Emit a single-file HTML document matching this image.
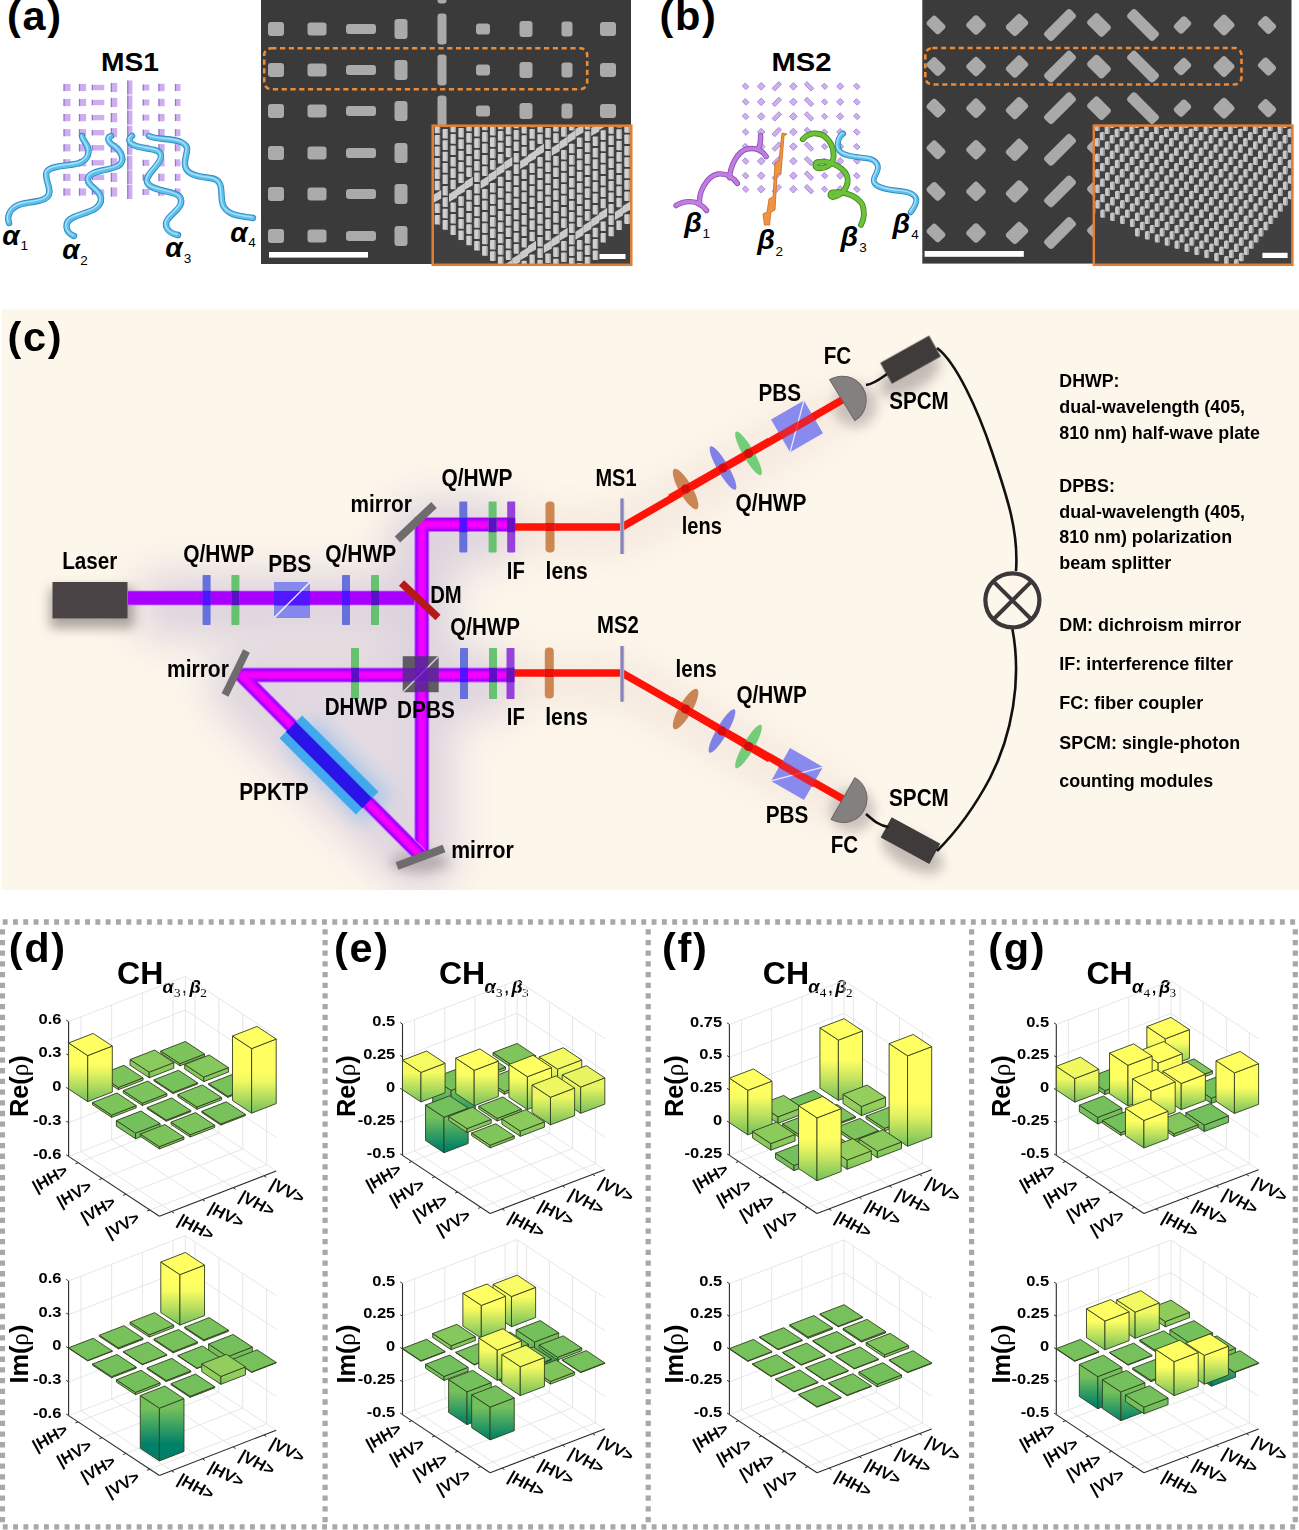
<!DOCTYPE html>
<html><head><meta charset="utf-8"><title>Figure</title>
<style>html,body{margin:0;padding:0;background:#fff;width:1299px;height:1530px;overflow:hidden}svg{display:block}</style>
</head><body>
<svg width="1299" height="1530" viewBox="0 0 1299 1530">
<defs><filter id="semnoise" x="0" y="0" width="100%" height="100%"><feTurbulence type="fractalNoise" baseFrequency="0.035" numOctaves="2" seed="3" result="n"/><feColorMatrix in="n" type="matrix" values="0 0 0 0 0.23  0 0 0 0 0.23  0 0 0 0 0.23  0 0 0 0.35 0" result="c"/><feComposite in="c" in2="SourceGraphic" operator="in" result="d"/><feMerge><feMergeNode in="SourceGraphic"/><feMergeNode in="d"/></feMerge></filter>
<filter id="blur6" x="-50%" y="-50%" width="200%" height="200%"><feGaussianBlur stdDeviation="6"/></filter>
<filter id="blur10" x="-20%" y="-20%" width="140%" height="140%"><feGaussianBlur stdDeviation="10"/></filter>
<filter id="blur14" x="-20%" y="-20%" width="140%" height="140%"><feGaussianBlur stdDeviation="14"/></filter>
<filter id="blur20" x="-30%" y="-30%" width="160%" height="160%"><feGaussianBlur stdDeviation="20"/></filter>
<clipPath id="clipa"><rect x="432.7" y="125.7" width="198.6" height="139.1"/></clipPath>
<clipPath id="clipb"><rect x="1093.8" y="125.6" width="198.6" height="139.2"/></clipPath>
<clipPath id="clipc"><rect x="1" y="309" width="1298" height="581"/></clipPath>
<linearGradient id="g1" gradientUnits="userSpaceOnUse" x1="0" y1="1072.17" x2="0" y2="1077.79"><stop offset="0" stop-color="#8aca5d"/><stop offset="0.17" stop-color="#86c85d"/><stop offset="0.33" stop-color="#82c75d"/><stop offset="0.5" stop-color="#7fc55c"/><stop offset="0.67" stop-color="#7bc35c"/><stop offset="0.83" stop-color="#78c25c"/><stop offset="1" stop-color="#74c05c"/></linearGradient>
<linearGradient id="g2" gradientUnits="userSpaceOnUse" x1="0" y1="1077.14" x2="0" y2="1081.63"><stop offset="0" stop-color="#85c85d"/><stop offset="0.17" stop-color="#82c75d"/><stop offset="0.33" stop-color="#80c55c"/><stop offset="0.5" stop-color="#7dc45c"/><stop offset="0.67" stop-color="#7ac35c"/><stop offset="0.83" stop-color="#77c15c"/><stop offset="1" stop-color="#74c05c"/></linearGradient>
<linearGradient id="g3" gradientUnits="userSpaceOnUse" x1="0" y1="1055.59" x2="0" y2="1101.63"><stop offset="0" stop-color="#ffff62"/><stop offset="0.17" stop-color="#ffff62"/><stop offset="0.33" stop-color="#ebf661"/><stop offset="0.5" stop-color="#cde860"/><stop offset="0.67" stop-color="#afdb5f"/><stop offset="0.83" stop-color="#92cd5d"/><stop offset="1" stop-color="#74c05c"/></linearGradient>
<linearGradient id="g4" gradientUnits="userSpaceOnUse" x1="0" y1="1048.58" x2="0" y2="1113.16"><stop offset="0" stop-color="#ffff62"/><stop offset="0.17" stop-color="#ffff62"/><stop offset="0.33" stop-color="#ffff62"/><stop offset="0.5" stop-color="#f1f961"/><stop offset="0.67" stop-color="#c7e660"/><stop offset="0.83" stop-color="#9ed35e"/><stop offset="1" stop-color="#74c05c"/></linearGradient>
<linearGradient id="g5" gradientUnits="userSpaceOnUse" x1="0" y1="1133.16" x2="0" y2="1138.77"><stop offset="0" stop-color="#74c05c"/><stop offset="0.17" stop-color="#71be5c"/><stop offset="0.33" stop-color="#6ebd5d"/><stop offset="0.5" stop-color="#6bbb5d"/><stop offset="0.67" stop-color="#68b95d"/><stop offset="0.83" stop-color="#65b85e"/><stop offset="1" stop-color="#62b65e"/></linearGradient>
<linearGradient id="g6" gradientUnits="userSpaceOnUse" x1="0" y1="1274.64" x2="0" y2="1325.13"><stop offset="0" stop-color="#ffff62"/><stop offset="0.17" stop-color="#ffff62"/><stop offset="0.33" stop-color="#f6fb62"/><stop offset="0.5" stop-color="#d6ec60"/><stop offset="0.67" stop-color="#b5de5f"/><stop offset="0.83" stop-color="#95cf5d"/><stop offset="1" stop-color="#74c05c"/></linearGradient>
<linearGradient id="g7" gradientUnits="userSpaceOnUse" x1="0" y1="1356.65" x2="0" y2="1364.51"><stop offset="0" stop-color="#74c05c"/><stop offset="0.17" stop-color="#70be5c"/><stop offset="0.33" stop-color="#6cbb5d"/><stop offset="0.5" stop-color="#67b95d"/><stop offset="0.67" stop-color="#63b75e"/><stop offset="0.83" stop-color="#5fb45e"/><stop offset="1" stop-color="#5bb25f"/></linearGradient>
<linearGradient id="g8" gradientUnits="userSpaceOnUse" x1="0" y1="1376.48" x2="0" y2="1384.34"><stop offset="0" stop-color="#92ce5d"/><stop offset="0.17" stop-color="#8dcb5d"/><stop offset="0.33" stop-color="#88c95d"/><stop offset="0.5" stop-color="#83c75d"/><stop offset="0.67" stop-color="#7ec55c"/><stop offset="0.83" stop-color="#79c25c"/><stop offset="1" stop-color="#74c05c"/></linearGradient>
<linearGradient id="g9" gradientUnits="userSpaceOnUse" x1="0" y1="1408.18" x2="0" y2="1460.91"><stop offset="0" stop-color="#74c05c"/><stop offset="0.17" stop-color="#58b05f"/><stop offset="0.33" stop-color="#3ba162"/><stop offset="0.5" stop-color="#1f9165"/><stop offset="0.67" stop-color="#028168"/><stop offset="0.83" stop-color="#008068"/><stop offset="1" stop-color="#008068"/></linearGradient>
<linearGradient id="g10" gradientUnits="userSpaceOnUse" x1="0" y1="1090.48" x2="0" y2="1125.93"><stop offset="0" stop-color="#74c05c"/><stop offset="0.17" stop-color="#5eb45e"/><stop offset="0.33" stop-color="#48a860"/><stop offset="0.5" stop-color="#339c63"/><stop offset="0.67" stop-color="#1d9065"/><stop offset="0.83" stop-color="#078467"/><stop offset="1" stop-color="#008068"/></linearGradient>
<linearGradient id="g11" gradientUnits="userSpaceOnUse" x1="0" y1="1069.17" x2="0" y2="1098.06"><stop offset="0" stop-color="#f3fa62"/><stop offset="0.17" stop-color="#def061"/><stop offset="0.33" stop-color="#c9e660"/><stop offset="0.5" stop-color="#b4dd5f"/><stop offset="0.67" stop-color="#9ed35e"/><stop offset="0.83" stop-color="#89ca5d"/><stop offset="1" stop-color="#74c05c"/></linearGradient>
<linearGradient id="g12" gradientUnits="userSpaceOnUse" x1="0" y1="1072.44" x2="0" y2="1101.98"><stop offset="0" stop-color="#f6fb62"/><stop offset="0.17" stop-color="#e1f161"/><stop offset="0.33" stop-color="#cbe760"/><stop offset="0.5" stop-color="#b5de5f"/><stop offset="0.67" stop-color="#9fd45e"/><stop offset="0.83" stop-color="#8aca5d"/><stop offset="1" stop-color="#74c05c"/></linearGradient>
<linearGradient id="g13" gradientUnits="userSpaceOnUse" x1="0" y1="1070.32" x2="0" y2="1105.77"><stop offset="0" stop-color="#ffff62"/><stop offset="0.17" stop-color="#f6fb62"/><stop offset="0.33" stop-color="#dcef60"/><stop offset="0.5" stop-color="#c2e35f"/><stop offset="0.67" stop-color="#a8d85e"/><stop offset="0.83" stop-color="#8ecc5d"/><stop offset="1" stop-color="#74c05c"/></linearGradient>
<linearGradient id="g14" gradientUnits="userSpaceOnUse" x1="0" y1="1076.74" x2="0" y2="1109.56"><stop offset="0" stop-color="#ffff62"/><stop offset="0.17" stop-color="#edf761"/><stop offset="0.33" stop-color="#d5ec60"/><stop offset="0.5" stop-color="#bce15f"/><stop offset="0.67" stop-color="#a4d65e"/><stop offset="0.83" stop-color="#8ccb5d"/><stop offset="1" stop-color="#74c05c"/></linearGradient>
<linearGradient id="g15" gradientUnits="userSpaceOnUse" x1="0" y1="1087.09" x2="0" y2="1113.35"><stop offset="0" stop-color="#e8f461"/><stop offset="0.17" stop-color="#d5ec60"/><stop offset="0.33" stop-color="#c1e35f"/><stop offset="0.5" stop-color="#aeda5e"/><stop offset="0.67" stop-color="#9bd25e"/><stop offset="0.83" stop-color="#87c95d"/><stop offset="1" stop-color="#74c05c"/></linearGradient>
<linearGradient id="g16" gradientUnits="userSpaceOnUse" x1="0" y1="1117.27" x2="0" y2="1152.72"><stop offset="0" stop-color="#74c05c"/><stop offset="0.17" stop-color="#5eb45e"/><stop offset="0.33" stop-color="#48a860"/><stop offset="0.5" stop-color="#339c63"/><stop offset="0.67" stop-color="#1d9065"/><stop offset="0.83" stop-color="#078467"/><stop offset="1" stop-color="#008068"/></linearGradient>
<linearGradient id="g17" gradientUnits="userSpaceOnUse" x1="0" y1="1097.28" x2="0" y2="1124.85"><stop offset="0" stop-color="#eef761"/><stop offset="0.17" stop-color="#d9ee60"/><stop offset="0.33" stop-color="#c5e560"/><stop offset="0.5" stop-color="#b1dc5f"/><stop offset="0.67" stop-color="#9dd25e"/><stop offset="0.83" stop-color="#88c95d"/><stop offset="1" stop-color="#74c05c"/></linearGradient>
<linearGradient id="g18" gradientUnits="userSpaceOnUse" x1="0" y1="1128.62" x2="0" y2="1132.56"><stop offset="0" stop-color="#85c85d"/><stop offset="0.17" stop-color="#82c75d"/><stop offset="0.33" stop-color="#80c55c"/><stop offset="0.5" stop-color="#7dc45c"/><stop offset="0.67" stop-color="#7ac35c"/><stop offset="0.83" stop-color="#77c15c"/><stop offset="1" stop-color="#74c05c"/></linearGradient>
<linearGradient id="g19" gradientUnits="userSpaceOnUse" x1="0" y1="1131.1" x2="0" y2="1136.35"><stop offset="0" stop-color="#8bca5d"/><stop offset="0.17" stop-color="#87c95d"/><stop offset="0.33" stop-color="#83c75d"/><stop offset="0.5" stop-color="#80c55c"/><stop offset="0.67" stop-color="#7cc45c"/><stop offset="0.83" stop-color="#78c25c"/><stop offset="1" stop-color="#74c05c"/></linearGradient>
<linearGradient id="g20" gradientUnits="userSpaceOnUse" x1="0" y1="1296.56" x2="0" y2="1326.73"><stop offset="0" stop-color="#f9fc62"/><stop offset="0.17" stop-color="#e3f261"/><stop offset="0.33" stop-color="#cde860"/><stop offset="0.5" stop-color="#b7de5f"/><stop offset="0.67" stop-color="#a0d45e"/><stop offset="0.83" stop-color="#8aca5d"/><stop offset="1" stop-color="#74c05c"/></linearGradient>
<linearGradient id="g21" gradientUnits="userSpaceOnUse" x1="0" y1="1305.43" x2="0" y2="1338.23"><stop offset="0" stop-color="#ffff62"/><stop offset="0.17" stop-color="#edf761"/><stop offset="0.33" stop-color="#d5ec60"/><stop offset="0.5" stop-color="#bce15f"/><stop offset="0.67" stop-color="#a4d65e"/><stop offset="0.83" stop-color="#8ccb5d"/><stop offset="1" stop-color="#74c05c"/></linearGradient>
<linearGradient id="g22" gradientUnits="userSpaceOnUse" x1="0" y1="1342.02" x2="0" y2="1370.89"><stop offset="0" stop-color="#74c05c"/><stop offset="0.17" stop-color="#62b65e"/><stop offset="0.33" stop-color="#51ac60"/><stop offset="0.5" stop-color="#3fa362"/><stop offset="0.67" stop-color="#2d9963"/><stop offset="0.83" stop-color="#1b8f65"/><stop offset="1" stop-color="#0a8567"/></linearGradient>
<linearGradient id="g23" gradientUnits="userSpaceOnUse" x1="0" y1="1345.8" x2="0" y2="1349.73"><stop offset="0" stop-color="#85c85d"/><stop offset="0.17" stop-color="#82c75d"/><stop offset="0.33" stop-color="#80c55c"/><stop offset="0.5" stop-color="#7dc45c"/><stop offset="0.67" stop-color="#7ac35c"/><stop offset="0.83" stop-color="#77c15c"/><stop offset="1" stop-color="#74c05c"/></linearGradient>
<linearGradient id="g24" gradientUnits="userSpaceOnUse" x1="0" y1="1353.52" x2="0" y2="1383.7"><stop offset="0" stop-color="#74c05c"/><stop offset="0.17" stop-color="#61b65e"/><stop offset="0.33" stop-color="#4fac60"/><stop offset="0.5" stop-color="#3ca162"/><stop offset="0.67" stop-color="#2a9764"/><stop offset="0.83" stop-color="#178d66"/><stop offset="1" stop-color="#058368"/></linearGradient>
<linearGradient id="g25" gradientUnits="userSpaceOnUse" x1="0" y1="1376.52" x2="0" y2="1380.46"><stop offset="0" stop-color="#74c05c"/><stop offset="0.17" stop-color="#72bf5c"/><stop offset="0.33" stop-color="#6fbd5c"/><stop offset="0.5" stop-color="#6dbc5d"/><stop offset="0.67" stop-color="#6abb5d"/><stop offset="0.83" stop-color="#68b95d"/><stop offset="1" stop-color="#66b85e"/></linearGradient>
<linearGradient id="g26" gradientUnits="userSpaceOnUse" x1="0" y1="1350.13" x2="0" y2="1380.31"><stop offset="0" stop-color="#f9fc62"/><stop offset="0.17" stop-color="#e3f261"/><stop offset="0.33" stop-color="#cde860"/><stop offset="0.5" stop-color="#b7de5f"/><stop offset="0.67" stop-color="#a0d45e"/><stop offset="0.83" stop-color="#8aca5d"/><stop offset="1" stop-color="#74c05c"/></linearGradient>
<linearGradient id="g27" gradientUnits="userSpaceOnUse" x1="0" y1="1391.81" x2="0" y2="1424.61"><stop offset="0" stop-color="#74c05c"/><stop offset="0.17" stop-color="#60b55e"/><stop offset="0.33" stop-color="#4caa60"/><stop offset="0.5" stop-color="#389f62"/><stop offset="0.67" stop-color="#239464"/><stop offset="0.83" stop-color="#0f8866"/><stop offset="1" stop-color="#008068"/></linearGradient>
<linearGradient id="g28" gradientUnits="userSpaceOnUse" x1="0" y1="1366.74" x2="0" y2="1395.6"><stop offset="0" stop-color="#f3fa62"/><stop offset="0.17" stop-color="#def061"/><stop offset="0.33" stop-color="#c9e660"/><stop offset="0.5" stop-color="#b4dd5f"/><stop offset="0.67" stop-color="#9ed35e"/><stop offset="0.83" stop-color="#89ca5d"/><stop offset="1" stop-color="#74c05c"/></linearGradient>
<linearGradient id="g29" gradientUnits="userSpaceOnUse" x1="0" y1="1407.1" x2="0" y2="1439.9"><stop offset="0" stop-color="#74c05c"/><stop offset="0.17" stop-color="#60b55e"/><stop offset="0.33" stop-color="#4caa60"/><stop offset="0.5" stop-color="#389f62"/><stop offset="0.67" stop-color="#239464"/><stop offset="0.83" stop-color="#0f8866"/><stop offset="1" stop-color="#008068"/></linearGradient>
<linearGradient id="g30" gradientUnits="userSpaceOnUse" x1="0" y1="1040.12" x2="0" y2="1100.38"><stop offset="0" stop-color="#ffff62"/><stop offset="0.17" stop-color="#ffff62"/><stop offset="0.33" stop-color="#ffff62"/><stop offset="0.5" stop-color="#dff061"/><stop offset="0.67" stop-color="#bbe05f"/><stop offset="0.83" stop-color="#98d05e"/><stop offset="1" stop-color="#74c05c"/></linearGradient>
<linearGradient id="g31" gradientUnits="userSpaceOnUse" x1="0" y1="1111.88" x2="0" y2="1115.81"><stop offset="0" stop-color="#74c05c"/><stop offset="0.17" stop-color="#72bf5c"/><stop offset="0.33" stop-color="#70be5c"/><stop offset="0.5" stop-color="#6ebd5d"/><stop offset="0.67" stop-color="#6cbc5d"/><stop offset="0.83" stop-color="#6abb5d"/><stop offset="1" stop-color="#68ba5d"/></linearGradient>
<linearGradient id="g32" gradientUnits="userSpaceOnUse" x1="0" y1="1106.5" x2="0" y2="1115.67"><stop offset="0" stop-color="#94cf5d"/><stop offset="0.17" stop-color="#8fcc5d"/><stop offset="0.33" stop-color="#8aca5d"/><stop offset="0.5" stop-color="#84c75d"/><stop offset="0.67" stop-color="#7fc55c"/><stop offset="0.83" stop-color="#79c25c"/><stop offset="1" stop-color="#74c05c"/></linearGradient>
<linearGradient id="g33" gradientUnits="userSpaceOnUse" x1="0" y1="1116.83" x2="0" y2="1123.38"><stop offset="0" stop-color="#8bca5d"/><stop offset="0.17" stop-color="#87c95d"/><stop offset="0.33" stop-color="#83c75d"/><stop offset="0.5" stop-color="#80c55c"/><stop offset="0.67" stop-color="#7cc45c"/><stop offset="0.83" stop-color="#78c25c"/><stop offset="1" stop-color="#74c05c"/></linearGradient>
<linearGradient id="g34" gradientUnits="userSpaceOnUse" x1="0" y1="1090.34" x2="0" y2="1134.88"><stop offset="0" stop-color="#ffff62"/><stop offset="0.17" stop-color="#f7fc62"/><stop offset="0.33" stop-color="#ddf061"/><stop offset="0.5" stop-color="#c3e45f"/><stop offset="0.67" stop-color="#a9d85e"/><stop offset="0.83" stop-color="#8ecc5d"/><stop offset="1" stop-color="#74c05c"/></linearGradient>
<linearGradient id="g35" gradientUnits="userSpaceOnUse" x1="0" y1="1055.86" x2="0" y2="1146.25"><stop offset="0" stop-color="#ffff62"/><stop offset="0.17" stop-color="#ffff62"/><stop offset="0.33" stop-color="#ffff62"/><stop offset="0.5" stop-color="#ffff62"/><stop offset="0.67" stop-color="#dff061"/><stop offset="0.83" stop-color="#a9d85e"/><stop offset="1" stop-color="#74c05c"/></linearGradient>
<linearGradient id="g36" gradientUnits="userSpaceOnUse" x1="0" y1="1143.62" x2="0" y2="1150.17"><stop offset="0" stop-color="#8bca5d"/><stop offset="0.17" stop-color="#87c95d"/><stop offset="0.33" stop-color="#83c75d"/><stop offset="0.5" stop-color="#80c55c"/><stop offset="0.67" stop-color="#7cc45c"/><stop offset="0.83" stop-color="#78c25c"/><stop offset="1" stop-color="#74c05c"/></linearGradient>
<linearGradient id="g37" gradientUnits="userSpaceOnUse" x1="0" y1="1151.2" x2="0" y2="1157.75"><stop offset="0" stop-color="#8bca5d"/><stop offset="0.17" stop-color="#87c95d"/><stop offset="0.33" stop-color="#83c75d"/><stop offset="0.5" stop-color="#80c55c"/><stop offset="0.67" stop-color="#7cc45c"/><stop offset="0.83" stop-color="#78c25c"/><stop offset="1" stop-color="#74c05c"/></linearGradient>
<linearGradient id="g38" gradientUnits="userSpaceOnUse" x1="0" y1="1165.46" x2="0" y2="1170.7"><stop offset="0" stop-color="#74c05c"/><stop offset="0.17" stop-color="#71bf5c"/><stop offset="0.33" stop-color="#6fbd5d"/><stop offset="0.5" stop-color="#6cbc5d"/><stop offset="0.67" stop-color="#6aba5d"/><stop offset="0.83" stop-color="#67b95d"/><stop offset="1" stop-color="#65b75e"/></linearGradient>
<linearGradient id="g39" gradientUnits="userSpaceOnUse" x1="0" y1="1160.08" x2="0" y2="1169.25"><stop offset="0" stop-color="#94cf5d"/><stop offset="0.17" stop-color="#8fcc5d"/><stop offset="0.33" stop-color="#8aca5d"/><stop offset="0.5" stop-color="#84c75d"/><stop offset="0.67" stop-color="#7fc55c"/><stop offset="0.83" stop-color="#79c25c"/><stop offset="1" stop-color="#74c05c"/></linearGradient>
<linearGradient id="g40" gradientUnits="userSpaceOnUse" x1="0" y1="1117.87" x2="0" y2="1180.75"><stop offset="0" stop-color="#ffff62"/><stop offset="0.17" stop-color="#ffff62"/><stop offset="0.33" stop-color="#ffff62"/><stop offset="0.5" stop-color="#e3f261"/><stop offset="0.67" stop-color="#bee25f"/><stop offset="0.83" stop-color="#99d15e"/><stop offset="1" stop-color="#74c05c"/></linearGradient>
<linearGradient id="g41" gradientUnits="userSpaceOnUse" x1="0" y1="1038.81" x2="0" y2="1067.63"><stop offset="0" stop-color="#ffff62"/><stop offset="0.17" stop-color="#f3fa62"/><stop offset="0.33" stop-color="#daee60"/><stop offset="0.5" stop-color="#c0e35f"/><stop offset="0.67" stop-color="#a7d75e"/><stop offset="0.83" stop-color="#8dcc5d"/><stop offset="1" stop-color="#74c05c"/></linearGradient>
<linearGradient id="g42" gradientUnits="userSpaceOnUse" x1="0" y1="1090.63" x2="0" y2="1094.56"><stop offset="0" stop-color="#74c05c"/><stop offset="0.17" stop-color="#71be5c"/><stop offset="0.33" stop-color="#6ebd5d"/><stop offset="0.5" stop-color="#6bbb5d"/><stop offset="0.67" stop-color="#68ba5d"/><stop offset="0.83" stop-color="#66b85e"/><stop offset="1" stop-color="#63b65e"/></linearGradient>
<linearGradient id="g43" gradientUnits="userSpaceOnUse" x1="0" y1="1062.98" x2="0" y2="1094.42"><stop offset="0" stop-color="#ffff62"/><stop offset="0.17" stop-color="#ffff62"/><stop offset="0.33" stop-color="#e3f261"/><stop offset="0.5" stop-color="#c7e660"/><stop offset="0.67" stop-color="#acd95e"/><stop offset="0.83" stop-color="#90cd5d"/><stop offset="1" stop-color="#74c05c"/></linearGradient>
<linearGradient id="g44" gradientUnits="userSpaceOnUse" x1="0" y1="1098.21" x2="0" y2="1103.45"><stop offset="0" stop-color="#74c05c"/><stop offset="0.17" stop-color="#70be5c"/><stop offset="0.33" stop-color="#6cbc5d"/><stop offset="0.5" stop-color="#68ba5d"/><stop offset="0.67" stop-color="#65b75e"/><stop offset="0.83" stop-color="#61b55e"/><stop offset="1" stop-color="#5db35e"/></linearGradient>
<linearGradient id="g45" gradientUnits="userSpaceOnUse" x1="0" y1="1078.55" x2="0" y2="1102.13"><stop offset="0" stop-color="#f1f961"/><stop offset="0.17" stop-color="#dcef60"/><stop offset="0.33" stop-color="#c7e660"/><stop offset="0.5" stop-color="#b3dc5f"/><stop offset="0.67" stop-color="#9ed35e"/><stop offset="0.83" stop-color="#89c95d"/><stop offset="1" stop-color="#74c05c"/></linearGradient>
<linearGradient id="g46" gradientUnits="userSpaceOnUse" x1="0" y1="1065.31" x2="0" y2="1105.92"><stop offset="0" stop-color="#ffff62"/><stop offset="0.17" stop-color="#ffff62"/><stop offset="0.33" stop-color="#ffff62"/><stop offset="0.5" stop-color="#e0f161"/><stop offset="0.67" stop-color="#bce15f"/><stop offset="0.83" stop-color="#98d05e"/><stop offset="1" stop-color="#74c05c"/></linearGradient>
<linearGradient id="g47" gradientUnits="userSpaceOnUse" x1="0" y1="1083.51" x2="0" y2="1109.71"><stop offset="0" stop-color="#ffff62"/><stop offset="0.17" stop-color="#e8f461"/><stop offset="0.33" stop-color="#d1ea60"/><stop offset="0.5" stop-color="#bae05f"/><stop offset="0.67" stop-color="#a2d55e"/><stop offset="0.83" stop-color="#8bca5d"/><stop offset="1" stop-color="#74c05c"/></linearGradient>
<linearGradient id="g48" gradientUnits="userSpaceOnUse" x1="0" y1="1072.89" x2="0" y2="1113.5"><stop offset="0" stop-color="#ffff62"/><stop offset="0.17" stop-color="#ffff62"/><stop offset="0.33" stop-color="#ffff62"/><stop offset="0.5" stop-color="#e0f161"/><stop offset="0.67" stop-color="#bce15f"/><stop offset="0.83" stop-color="#98d05e"/><stop offset="1" stop-color="#74c05c"/></linearGradient>
<linearGradient id="g49" gradientUnits="userSpaceOnUse" x1="0" y1="1117.42" x2="0" y2="1123.97"><stop offset="0" stop-color="#74c05c"/><stop offset="0.17" stop-color="#6fbd5c"/><stop offset="0.33" stop-color="#6abb5d"/><stop offset="0.5" stop-color="#66b85e"/><stop offset="0.67" stop-color="#61b55e"/><stop offset="0.83" stop-color="#5cb35e"/><stop offset="1" stop-color="#57b05f"/></linearGradient>
<linearGradient id="g50" gradientUnits="userSpaceOnUse" x1="0" y1="1091.08" x2="0" y2="1121.21"><stop offset="0" stop-color="#ffff62"/><stop offset="0.17" stop-color="#f9fc62"/><stop offset="0.33" stop-color="#dff061"/><stop offset="0.5" stop-color="#c4e45f"/><stop offset="0.67" stop-color="#a9d85e"/><stop offset="0.83" stop-color="#8fcc5d"/><stop offset="1" stop-color="#74c05c"/></linearGradient>
<linearGradient id="g51" gradientUnits="userSpaceOnUse" x1="0" y1="1125" x2="0" y2="1131.55"><stop offset="0" stop-color="#74c05c"/><stop offset="0.17" stop-color="#6fbd5c"/><stop offset="0.33" stop-color="#6abb5d"/><stop offset="0.5" stop-color="#66b85e"/><stop offset="0.67" stop-color="#61b55e"/><stop offset="0.83" stop-color="#5cb35e"/><stop offset="1" stop-color="#57b05f"/></linearGradient>
<linearGradient id="g52" gradientUnits="userSpaceOnUse" x1="0" y1="1120.49" x2="0" y2="1148"><stop offset="0" stop-color="#ffff62"/><stop offset="0.17" stop-color="#eef761"/><stop offset="0.33" stop-color="#d5ec60"/><stop offset="0.5" stop-color="#bde15f"/><stop offset="0.67" stop-color="#a5d65e"/><stop offset="0.83" stop-color="#8ccb5d"/><stop offset="1" stop-color="#74c05c"/></linearGradient>
<linearGradient id="g53" gradientUnits="userSpaceOnUse" x1="0" y1="1321.59" x2="0" y2="1326.83"><stop offset="0" stop-color="#8dcb5d"/><stop offset="0.17" stop-color="#89ca5d"/><stop offset="0.33" stop-color="#85c85d"/><stop offset="0.5" stop-color="#81c65d"/><stop offset="0.67" stop-color="#7cc45c"/><stop offset="0.83" stop-color="#78c25c"/><stop offset="1" stop-color="#74c05c"/></linearGradient>
<linearGradient id="g54" gradientUnits="userSpaceOnUse" x1="0" y1="1312.13" x2="0" y2="1338.33"><stop offset="0" stop-color="#f2f961"/><stop offset="0.17" stop-color="#ddf061"/><stop offset="0.33" stop-color="#c8e660"/><stop offset="0.5" stop-color="#b3dd5f"/><stop offset="0.67" stop-color="#9ed35e"/><stop offset="0.83" stop-color="#89ca5d"/><stop offset="1" stop-color="#74c05c"/></linearGradient>
<linearGradient id="g55" gradientUnits="userSpaceOnUse" x1="0" y1="1342.12" x2="0" y2="1376.18"><stop offset="0" stop-color="#74c05c"/><stop offset="0.17" stop-color="#5db35e"/><stop offset="0.33" stop-color="#46a761"/><stop offset="0.5" stop-color="#2f9a63"/><stop offset="0.67" stop-color="#198e65"/><stop offset="0.83" stop-color="#028168"/><stop offset="1" stop-color="#008068"/></linearGradient>
<linearGradient id="g56" gradientUnits="userSpaceOnUse" x1="0" y1="1321.01" x2="0" y2="1349.83"><stop offset="0" stop-color="#ffff62"/><stop offset="0.17" stop-color="#e8f461"/><stop offset="0.33" stop-color="#d1ea60"/><stop offset="0.5" stop-color="#bae05f"/><stop offset="0.67" stop-color="#a2d55e"/><stop offset="0.83" stop-color="#8bca5d"/><stop offset="1" stop-color="#74c05c"/></linearGradient>
<linearGradient id="g57" gradientUnits="userSpaceOnUse" x1="0" y1="1357.41" x2="0" y2="1386.23"><stop offset="0" stop-color="#74c05c"/><stop offset="0.17" stop-color="#61b55e"/><stop offset="0.33" stop-color="#4dab60"/><stop offset="0.5" stop-color="#3aa062"/><stop offset="0.67" stop-color="#279564"/><stop offset="0.83" stop-color="#138b66"/><stop offset="1" stop-color="#008068"/></linearGradient>
<linearGradient id="g58" gradientUnits="userSpaceOnUse" x1="0" y1="1376.62" x2="0" y2="1408.72"><stop offset="0" stop-color="#74c05c"/><stop offset="0.17" stop-color="#5eb45e"/><stop offset="0.33" stop-color="#49a860"/><stop offset="0.5" stop-color="#339c63"/><stop offset="0.67" stop-color="#1e9065"/><stop offset="0.83" stop-color="#088567"/><stop offset="1" stop-color="#008068"/></linearGradient>
<linearGradient id="g59" gradientUnits="userSpaceOnUse" x1="0" y1="1355.38" x2="0" y2="1384.2"><stop offset="0" stop-color="#ffff62"/><stop offset="0.17" stop-color="#e8f461"/><stop offset="0.33" stop-color="#d1ea60"/><stop offset="0.5" stop-color="#bae05f"/><stop offset="0.67" stop-color="#a2d55e"/><stop offset="0.83" stop-color="#8bca5d"/><stop offset="1" stop-color="#74c05c"/></linearGradient>
<linearGradient id="g60" gradientUnits="userSpaceOnUse" x1="0" y1="1391.91" x2="0" y2="1420.73"><stop offset="0" stop-color="#74c05c"/><stop offset="0.17" stop-color="#61b55e"/><stop offset="0.33" stop-color="#4dab60"/><stop offset="0.5" stop-color="#3aa062"/><stop offset="0.67" stop-color="#279564"/><stop offset="0.83" stop-color="#138b66"/><stop offset="1" stop-color="#008068"/></linearGradient>
<linearGradient id="g61" gradientUnits="userSpaceOnUse" x1="0" y1="1361.64" x2="0" y2="1395.7"><stop offset="0" stop-color="#ffff62"/><stop offset="0.17" stop-color="#fdfe62"/><stop offset="0.33" stop-color="#e2f261"/><stop offset="0.5" stop-color="#c6e560"/><stop offset="0.67" stop-color="#abd95e"/><stop offset="0.83" stop-color="#8fcc5d"/><stop offset="1" stop-color="#74c05c"/></linearGradient>
<linearGradient id="g62" gradientUnits="userSpaceOnUse" x1="0" y1="1407.2" x2="0" y2="1413.75"><stop offset="0" stop-color="#74c05c"/><stop offset="0.17" stop-color="#70be5c"/><stop offset="0.33" stop-color="#6bbb5d"/><stop offset="0.5" stop-color="#67b95d"/><stop offset="0.67" stop-color="#62b65e"/><stop offset="0.83" stop-color="#5eb45e"/><stop offset="1" stop-color="#5ab15f"/></linearGradient></defs>
<rect x="0" y="0" width="1299" height="1530" fill="#ffffff"/>
<text x="7" y="29.5" font-family="Liberation Sans, sans-serif" font-size="41.5" font-weight="bold" text-anchor="start" fill="#000" letter-spacing="1.7">(a)</text>
<text x="659.4" y="29.8" font-family="Liberation Sans, sans-serif" font-size="41.5" font-weight="bold" text-anchor="start" fill="#000" letter-spacing="1.7">(b)</text>
<text x="101" y="71" font-family="Liberation Sans, sans-serif" font-size="26" font-weight="bold" text-anchor="start" fill="#000" textLength="58" lengthAdjust="spacingAndGlyphs" >MS1</text>
<text x="771.5" y="70.5" font-family="Liberation Sans, sans-serif" font-size="26" font-weight="bold" text-anchor="start" fill="#000" textLength="60" lengthAdjust="spacingAndGlyphs" >MS2</text>
<rect x="261" y="0" width="370" height="264" rx="0" fill="#3a3a3a" />
<rect x="268" y="22" width="16" height="14" rx="3" fill="#aaaaaa" />
<rect x="268" y="63" width="16" height="14" rx="3" fill="#aaaaaa" />
<rect x="268" y="104" width="16" height="14" rx="3" fill="#aaaaaa" />
<rect x="268" y="146" width="16" height="14" rx="3" fill="#aaaaaa" />
<rect x="268" y="187" width="16" height="14" rx="3" fill="#aaaaaa" />
<rect x="268" y="229" width="16" height="14" rx="3" fill="#aaaaaa" />
<rect x="307.5" y="22.5" width="19" height="13" rx="3" fill="#aaaaaa" />
<rect x="307.5" y="63.5" width="19" height="13" rx="3" fill="#aaaaaa" />
<rect x="307.5" y="104.5" width="19" height="13" rx="3" fill="#aaaaaa" />
<rect x="307.5" y="146.5" width="19" height="13" rx="3" fill="#aaaaaa" />
<rect x="307.5" y="187.5" width="19" height="13" rx="3" fill="#aaaaaa" />
<rect x="307.5" y="229.5" width="19" height="13" rx="3" fill="#aaaaaa" />
<rect x="346" y="24" width="30" height="10" rx="3" fill="#aaaaaa" />
<rect x="346" y="65" width="30" height="10" rx="3" fill="#aaaaaa" />
<rect x="346" y="106" width="30" height="10" rx="3" fill="#aaaaaa" />
<rect x="346" y="148" width="30" height="10" rx="3" fill="#aaaaaa" />
<rect x="346" y="189" width="30" height="10" rx="3" fill="#aaaaaa" />
<rect x="346" y="231" width="30" height="10" rx="3" fill="#aaaaaa" />
<rect x="394.5" y="19" width="13" height="20" rx="3" fill="#aaaaaa" />
<rect x="394.5" y="60" width="13" height="20" rx="3" fill="#aaaaaa" />
<rect x="394.5" y="101" width="13" height="20" rx="3" fill="#aaaaaa" />
<rect x="394.5" y="143" width="13" height="20" rx="3" fill="#aaaaaa" />
<rect x="394.5" y="184" width="13" height="20" rx="3" fill="#aaaaaa" />
<rect x="394.5" y="226" width="13" height="20" rx="3" fill="#aaaaaa" />
<rect x="437.5" y="13.5" width="9" height="31" rx="3" fill="#aaaaaa" />
<rect x="437.5" y="54.5" width="9" height="31" rx="3" fill="#aaaaaa" />
<rect x="437.5" y="95.5" width="9" height="31" rx="3" fill="#aaaaaa" />
<rect x="437.5" y="137.5" width="9" height="31" rx="3" fill="#aaaaaa" />
<rect x="437.5" y="178.5" width="9" height="31" rx="3" fill="#aaaaaa" />
<rect x="437.5" y="220.5" width="9" height="31" rx="3" fill="#aaaaaa" />
<rect x="437.5" y="-27.5" width="9" height="31" rx="3" fill="#aaaaaa" />
<rect x="476" y="23.5" width="14" height="11" rx="3" fill="#aaaaaa" />
<rect x="476" y="64.5" width="14" height="11" rx="3" fill="#aaaaaa" />
<rect x="476" y="105.5" width="14" height="11" rx="3" fill="#aaaaaa" />
<rect x="476" y="147.5" width="14" height="11" rx="3" fill="#aaaaaa" />
<rect x="476" y="188.5" width="14" height="11" rx="3" fill="#aaaaaa" />
<rect x="476" y="230.5" width="14" height="11" rx="3" fill="#aaaaaa" />
<rect x="519.5" y="21" width="13" height="16" rx="3" fill="#aaaaaa" />
<rect x="519.5" y="62" width="13" height="16" rx="3" fill="#aaaaaa" />
<rect x="519.5" y="103" width="13" height="16" rx="3" fill="#aaaaaa" />
<rect x="519.5" y="145" width="13" height="16" rx="3" fill="#aaaaaa" />
<rect x="519.5" y="186" width="13" height="16" rx="3" fill="#aaaaaa" />
<rect x="519.5" y="228" width="13" height="16" rx="3" fill="#aaaaaa" />
<rect x="561.5" y="21.5" width="11" height="15" rx="3" fill="#aaaaaa" />
<rect x="561.5" y="62.5" width="11" height="15" rx="3" fill="#aaaaaa" />
<rect x="561.5" y="103.5" width="11" height="15" rx="3" fill="#aaaaaa" />
<rect x="561.5" y="145.5" width="11" height="15" rx="3" fill="#aaaaaa" />
<rect x="561.5" y="186.5" width="11" height="15" rx="3" fill="#aaaaaa" />
<rect x="561.5" y="228.5" width="11" height="15" rx="3" fill="#aaaaaa" />
<rect x="600" y="22" width="16" height="14" rx="3" fill="#aaaaaa" />
<rect x="600" y="63" width="16" height="14" rx="3" fill="#aaaaaa" />
<rect x="600" y="104" width="16" height="14" rx="3" fill="#aaaaaa" />
<rect x="600" y="146" width="16" height="14" rx="3" fill="#aaaaaa" />
<rect x="600" y="187" width="16" height="14" rx="3" fill="#aaaaaa" />
<rect x="600" y="229" width="16" height="14" rx="3" fill="#aaaaaa" />
<rect x="264.2" y="48.2" width="323" height="41" rx="7" fill="none" stroke="#ec8a35" stroke-width="2.6" stroke-dasharray="5.2,3.6"/>
<g>
<rect x="432.7" y="125.7" width="198.6" height="139.1" rx="0" fill="#404040" />
<g clip-path="url(#clipa)">
<rect x="426.8" y="118.5" width="5.4" height="9.6" rx="0.8" fill="#d0d0d0" />
<rect x="430.9" y="119" width="1.3" height="9.1" rx="0" fill="#a4a4a4" />
<rect x="426.8" y="129.9" width="5.4" height="9.6" rx="0.8" fill="#d0d0d0" />
<rect x="430.9" y="130.4" width="1.3" height="9.1" rx="0" fill="#a4a4a4" />
<rect x="426.8" y="141.3" width="5.4" height="9.6" rx="0.8" fill="#d0d0d0" />
<rect x="430.9" y="141.8" width="1.3" height="9.1" rx="0" fill="#a4a4a4" />
<rect x="426.8" y="152.7" width="5.4" height="9.6" rx="0.8" fill="#d0d0d0" />
<rect x="430.9" y="153.2" width="1.3" height="9.1" rx="0" fill="#a4a4a4" />
<rect x="426.8" y="164.1" width="5.4" height="9.6" rx="0.8" fill="#d0d0d0" />
<rect x="430.9" y="164.6" width="1.3" height="9.1" rx="0" fill="#a4a4a4" />
<rect x="426.8" y="175.5" width="5.4" height="9.6" rx="0.8" fill="#d0d0d0" />
<rect x="430.9" y="176" width="1.3" height="9.1" rx="0" fill="#a4a4a4" />
<rect x="426.8" y="186.9" width="5.4" height="9.6" rx="0.8" fill="#d0d0d0" />
<rect x="430.9" y="187.4" width="1.3" height="9.1" rx="0" fill="#a4a4a4" />
<polygon points="425.3,201.3 433.3,196.3 433.3,204.8 425.3,209.3" fill="#cbcbcb" stroke="none" stroke-width="0" />
<rect x="426.8" y="209.7" width="5.4" height="9.6" rx="0.8" fill="#d0d0d0" />
<rect x="430.9" y="210.2" width="1.3" height="9.1" rx="0" fill="#a4a4a4" />
<rect x="434.7" y="123.7" width="5.4" height="9.6" rx="0.8" fill="#d0d0d0" />
<rect x="438.8" y="124.2" width="1.3" height="9.1" rx="0" fill="#a4a4a4" />
<rect x="434.7" y="135.1" width="5.4" height="9.6" rx="0.8" fill="#d0d0d0" />
<rect x="438.8" y="135.6" width="1.3" height="9.1" rx="0" fill="#a4a4a4" />
<rect x="434.7" y="146.5" width="5.4" height="9.6" rx="0.8" fill="#d0d0d0" />
<rect x="438.8" y="147" width="1.3" height="9.1" rx="0" fill="#a4a4a4" />
<rect x="434.7" y="157.9" width="5.4" height="9.6" rx="0.8" fill="#d0d0d0" />
<rect x="438.8" y="158.4" width="1.3" height="9.1" rx="0" fill="#a4a4a4" />
<rect x="434.7" y="169.3" width="5.4" height="9.6" rx="0.8" fill="#d0d0d0" />
<rect x="438.8" y="169.8" width="1.3" height="9.1" rx="0" fill="#a4a4a4" />
<rect x="434.7" y="180.7" width="5.4" height="9.6" rx="0.8" fill="#d0d0d0" />
<rect x="438.8" y="181.2" width="1.3" height="9.1" rx="0" fill="#a4a4a4" />
<polygon points="433.2,195.1 441.2,190.1 441.2,198.6 433.2,203.1" fill="#cbcbcb" stroke="none" stroke-width="0" />
<rect x="434.7" y="203.5" width="5.4" height="9.6" rx="0.8" fill="#d0d0d0" />
<rect x="438.8" y="204" width="1.3" height="9.1" rx="0" fill="#a4a4a4" />
<rect x="434.7" y="214.9" width="5.4" height="9.6" rx="0.8" fill="#d0d0d0" />
<rect x="438.8" y="215.4" width="1.3" height="9.1" rx="0" fill="#a4a4a4" />
<rect x="442.6" y="117.5" width="5.4" height="9.6" rx="0.8" fill="#d0d0d0" />
<rect x="446.7" y="118" width="1.3" height="9.1" rx="0" fill="#a4a4a4" />
<rect x="442.6" y="128.9" width="5.4" height="9.6" rx="0.8" fill="#d0d0d0" />
<rect x="446.7" y="129.4" width="1.3" height="9.1" rx="0" fill="#a4a4a4" />
<rect x="442.6" y="140.3" width="5.4" height="9.6" rx="0.8" fill="#d0d0d0" />
<rect x="446.7" y="140.8" width="1.3" height="9.1" rx="0" fill="#a4a4a4" />
<rect x="442.6" y="151.7" width="5.4" height="9.6" rx="0.8" fill="#d0d0d0" />
<rect x="446.7" y="152.2" width="1.3" height="9.1" rx="0" fill="#a4a4a4" />
<rect x="442.6" y="163.1" width="5.4" height="9.6" rx="0.8" fill="#d0d0d0" />
<rect x="446.7" y="163.6" width="1.3" height="9.1" rx="0" fill="#a4a4a4" />
<rect x="442.6" y="174.5" width="5.4" height="9.6" rx="0.8" fill="#d0d0d0" />
<rect x="446.7" y="175" width="1.3" height="9.1" rx="0" fill="#a4a4a4" />
<rect x="442.6" y="185.9" width="5.4" height="9.6" rx="0.8" fill="#d0d0d0" />
<rect x="446.7" y="186.4" width="1.3" height="9.1" rx="0" fill="#a4a4a4" />
<rect x="442.6" y="197.3" width="5.4" height="9.6" rx="0.8" fill="#d0d0d0" />
<rect x="446.7" y="197.8" width="1.3" height="9.1" rx="0" fill="#a4a4a4" />
<rect x="442.6" y="208.7" width="5.4" height="9.6" rx="0.8" fill="#d0d0d0" />
<rect x="446.7" y="209.2" width="1.3" height="9.1" rx="0" fill="#a4a4a4" />
<rect x="442.6" y="220.1" width="5.4" height="9.6" rx="0.8" fill="#d0d0d0" />
<rect x="446.7" y="220.6" width="1.3" height="9.1" rx="0" fill="#a4a4a4" />
<rect x="450.5" y="122.7" width="5.4" height="9.6" rx="0.8" fill="#d0d0d0" />
<rect x="454.6" y="123.2" width="1.3" height="9.1" rx="0" fill="#a4a4a4" />
<rect x="450.5" y="134.1" width="5.4" height="9.6" rx="0.8" fill="#d0d0d0" />
<rect x="454.6" y="134.6" width="1.3" height="9.1" rx="0" fill="#a4a4a4" />
<rect x="450.5" y="145.5" width="5.4" height="9.6" rx="0.8" fill="#d0d0d0" />
<rect x="454.6" y="146" width="1.3" height="9.1" rx="0" fill="#a4a4a4" />
<rect x="450.5" y="156.9" width="5.4" height="9.6" rx="0.8" fill="#d0d0d0" />
<rect x="454.6" y="157.4" width="1.3" height="9.1" rx="0" fill="#a4a4a4" />
<rect x="450.5" y="168.3" width="5.4" height="9.6" rx="0.8" fill="#d0d0d0" />
<rect x="454.6" y="168.8" width="1.3" height="9.1" rx="0" fill="#a4a4a4" />
<rect x="450.5" y="179.7" width="5.4" height="9.6" rx="0.8" fill="#d0d0d0" />
<rect x="454.6" y="180.2" width="1.3" height="9.1" rx="0" fill="#a4a4a4" />
<polygon points="449,194.1 457,189.1 457,197.6 449,202.1" fill="#cbcbcb" stroke="none" stroke-width="0" />
<rect x="450.5" y="202.5" width="5.4" height="9.6" rx="0.8" fill="#d0d0d0" />
<rect x="454.6" y="203" width="1.3" height="9.1" rx="0" fill="#a4a4a4" />
<rect x="450.5" y="213.9" width="5.4" height="9.6" rx="0.8" fill="#d0d0d0" />
<rect x="454.6" y="214.4" width="1.3" height="9.1" rx="0" fill="#a4a4a4" />
<rect x="450.5" y="225.3" width="5.4" height="9.6" rx="0.8" fill="#d0d0d0" />
<rect x="454.6" y="225.8" width="1.3" height="9.1" rx="0" fill="#a4a4a4" />
<rect x="458.4" y="116.5" width="5.4" height="9.6" rx="0.8" fill="#d0d0d0" />
<rect x="462.5" y="117" width="1.3" height="9.1" rx="0" fill="#a4a4a4" />
<rect x="458.4" y="127.9" width="5.4" height="9.6" rx="0.8" fill="#d0d0d0" />
<rect x="462.5" y="128.4" width="1.3" height="9.1" rx="0" fill="#a4a4a4" />
<rect x="458.4" y="139.3" width="5.4" height="9.6" rx="0.8" fill="#d0d0d0" />
<rect x="462.5" y="139.8" width="1.3" height="9.1" rx="0" fill="#a4a4a4" />
<rect x="458.4" y="150.7" width="5.4" height="9.6" rx="0.8" fill="#d0d0d0" />
<rect x="462.5" y="151.2" width="1.3" height="9.1" rx="0" fill="#a4a4a4" />
<rect x="458.4" y="162.1" width="5.4" height="9.6" rx="0.8" fill="#d0d0d0" />
<rect x="462.5" y="162.6" width="1.3" height="9.1" rx="0" fill="#a4a4a4" />
<rect x="458.4" y="173.5" width="5.4" height="9.6" rx="0.8" fill="#d0d0d0" />
<rect x="462.5" y="174" width="1.3" height="9.1" rx="0" fill="#a4a4a4" />
<polygon points="456.9,187.9 464.9,182.9 464.9,191.4 456.9,195.9" fill="#cbcbcb" stroke="none" stroke-width="0" />
<rect x="458.4" y="196.3" width="5.4" height="9.6" rx="0.8" fill="#d0d0d0" />
<rect x="462.5" y="196.8" width="1.3" height="9.1" rx="0" fill="#a4a4a4" />
<rect x="458.4" y="207.7" width="5.4" height="9.6" rx="0.8" fill="#d0d0d0" />
<rect x="462.5" y="208.2" width="1.3" height="9.1" rx="0" fill="#a4a4a4" />
<rect x="458.4" y="219.1" width="5.4" height="9.6" rx="0.8" fill="#d0d0d0" />
<rect x="462.5" y="219.6" width="1.3" height="9.1" rx="0" fill="#a4a4a4" />
<rect x="458.4" y="230.5" width="5.4" height="9.6" rx="0.8" fill="#d0d0d0" />
<rect x="462.5" y="231" width="1.3" height="9.1" rx="0" fill="#a4a4a4" />
<rect x="466.3" y="121.7" width="5.4" height="9.6" rx="0.8" fill="#d0d0d0" />
<rect x="470.4" y="122.2" width="1.3" height="9.1" rx="0" fill="#a4a4a4" />
<rect x="466.3" y="133.1" width="5.4" height="9.6" rx="0.8" fill="#d0d0d0" />
<rect x="470.4" y="133.6" width="1.3" height="9.1" rx="0" fill="#a4a4a4" />
<rect x="466.3" y="144.5" width="5.4" height="9.6" rx="0.8" fill="#d0d0d0" />
<rect x="470.4" y="145" width="1.3" height="9.1" rx="0" fill="#a4a4a4" />
<rect x="466.3" y="155.9" width="5.4" height="9.6" rx="0.8" fill="#d0d0d0" />
<rect x="470.4" y="156.4" width="1.3" height="9.1" rx="0" fill="#a4a4a4" />
<rect x="466.3" y="167.3" width="5.4" height="9.6" rx="0.8" fill="#d0d0d0" />
<rect x="470.4" y="167.8" width="1.3" height="9.1" rx="0" fill="#a4a4a4" />
<polygon points="464.8,181.7 472.8,176.7 472.8,185.2 464.8,189.7" fill="#cbcbcb" stroke="none" stroke-width="0" />
<rect x="466.3" y="190.1" width="5.4" height="9.6" rx="0.8" fill="#d0d0d0" />
<rect x="470.4" y="190.6" width="1.3" height="9.1" rx="0" fill="#a4a4a4" />
<rect x="466.3" y="201.5" width="5.4" height="9.6" rx="0.8" fill="#d0d0d0" />
<rect x="470.4" y="202" width="1.3" height="9.1" rx="0" fill="#a4a4a4" />
<rect x="466.3" y="212.9" width="5.4" height="9.6" rx="0.8" fill="#d0d0d0" />
<rect x="470.4" y="213.4" width="1.3" height="9.1" rx="0" fill="#a4a4a4" />
<rect x="466.3" y="224.3" width="5.4" height="9.6" rx="0.8" fill="#d0d0d0" />
<rect x="470.4" y="224.8" width="1.3" height="9.1" rx="0" fill="#a4a4a4" />
<rect x="466.3" y="235.7" width="5.4" height="9.6" rx="0.8" fill="#d0d0d0" />
<rect x="470.4" y="236.2" width="1.3" height="9.1" rx="0" fill="#a4a4a4" />
<rect x="474.2" y="126.9" width="5.4" height="9.6" rx="0.8" fill="#d0d0d0" />
<rect x="478.3" y="127.4" width="1.3" height="9.1" rx="0" fill="#a4a4a4" />
<rect x="474.2" y="138.3" width="5.4" height="9.6" rx="0.8" fill="#d0d0d0" />
<rect x="478.3" y="138.8" width="1.3" height="9.1" rx="0" fill="#a4a4a4" />
<rect x="474.2" y="149.7" width="5.4" height="9.6" rx="0.8" fill="#d0d0d0" />
<rect x="478.3" y="150.2" width="1.3" height="9.1" rx="0" fill="#a4a4a4" />
<rect x="474.2" y="161.1" width="5.4" height="9.6" rx="0.8" fill="#d0d0d0" />
<rect x="478.3" y="161.6" width="1.3" height="9.1" rx="0" fill="#a4a4a4" />
<rect x="474.2" y="172.5" width="5.4" height="9.6" rx="0.8" fill="#d0d0d0" />
<rect x="478.3" y="173" width="1.3" height="9.1" rx="0" fill="#a4a4a4" />
<rect x="474.2" y="183.9" width="5.4" height="9.6" rx="0.8" fill="#d0d0d0" />
<rect x="478.3" y="184.4" width="1.3" height="9.1" rx="0" fill="#a4a4a4" />
<rect x="474.2" y="195.3" width="5.4" height="9.6" rx="0.8" fill="#d0d0d0" />
<rect x="478.3" y="195.8" width="1.3" height="9.1" rx="0" fill="#a4a4a4" />
<rect x="474.2" y="206.7" width="5.4" height="9.6" rx="0.8" fill="#d0d0d0" />
<rect x="478.3" y="207.2" width="1.3" height="9.1" rx="0" fill="#a4a4a4" />
<rect x="474.2" y="218.1" width="5.4" height="9.6" rx="0.8" fill="#d0d0d0" />
<rect x="478.3" y="218.6" width="1.3" height="9.1" rx="0" fill="#a4a4a4" />
<rect x="474.2" y="229.5" width="5.4" height="9.6" rx="0.8" fill="#d0d0d0" />
<rect x="478.3" y="230" width="1.3" height="9.1" rx="0" fill="#a4a4a4" />
<rect x="474.2" y="240.9" width="5.4" height="9.6" rx="0.8" fill="#d0d0d0" />
<rect x="478.3" y="241.4" width="1.3" height="9.1" rx="0" fill="#a4a4a4" />
<rect x="482.1" y="120.7" width="5.4" height="9.6" rx="0.8" fill="#d0d0d0" />
<rect x="486.2" y="121.2" width="1.3" height="9.1" rx="0" fill="#a4a4a4" />
<rect x="482.1" y="132.1" width="5.4" height="9.6" rx="0.8" fill="#d0d0d0" />
<rect x="486.2" y="132.6" width="1.3" height="9.1" rx="0" fill="#a4a4a4" />
<rect x="482.1" y="143.5" width="5.4" height="9.6" rx="0.8" fill="#d0d0d0" />
<rect x="486.2" y="144" width="1.3" height="9.1" rx="0" fill="#a4a4a4" />
<rect x="482.1" y="154.9" width="5.4" height="9.6" rx="0.8" fill="#d0d0d0" />
<rect x="486.2" y="155.4" width="1.3" height="9.1" rx="0" fill="#a4a4a4" />
<rect x="482.1" y="166.3" width="5.4" height="9.6" rx="0.8" fill="#d0d0d0" />
<rect x="486.2" y="166.8" width="1.3" height="9.1" rx="0" fill="#a4a4a4" />
<polygon points="480.6,180.7 488.6,175.7 488.6,184.2 480.6,188.7" fill="#cbcbcb" stroke="none" stroke-width="0" />
<rect x="482.1" y="189.1" width="5.4" height="9.6" rx="0.8" fill="#d0d0d0" />
<rect x="486.2" y="189.6" width="1.3" height="9.1" rx="0" fill="#a4a4a4" />
<rect x="482.1" y="200.5" width="5.4" height="9.6" rx="0.8" fill="#d0d0d0" />
<rect x="486.2" y="201" width="1.3" height="9.1" rx="0" fill="#a4a4a4" />
<rect x="482.1" y="211.9" width="5.4" height="9.6" rx="0.8" fill="#d0d0d0" />
<rect x="486.2" y="212.4" width="1.3" height="9.1" rx="0" fill="#a4a4a4" />
<rect x="482.1" y="223.3" width="5.4" height="9.6" rx="0.8" fill="#d0d0d0" />
<rect x="486.2" y="223.8" width="1.3" height="9.1" rx="0" fill="#a4a4a4" />
<rect x="482.1" y="234.7" width="5.4" height="9.6" rx="0.8" fill="#d0d0d0" />
<rect x="486.2" y="235.2" width="1.3" height="9.1" rx="0" fill="#a4a4a4" />
<rect x="482.1" y="246.1" width="5.4" height="9.6" rx="0.8" fill="#d0d0d0" />
<rect x="486.2" y="246.6" width="1.3" height="9.1" rx="0" fill="#a4a4a4" />
<rect x="490" y="125.9" width="5.4" height="9.6" rx="0.8" fill="#d0d0d0" />
<rect x="494.1" y="126.4" width="1.3" height="9.1" rx="0" fill="#a4a4a4" />
<rect x="490" y="137.3" width="5.4" height="9.6" rx="0.8" fill="#d0d0d0" />
<rect x="494.1" y="137.8" width="1.3" height="9.1" rx="0" fill="#a4a4a4" />
<rect x="490" y="148.7" width="5.4" height="9.6" rx="0.8" fill="#d0d0d0" />
<rect x="494.1" y="149.2" width="1.3" height="9.1" rx="0" fill="#a4a4a4" />
<rect x="490" y="160.1" width="5.4" height="9.6" rx="0.8" fill="#d0d0d0" />
<rect x="494.1" y="160.6" width="1.3" height="9.1" rx="0" fill="#a4a4a4" />
<polygon points="488.5,174.5 496.5,169.5 496.5,178 488.5,182.5" fill="#cbcbcb" stroke="none" stroke-width="0" />
<rect x="490" y="182.9" width="5.4" height="9.6" rx="0.8" fill="#d0d0d0" />
<rect x="494.1" y="183.4" width="1.3" height="9.1" rx="0" fill="#a4a4a4" />
<rect x="490" y="194.3" width="5.4" height="9.6" rx="0.8" fill="#d0d0d0" />
<rect x="494.1" y="194.8" width="1.3" height="9.1" rx="0" fill="#a4a4a4" />
<rect x="490" y="205.7" width="5.4" height="9.6" rx="0.8" fill="#d0d0d0" />
<rect x="494.1" y="206.2" width="1.3" height="9.1" rx="0" fill="#a4a4a4" />
<rect x="490" y="217.1" width="5.4" height="9.6" rx="0.8" fill="#d0d0d0" />
<rect x="494.1" y="217.6" width="1.3" height="9.1" rx="0" fill="#a4a4a4" />
<rect x="490" y="228.5" width="5.4" height="9.6" rx="0.8" fill="#d0d0d0" />
<rect x="494.1" y="229" width="1.3" height="9.1" rx="0" fill="#a4a4a4" />
<rect x="490" y="239.9" width="5.4" height="9.6" rx="0.8" fill="#d0d0d0" />
<rect x="494.1" y="240.4" width="1.3" height="9.1" rx="0" fill="#a4a4a4" />
<rect x="490" y="251.3" width="5.4" height="9.6" rx="0.8" fill="#d0d0d0" />
<rect x="494.1" y="251.8" width="1.3" height="9.1" rx="0" fill="#a4a4a4" />
<rect x="497.9" y="119.7" width="5.4" height="9.6" rx="0.8" fill="#d0d0d0" />
<rect x="502" y="120.2" width="1.3" height="9.1" rx="0" fill="#a4a4a4" />
<rect x="497.9" y="131.1" width="5.4" height="9.6" rx="0.8" fill="#d0d0d0" />
<rect x="502" y="131.6" width="1.3" height="9.1" rx="0" fill="#a4a4a4" />
<rect x="497.9" y="142.5" width="5.4" height="9.6" rx="0.8" fill="#d0d0d0" />
<rect x="502" y="143" width="1.3" height="9.1" rx="0" fill="#a4a4a4" />
<rect x="497.9" y="153.9" width="5.4" height="9.6" rx="0.8" fill="#d0d0d0" />
<rect x="502" y="154.4" width="1.3" height="9.1" rx="0" fill="#a4a4a4" />
<polygon points="496.4,168.3 504.4,163.3 504.4,171.8 496.4,176.3" fill="#cbcbcb" stroke="none" stroke-width="0" />
<rect x="497.9" y="176.7" width="5.4" height="9.6" rx="0.8" fill="#d0d0d0" />
<rect x="502" y="177.2" width="1.3" height="9.1" rx="0" fill="#a4a4a4" />
<rect x="497.9" y="188.1" width="5.4" height="9.6" rx="0.8" fill="#d0d0d0" />
<rect x="502" y="188.6" width="1.3" height="9.1" rx="0" fill="#a4a4a4" />
<rect x="497.9" y="199.5" width="5.4" height="9.6" rx="0.8" fill="#d0d0d0" />
<rect x="502" y="200" width="1.3" height="9.1" rx="0" fill="#a4a4a4" />
<rect x="497.9" y="210.9" width="5.4" height="9.6" rx="0.8" fill="#d0d0d0" />
<rect x="502" y="211.4" width="1.3" height="9.1" rx="0" fill="#a4a4a4" />
<rect x="497.9" y="222.3" width="5.4" height="9.6" rx="0.8" fill="#d0d0d0" />
<rect x="502" y="222.8" width="1.3" height="9.1" rx="0" fill="#a4a4a4" />
<rect x="497.9" y="233.7" width="5.4" height="9.6" rx="0.8" fill="#d0d0d0" />
<rect x="502" y="234.2" width="1.3" height="9.1" rx="0" fill="#a4a4a4" />
<rect x="497.9" y="245.1" width="5.4" height="9.6" rx="0.8" fill="#d0d0d0" />
<rect x="502" y="245.6" width="1.3" height="9.1" rx="0" fill="#a4a4a4" />
<rect x="497.9" y="256.5" width="5.4" height="9.6" rx="0.8" fill="#d0d0d0" />
<rect x="502" y="257" width="1.3" height="9.1" rx="0" fill="#a4a4a4" />
<rect x="505.8" y="124.9" width="5.4" height="9.6" rx="0.8" fill="#d0d0d0" />
<rect x="509.9" y="125.4" width="1.3" height="9.1" rx="0" fill="#a4a4a4" />
<rect x="505.8" y="136.3" width="5.4" height="9.6" rx="0.8" fill="#d0d0d0" />
<rect x="509.9" y="136.8" width="1.3" height="9.1" rx="0" fill="#a4a4a4" />
<rect x="505.8" y="147.7" width="5.4" height="9.6" rx="0.8" fill="#d0d0d0" />
<rect x="509.9" y="148.2" width="1.3" height="9.1" rx="0" fill="#a4a4a4" />
<polygon points="504.3,162.1 512.3,157.1 512.3,165.6 504.3,170.1" fill="#cbcbcb" stroke="none" stroke-width="0" />
<rect x="505.8" y="170.5" width="5.4" height="9.6" rx="0.8" fill="#d0d0d0" />
<rect x="509.9" y="171" width="1.3" height="9.1" rx="0" fill="#a4a4a4" />
<rect x="505.8" y="181.9" width="5.4" height="9.6" rx="0.8" fill="#d0d0d0" />
<rect x="509.9" y="182.4" width="1.3" height="9.1" rx="0" fill="#a4a4a4" />
<rect x="505.8" y="193.3" width="5.4" height="9.6" rx="0.8" fill="#d0d0d0" />
<rect x="509.9" y="193.8" width="1.3" height="9.1" rx="0" fill="#a4a4a4" />
<rect x="505.8" y="204.7" width="5.4" height="9.6" rx="0.8" fill="#d0d0d0" />
<rect x="509.9" y="205.2" width="1.3" height="9.1" rx="0" fill="#a4a4a4" />
<rect x="505.8" y="216.1" width="5.4" height="9.6" rx="0.8" fill="#d0d0d0" />
<rect x="509.9" y="216.6" width="1.3" height="9.1" rx="0" fill="#a4a4a4" />
<rect x="505.8" y="227.5" width="5.4" height="9.6" rx="0.8" fill="#d0d0d0" />
<rect x="509.9" y="228" width="1.3" height="9.1" rx="0" fill="#a4a4a4" />
<rect x="505.8" y="238.9" width="5.4" height="9.6" rx="0.8" fill="#d0d0d0" />
<rect x="509.9" y="239.4" width="1.3" height="9.1" rx="0" fill="#a4a4a4" />
<rect x="505.8" y="250.3" width="5.4" height="9.6" rx="0.8" fill="#d0d0d0" />
<rect x="509.9" y="250.8" width="1.3" height="9.1" rx="0" fill="#a4a4a4" />
<polygon points="504.3,264.7 512.3,259.7 512.3,268.2 504.3,272.7" fill="#cbcbcb" stroke="none" stroke-width="0" />
<rect x="513.7" y="118.7" width="5.4" height="9.6" rx="0.8" fill="#d0d0d0" />
<rect x="517.8" y="119.2" width="1.3" height="9.1" rx="0" fill="#a4a4a4" />
<rect x="513.7" y="130.1" width="5.4" height="9.6" rx="0.8" fill="#d0d0d0" />
<rect x="517.8" y="130.6" width="1.3" height="9.1" rx="0" fill="#a4a4a4" />
<rect x="513.7" y="141.5" width="5.4" height="9.6" rx="0.8" fill="#d0d0d0" />
<rect x="517.8" y="142" width="1.3" height="9.1" rx="0" fill="#a4a4a4" />
<rect x="513.7" y="152.9" width="5.4" height="9.6" rx="0.8" fill="#d0d0d0" />
<rect x="517.8" y="153.4" width="1.3" height="9.1" rx="0" fill="#a4a4a4" />
<rect x="513.7" y="164.3" width="5.4" height="9.6" rx="0.8" fill="#d0d0d0" />
<rect x="517.8" y="164.8" width="1.3" height="9.1" rx="0" fill="#a4a4a4" />
<rect x="513.7" y="175.7" width="5.4" height="9.6" rx="0.8" fill="#d0d0d0" />
<rect x="517.8" y="176.2" width="1.3" height="9.1" rx="0" fill="#a4a4a4" />
<rect x="513.7" y="187.1" width="5.4" height="9.6" rx="0.8" fill="#d0d0d0" />
<rect x="517.8" y="187.6" width="1.3" height="9.1" rx="0" fill="#a4a4a4" />
<rect x="513.7" y="198.5" width="5.4" height="9.6" rx="0.8" fill="#d0d0d0" />
<rect x="517.8" y="199" width="1.3" height="9.1" rx="0" fill="#a4a4a4" />
<rect x="513.7" y="209.9" width="5.4" height="9.6" rx="0.8" fill="#d0d0d0" />
<rect x="517.8" y="210.4" width="1.3" height="9.1" rx="0" fill="#a4a4a4" />
<rect x="513.7" y="221.3" width="5.4" height="9.6" rx="0.8" fill="#d0d0d0" />
<rect x="517.8" y="221.8" width="1.3" height="9.1" rx="0" fill="#a4a4a4" />
<rect x="513.7" y="232.7" width="5.4" height="9.6" rx="0.8" fill="#d0d0d0" />
<rect x="517.8" y="233.2" width="1.3" height="9.1" rx="0" fill="#a4a4a4" />
<rect x="513.7" y="244.1" width="5.4" height="9.6" rx="0.8" fill="#d0d0d0" />
<rect x="517.8" y="244.6" width="1.3" height="9.1" rx="0" fill="#a4a4a4" />
<polygon points="512.2,258.5 520.2,253.5 520.2,262 512.2,266.5" fill="#cbcbcb" stroke="none" stroke-width="0" />
<rect x="521.6" y="123.9" width="5.4" height="9.6" rx="0.8" fill="#d0d0d0" />
<rect x="525.7" y="124.4" width="1.3" height="9.1" rx="0" fill="#a4a4a4" />
<rect x="521.6" y="135.3" width="5.4" height="9.6" rx="0.8" fill="#d0d0d0" />
<rect x="525.7" y="135.8" width="1.3" height="9.1" rx="0" fill="#a4a4a4" />
<rect x="521.6" y="146.7" width="5.4" height="9.6" rx="0.8" fill="#d0d0d0" />
<rect x="525.7" y="147.2" width="1.3" height="9.1" rx="0" fill="#a4a4a4" />
<polygon points="520.1,161.1 528.1,156.1 528.1,164.6 520.1,169.1" fill="#cbcbcb" stroke="none" stroke-width="0" />
<rect x="521.6" y="169.5" width="5.4" height="9.6" rx="0.8" fill="#d0d0d0" />
<rect x="525.7" y="170" width="1.3" height="9.1" rx="0" fill="#a4a4a4" />
<rect x="521.6" y="180.9" width="5.4" height="9.6" rx="0.8" fill="#d0d0d0" />
<rect x="525.7" y="181.4" width="1.3" height="9.1" rx="0" fill="#a4a4a4" />
<rect x="521.6" y="192.3" width="5.4" height="9.6" rx="0.8" fill="#d0d0d0" />
<rect x="525.7" y="192.8" width="1.3" height="9.1" rx="0" fill="#a4a4a4" />
<rect x="521.6" y="203.7" width="5.4" height="9.6" rx="0.8" fill="#d0d0d0" />
<rect x="525.7" y="204.2" width="1.3" height="9.1" rx="0" fill="#a4a4a4" />
<rect x="521.6" y="215.1" width="5.4" height="9.6" rx="0.8" fill="#d0d0d0" />
<rect x="525.7" y="215.6" width="1.3" height="9.1" rx="0" fill="#a4a4a4" />
<rect x="521.6" y="226.5" width="5.4" height="9.6" rx="0.8" fill="#d0d0d0" />
<rect x="525.7" y="227" width="1.3" height="9.1" rx="0" fill="#a4a4a4" />
<rect x="521.6" y="237.9" width="5.4" height="9.6" rx="0.8" fill="#d0d0d0" />
<rect x="525.7" y="238.4" width="1.3" height="9.1" rx="0" fill="#a4a4a4" />
<polygon points="520.1,252.3 528.1,247.3 528.1,255.8 520.1,260.3" fill="#cbcbcb" stroke="none" stroke-width="0" />
<rect x="521.6" y="260.7" width="5.4" height="9.6" rx="0.8" fill="#d0d0d0" />
<rect x="525.7" y="261.2" width="1.3" height="9.1" rx="0" fill="#a4a4a4" />
<rect x="529.5" y="117.7" width="5.4" height="9.6" rx="0.8" fill="#d0d0d0" />
<rect x="533.6" y="118.2" width="1.3" height="9.1" rx="0" fill="#a4a4a4" />
<rect x="529.5" y="129.1" width="5.4" height="9.6" rx="0.8" fill="#d0d0d0" />
<rect x="533.6" y="129.6" width="1.3" height="9.1" rx="0" fill="#a4a4a4" />
<rect x="529.5" y="140.5" width="5.4" height="9.6" rx="0.8" fill="#d0d0d0" />
<rect x="533.6" y="141" width="1.3" height="9.1" rx="0" fill="#a4a4a4" />
<polygon points="528,154.9 536,149.9 536,158.4 528,162.9" fill="#cbcbcb" stroke="none" stroke-width="0" />
<rect x="529.5" y="163.3" width="5.4" height="9.6" rx="0.8" fill="#d0d0d0" />
<rect x="533.6" y="163.8" width="1.3" height="9.1" rx="0" fill="#a4a4a4" />
<rect x="529.5" y="174.7" width="5.4" height="9.6" rx="0.8" fill="#d0d0d0" />
<rect x="533.6" y="175.2" width="1.3" height="9.1" rx="0" fill="#a4a4a4" />
<rect x="529.5" y="186.1" width="5.4" height="9.6" rx="0.8" fill="#d0d0d0" />
<rect x="533.6" y="186.6" width="1.3" height="9.1" rx="0" fill="#a4a4a4" />
<rect x="529.5" y="197.5" width="5.4" height="9.6" rx="0.8" fill="#d0d0d0" />
<rect x="533.6" y="198" width="1.3" height="9.1" rx="0" fill="#a4a4a4" />
<rect x="529.5" y="208.9" width="5.4" height="9.6" rx="0.8" fill="#d0d0d0" />
<rect x="533.6" y="209.4" width="1.3" height="9.1" rx="0" fill="#a4a4a4" />
<rect x="529.5" y="220.3" width="5.4" height="9.6" rx="0.8" fill="#d0d0d0" />
<rect x="533.6" y="220.8" width="1.3" height="9.1" rx="0" fill="#a4a4a4" />
<rect x="529.5" y="231.7" width="5.4" height="9.6" rx="0.8" fill="#d0d0d0" />
<rect x="533.6" y="232.2" width="1.3" height="9.1" rx="0" fill="#a4a4a4" />
<polygon points="528,246.1 536,241.1 536,249.6 528,254.1" fill="#cbcbcb" stroke="none" stroke-width="0" />
<rect x="529.5" y="254.5" width="5.4" height="9.6" rx="0.8" fill="#d0d0d0" />
<rect x="533.6" y="255" width="1.3" height="9.1" rx="0" fill="#a4a4a4" />
<rect x="537.4" y="122.9" width="5.4" height="9.6" rx="0.8" fill="#d0d0d0" />
<rect x="541.5" y="123.4" width="1.3" height="9.1" rx="0" fill="#a4a4a4" />
<rect x="537.4" y="134.3" width="5.4" height="9.6" rx="0.8" fill="#d0d0d0" />
<rect x="541.5" y="134.8" width="1.3" height="9.1" rx="0" fill="#a4a4a4" />
<polygon points="535.9,148.7 543.9,143.7 543.9,152.2 535.9,156.7" fill="#cbcbcb" stroke="none" stroke-width="0" />
<rect x="537.4" y="157.1" width="5.4" height="9.6" rx="0.8" fill="#d0d0d0" />
<rect x="541.5" y="157.6" width="1.3" height="9.1" rx="0" fill="#a4a4a4" />
<rect x="537.4" y="168.5" width="5.4" height="9.6" rx="0.8" fill="#d0d0d0" />
<rect x="541.5" y="169" width="1.3" height="9.1" rx="0" fill="#a4a4a4" />
<rect x="537.4" y="179.9" width="5.4" height="9.6" rx="0.8" fill="#d0d0d0" />
<rect x="541.5" y="180.4" width="1.3" height="9.1" rx="0" fill="#a4a4a4" />
<rect x="537.4" y="191.3" width="5.4" height="9.6" rx="0.8" fill="#d0d0d0" />
<rect x="541.5" y="191.8" width="1.3" height="9.1" rx="0" fill="#a4a4a4" />
<rect x="537.4" y="202.7" width="5.4" height="9.6" rx="0.8" fill="#d0d0d0" />
<rect x="541.5" y="203.2" width="1.3" height="9.1" rx="0" fill="#a4a4a4" />
<rect x="537.4" y="214.1" width="5.4" height="9.6" rx="0.8" fill="#d0d0d0" />
<rect x="541.5" y="214.6" width="1.3" height="9.1" rx="0" fill="#a4a4a4" />
<rect x="537.4" y="225.5" width="5.4" height="9.6" rx="0.8" fill="#d0d0d0" />
<rect x="541.5" y="226" width="1.3" height="9.1" rx="0" fill="#a4a4a4" />
<rect x="537.4" y="236.9" width="5.4" height="9.6" rx="0.8" fill="#d0d0d0" />
<rect x="541.5" y="237.4" width="1.3" height="9.1" rx="0" fill="#a4a4a4" />
<rect x="537.4" y="248.3" width="5.4" height="9.6" rx="0.8" fill="#d0d0d0" />
<rect x="541.5" y="248.8" width="1.3" height="9.1" rx="0" fill="#a4a4a4" />
<rect x="537.4" y="259.7" width="5.4" height="9.6" rx="0.8" fill="#d0d0d0" />
<rect x="541.5" y="260.2" width="1.3" height="9.1" rx="0" fill="#a4a4a4" />
<rect x="545.3" y="116.7" width="5.4" height="9.6" rx="0.8" fill="#d0d0d0" />
<rect x="549.4" y="117.2" width="1.3" height="9.1" rx="0" fill="#a4a4a4" />
<rect x="545.3" y="128.1" width="5.4" height="9.6" rx="0.8" fill="#d0d0d0" />
<rect x="549.4" y="128.6" width="1.3" height="9.1" rx="0" fill="#a4a4a4" />
<rect x="545.3" y="139.5" width="5.4" height="9.6" rx="0.8" fill="#d0d0d0" />
<rect x="549.4" y="140" width="1.3" height="9.1" rx="0" fill="#a4a4a4" />
<rect x="545.3" y="150.9" width="5.4" height="9.6" rx="0.8" fill="#d0d0d0" />
<rect x="549.4" y="151.4" width="1.3" height="9.1" rx="0" fill="#a4a4a4" />
<rect x="545.3" y="162.3" width="5.4" height="9.6" rx="0.8" fill="#d0d0d0" />
<rect x="549.4" y="162.8" width="1.3" height="9.1" rx="0" fill="#a4a4a4" />
<rect x="545.3" y="173.7" width="5.4" height="9.6" rx="0.8" fill="#d0d0d0" />
<rect x="549.4" y="174.2" width="1.3" height="9.1" rx="0" fill="#a4a4a4" />
<rect x="545.3" y="185.1" width="5.4" height="9.6" rx="0.8" fill="#d0d0d0" />
<rect x="549.4" y="185.6" width="1.3" height="9.1" rx="0" fill="#a4a4a4" />
<rect x="545.3" y="196.5" width="5.4" height="9.6" rx="0.8" fill="#d0d0d0" />
<rect x="549.4" y="197" width="1.3" height="9.1" rx="0" fill="#a4a4a4" />
<rect x="545.3" y="207.9" width="5.4" height="9.6" rx="0.8" fill="#d0d0d0" />
<rect x="549.4" y="208.4" width="1.3" height="9.1" rx="0" fill="#a4a4a4" />
<rect x="545.3" y="219.3" width="5.4" height="9.6" rx="0.8" fill="#d0d0d0" />
<rect x="549.4" y="219.8" width="1.3" height="9.1" rx="0" fill="#a4a4a4" />
<rect x="545.3" y="230.7" width="5.4" height="9.6" rx="0.8" fill="#d0d0d0" />
<rect x="549.4" y="231.2" width="1.3" height="9.1" rx="0" fill="#a4a4a4" />
<polygon points="543.8,245.1 551.8,240.1 551.8,248.6 543.8,253.1" fill="#cbcbcb" stroke="none" stroke-width="0" />
<rect x="545.3" y="253.5" width="5.4" height="9.6" rx="0.8" fill="#d0d0d0" />
<rect x="549.4" y="254" width="1.3" height="9.1" rx="0" fill="#a4a4a4" />
<rect x="553.2" y="121.9" width="5.4" height="9.6" rx="0.8" fill="#d0d0d0" />
<rect x="557.3" y="122.4" width="1.3" height="9.1" rx="0" fill="#a4a4a4" />
<rect x="553.2" y="133.3" width="5.4" height="9.6" rx="0.8" fill="#d0d0d0" />
<rect x="557.3" y="133.8" width="1.3" height="9.1" rx="0" fill="#a4a4a4" />
<polygon points="551.7,147.7 559.7,142.7 559.7,151.2 551.7,155.7" fill="#cbcbcb" stroke="none" stroke-width="0" />
<rect x="553.2" y="156.1" width="5.4" height="9.6" rx="0.8" fill="#d0d0d0" />
<rect x="557.3" y="156.6" width="1.3" height="9.1" rx="0" fill="#a4a4a4" />
<rect x="553.2" y="167.5" width="5.4" height="9.6" rx="0.8" fill="#d0d0d0" />
<rect x="557.3" y="168" width="1.3" height="9.1" rx="0" fill="#a4a4a4" />
<rect x="553.2" y="178.9" width="5.4" height="9.6" rx="0.8" fill="#d0d0d0" />
<rect x="557.3" y="179.4" width="1.3" height="9.1" rx="0" fill="#a4a4a4" />
<rect x="553.2" y="190.3" width="5.4" height="9.6" rx="0.8" fill="#d0d0d0" />
<rect x="557.3" y="190.8" width="1.3" height="9.1" rx="0" fill="#a4a4a4" />
<rect x="553.2" y="201.7" width="5.4" height="9.6" rx="0.8" fill="#d0d0d0" />
<rect x="557.3" y="202.2" width="1.3" height="9.1" rx="0" fill="#a4a4a4" />
<rect x="553.2" y="213.1" width="5.4" height="9.6" rx="0.8" fill="#d0d0d0" />
<rect x="557.3" y="213.6" width="1.3" height="9.1" rx="0" fill="#a4a4a4" />
<rect x="553.2" y="224.5" width="5.4" height="9.6" rx="0.8" fill="#d0d0d0" />
<rect x="557.3" y="225" width="1.3" height="9.1" rx="0" fill="#a4a4a4" />
<polygon points="551.7,238.9 559.7,233.9 559.7,242.4 551.7,246.9" fill="#cbcbcb" stroke="none" stroke-width="0" />
<rect x="553.2" y="247.3" width="5.4" height="9.6" rx="0.8" fill="#d0d0d0" />
<rect x="557.3" y="247.8" width="1.3" height="9.1" rx="0" fill="#a4a4a4" />
<rect x="553.2" y="258.7" width="5.4" height="9.6" rx="0.8" fill="#d0d0d0" />
<rect x="557.3" y="259.2" width="1.3" height="9.1" rx="0" fill="#a4a4a4" />
<rect x="561.1" y="115.7" width="5.4" height="9.6" rx="0.8" fill="#d0d0d0" />
<rect x="565.2" y="116.2" width="1.3" height="9.1" rx="0" fill="#a4a4a4" />
<rect x="561.1" y="127.1" width="5.4" height="9.6" rx="0.8" fill="#d0d0d0" />
<rect x="565.2" y="127.6" width="1.3" height="9.1" rx="0" fill="#a4a4a4" />
<polygon points="559.6,141.5 567.6,136.5 567.6,145 559.6,149.5" fill="#cbcbcb" stroke="none" stroke-width="0" />
<rect x="561.1" y="149.9" width="5.4" height="9.6" rx="0.8" fill="#d0d0d0" />
<rect x="565.2" y="150.4" width="1.3" height="9.1" rx="0" fill="#a4a4a4" />
<rect x="561.1" y="161.3" width="5.4" height="9.6" rx="0.8" fill="#d0d0d0" />
<rect x="565.2" y="161.8" width="1.3" height="9.1" rx="0" fill="#a4a4a4" />
<rect x="561.1" y="172.7" width="5.4" height="9.6" rx="0.8" fill="#d0d0d0" />
<rect x="565.2" y="173.2" width="1.3" height="9.1" rx="0" fill="#a4a4a4" />
<rect x="561.1" y="184.1" width="5.4" height="9.6" rx="0.8" fill="#d0d0d0" />
<rect x="565.2" y="184.6" width="1.3" height="9.1" rx="0" fill="#a4a4a4" />
<rect x="561.1" y="195.5" width="5.4" height="9.6" rx="0.8" fill="#d0d0d0" />
<rect x="565.2" y="196" width="1.3" height="9.1" rx="0" fill="#a4a4a4" />
<rect x="561.1" y="206.9" width="5.4" height="9.6" rx="0.8" fill="#d0d0d0" />
<rect x="565.2" y="207.4" width="1.3" height="9.1" rx="0" fill="#a4a4a4" />
<rect x="561.1" y="218.3" width="5.4" height="9.6" rx="0.8" fill="#d0d0d0" />
<rect x="565.2" y="218.8" width="1.3" height="9.1" rx="0" fill="#a4a4a4" />
<polygon points="559.6,232.7 567.6,227.7 567.6,236.2 559.6,240.7" fill="#cbcbcb" stroke="none" stroke-width="0" />
<rect x="561.1" y="241.1" width="5.4" height="9.6" rx="0.8" fill="#d0d0d0" />
<rect x="565.2" y="241.6" width="1.3" height="9.1" rx="0" fill="#a4a4a4" />
<rect x="561.1" y="252.5" width="5.4" height="9.6" rx="0.8" fill="#d0d0d0" />
<rect x="565.2" y="253" width="1.3" height="9.1" rx="0" fill="#a4a4a4" />
<rect x="561.1" y="263.9" width="5.4" height="9.6" rx="0.8" fill="#d0d0d0" />
<rect x="565.2" y="264.4" width="1.3" height="9.1" rx="0" fill="#a4a4a4" />
<rect x="569" y="120.9" width="5.4" height="9.6" rx="0.8" fill="#d0d0d0" />
<rect x="573.1" y="121.4" width="1.3" height="9.1" rx="0" fill="#a4a4a4" />
<polygon points="567.5,135.3 575.5,130.3 575.5,138.8 567.5,143.3" fill="#cbcbcb" stroke="none" stroke-width="0" />
<rect x="569" y="143.7" width="5.4" height="9.6" rx="0.8" fill="#d0d0d0" />
<rect x="573.1" y="144.2" width="1.3" height="9.1" rx="0" fill="#a4a4a4" />
<rect x="569" y="155.1" width="5.4" height="9.6" rx="0.8" fill="#d0d0d0" />
<rect x="573.1" y="155.6" width="1.3" height="9.1" rx="0" fill="#a4a4a4" />
<rect x="569" y="166.5" width="5.4" height="9.6" rx="0.8" fill="#d0d0d0" />
<rect x="573.1" y="167" width="1.3" height="9.1" rx="0" fill="#a4a4a4" />
<rect x="569" y="177.9" width="5.4" height="9.6" rx="0.8" fill="#d0d0d0" />
<rect x="573.1" y="178.4" width="1.3" height="9.1" rx="0" fill="#a4a4a4" />
<rect x="569" y="189.3" width="5.4" height="9.6" rx="0.8" fill="#d0d0d0" />
<rect x="573.1" y="189.8" width="1.3" height="9.1" rx="0" fill="#a4a4a4" />
<rect x="569" y="200.7" width="5.4" height="9.6" rx="0.8" fill="#d0d0d0" />
<rect x="573.1" y="201.2" width="1.3" height="9.1" rx="0" fill="#a4a4a4" />
<rect x="569" y="212.1" width="5.4" height="9.6" rx="0.8" fill="#d0d0d0" />
<rect x="573.1" y="212.6" width="1.3" height="9.1" rx="0" fill="#a4a4a4" />
<rect x="569" y="223.5" width="5.4" height="9.6" rx="0.8" fill="#d0d0d0" />
<rect x="573.1" y="224" width="1.3" height="9.1" rx="0" fill="#a4a4a4" />
<rect x="569" y="234.9" width="5.4" height="9.6" rx="0.8" fill="#d0d0d0" />
<rect x="573.1" y="235.4" width="1.3" height="9.1" rx="0" fill="#a4a4a4" />
<rect x="569" y="246.3" width="5.4" height="9.6" rx="0.8" fill="#d0d0d0" />
<rect x="573.1" y="246.8" width="1.3" height="9.1" rx="0" fill="#a4a4a4" />
<rect x="569" y="257.7" width="5.4" height="9.6" rx="0.8" fill="#d0d0d0" />
<rect x="573.1" y="258.2" width="1.3" height="9.1" rx="0" fill="#a4a4a4" />
<polygon points="575.4,129.1 583.4,124.1 583.4,132.6 575.4,137.1" fill="#cbcbcb" stroke="none" stroke-width="0" />
<rect x="576.9" y="137.5" width="5.4" height="9.6" rx="0.8" fill="#d0d0d0" />
<rect x="581" y="138" width="1.3" height="9.1" rx="0" fill="#a4a4a4" />
<rect x="576.9" y="148.9" width="5.4" height="9.6" rx="0.8" fill="#d0d0d0" />
<rect x="581" y="149.4" width="1.3" height="9.1" rx="0" fill="#a4a4a4" />
<rect x="576.9" y="160.3" width="5.4" height="9.6" rx="0.8" fill="#d0d0d0" />
<rect x="581" y="160.8" width="1.3" height="9.1" rx="0" fill="#a4a4a4" />
<rect x="576.9" y="171.7" width="5.4" height="9.6" rx="0.8" fill="#d0d0d0" />
<rect x="581" y="172.2" width="1.3" height="9.1" rx="0" fill="#a4a4a4" />
<rect x="576.9" y="183.1" width="5.4" height="9.6" rx="0.8" fill="#d0d0d0" />
<rect x="581" y="183.6" width="1.3" height="9.1" rx="0" fill="#a4a4a4" />
<rect x="576.9" y="194.5" width="5.4" height="9.6" rx="0.8" fill="#d0d0d0" />
<rect x="581" y="195" width="1.3" height="9.1" rx="0" fill="#a4a4a4" />
<rect x="576.9" y="205.9" width="5.4" height="9.6" rx="0.8" fill="#d0d0d0" />
<rect x="581" y="206.4" width="1.3" height="9.1" rx="0" fill="#a4a4a4" />
<rect x="576.9" y="217.3" width="5.4" height="9.6" rx="0.8" fill="#d0d0d0" />
<rect x="581" y="217.8" width="1.3" height="9.1" rx="0" fill="#a4a4a4" />
<polygon points="575.4,231.7 583.4,226.7 583.4,235.2 575.4,239.7" fill="#cbcbcb" stroke="none" stroke-width="0" />
<rect x="576.9" y="240.1" width="5.4" height="9.6" rx="0.8" fill="#d0d0d0" />
<rect x="581" y="240.6" width="1.3" height="9.1" rx="0" fill="#a4a4a4" />
<rect x="576.9" y="251.5" width="5.4" height="9.6" rx="0.8" fill="#d0d0d0" />
<rect x="581" y="252" width="1.3" height="9.1" rx="0" fill="#a4a4a4" />
<rect x="576.9" y="262.9" width="5.4" height="9.6" rx="0.8" fill="#d0d0d0" />
<rect x="581" y="263.4" width="1.3" height="9.1" rx="0" fill="#a4a4a4" />
<rect x="584.8" y="119.9" width="5.4" height="9.6" rx="0.8" fill="#d0d0d0" />
<rect x="588.9" y="120.4" width="1.3" height="9.1" rx="0" fill="#a4a4a4" />
<rect x="584.8" y="131.3" width="5.4" height="9.6" rx="0.8" fill="#d0d0d0" />
<rect x="588.9" y="131.8" width="1.3" height="9.1" rx="0" fill="#a4a4a4" />
<rect x="584.8" y="142.7" width="5.4" height="9.6" rx="0.8" fill="#d0d0d0" />
<rect x="588.9" y="143.2" width="1.3" height="9.1" rx="0" fill="#a4a4a4" />
<rect x="584.8" y="154.1" width="5.4" height="9.6" rx="0.8" fill="#d0d0d0" />
<rect x="588.9" y="154.6" width="1.3" height="9.1" rx="0" fill="#a4a4a4" />
<rect x="584.8" y="165.5" width="5.4" height="9.6" rx="0.8" fill="#d0d0d0" />
<rect x="588.9" y="166" width="1.3" height="9.1" rx="0" fill="#a4a4a4" />
<rect x="584.8" y="176.9" width="5.4" height="9.6" rx="0.8" fill="#d0d0d0" />
<rect x="588.9" y="177.4" width="1.3" height="9.1" rx="0" fill="#a4a4a4" />
<rect x="584.8" y="188.3" width="5.4" height="9.6" rx="0.8" fill="#d0d0d0" />
<rect x="588.9" y="188.8" width="1.3" height="9.1" rx="0" fill="#a4a4a4" />
<rect x="584.8" y="199.7" width="5.4" height="9.6" rx="0.8" fill="#d0d0d0" />
<rect x="588.9" y="200.2" width="1.3" height="9.1" rx="0" fill="#a4a4a4" />
<rect x="584.8" y="211.1" width="5.4" height="9.6" rx="0.8" fill="#d0d0d0" />
<rect x="588.9" y="211.6" width="1.3" height="9.1" rx="0" fill="#a4a4a4" />
<polygon points="583.3,225.5 591.3,220.5 591.3,229 583.3,233.5" fill="#cbcbcb" stroke="none" stroke-width="0" />
<rect x="584.8" y="233.9" width="5.4" height="9.6" rx="0.8" fill="#d0d0d0" />
<rect x="588.9" y="234.4" width="1.3" height="9.1" rx="0" fill="#a4a4a4" />
<rect x="584.8" y="245.3" width="5.4" height="9.6" rx="0.8" fill="#d0d0d0" />
<rect x="588.9" y="245.8" width="1.3" height="9.1" rx="0" fill="#a4a4a4" />
<rect x="584.8" y="256.7" width="5.4" height="9.6" rx="0.8" fill="#d0d0d0" />
<rect x="588.9" y="257.2" width="1.3" height="9.1" rx="0" fill="#a4a4a4" />
<polygon points="591.2,128.1 599.2,123.1 599.2,131.6 591.2,136.1" fill="#cbcbcb" stroke="none" stroke-width="0" />
<rect x="592.7" y="136.5" width="5.4" height="9.6" rx="0.8" fill="#d0d0d0" />
<rect x="596.8" y="137" width="1.3" height="9.1" rx="0" fill="#a4a4a4" />
<rect x="592.7" y="147.9" width="5.4" height="9.6" rx="0.8" fill="#d0d0d0" />
<rect x="596.8" y="148.4" width="1.3" height="9.1" rx="0" fill="#a4a4a4" />
<rect x="592.7" y="159.3" width="5.4" height="9.6" rx="0.8" fill="#d0d0d0" />
<rect x="596.8" y="159.8" width="1.3" height="9.1" rx="0" fill="#a4a4a4" />
<rect x="592.7" y="170.7" width="5.4" height="9.6" rx="0.8" fill="#d0d0d0" />
<rect x="596.8" y="171.2" width="1.3" height="9.1" rx="0" fill="#a4a4a4" />
<rect x="592.7" y="182.1" width="5.4" height="9.6" rx="0.8" fill="#d0d0d0" />
<rect x="596.8" y="182.6" width="1.3" height="9.1" rx="0" fill="#a4a4a4" />
<rect x="592.7" y="193.5" width="5.4" height="9.6" rx="0.8" fill="#d0d0d0" />
<rect x="596.8" y="194" width="1.3" height="9.1" rx="0" fill="#a4a4a4" />
<rect x="592.7" y="204.9" width="5.4" height="9.6" rx="0.8" fill="#d0d0d0" />
<rect x="596.8" y="205.4" width="1.3" height="9.1" rx="0" fill="#a4a4a4" />
<polygon points="591.2,219.3 599.2,214.3 599.2,222.8 591.2,227.3" fill="#cbcbcb" stroke="none" stroke-width="0" />
<rect x="592.7" y="227.7" width="5.4" height="9.6" rx="0.8" fill="#d0d0d0" />
<rect x="596.8" y="228.2" width="1.3" height="9.1" rx="0" fill="#a4a4a4" />
<rect x="592.7" y="239.1" width="5.4" height="9.6" rx="0.8" fill="#d0d0d0" />
<rect x="596.8" y="239.6" width="1.3" height="9.1" rx="0" fill="#a4a4a4" />
<rect x="592.7" y="250.5" width="5.4" height="9.6" rx="0.8" fill="#d0d0d0" />
<rect x="596.8" y="251" width="1.3" height="9.1" rx="0" fill="#a4a4a4" />
<polygon points="599.1,121.9 607.1,116.9 607.1,125.4 599.1,129.9" fill="#cbcbcb" stroke="none" stroke-width="0" />
<rect x="600.6" y="130.3" width="5.4" height="9.6" rx="0.8" fill="#d0d0d0" />
<rect x="604.7" y="130.8" width="1.3" height="9.1" rx="0" fill="#a4a4a4" />
<rect x="600.6" y="141.7" width="5.4" height="9.6" rx="0.8" fill="#d0d0d0" />
<rect x="604.7" y="142.2" width="1.3" height="9.1" rx="0" fill="#a4a4a4" />
<rect x="600.6" y="153.1" width="5.4" height="9.6" rx="0.8" fill="#d0d0d0" />
<rect x="604.7" y="153.6" width="1.3" height="9.1" rx="0" fill="#a4a4a4" />
<rect x="600.6" y="164.5" width="5.4" height="9.6" rx="0.8" fill="#d0d0d0" />
<rect x="604.7" y="165" width="1.3" height="9.1" rx="0" fill="#a4a4a4" />
<rect x="600.6" y="175.9" width="5.4" height="9.6" rx="0.8" fill="#d0d0d0" />
<rect x="604.7" y="176.4" width="1.3" height="9.1" rx="0" fill="#a4a4a4" />
<rect x="600.6" y="187.3" width="5.4" height="9.6" rx="0.8" fill="#d0d0d0" />
<rect x="604.7" y="187.8" width="1.3" height="9.1" rx="0" fill="#a4a4a4" />
<rect x="600.6" y="198.7" width="5.4" height="9.6" rx="0.8" fill="#d0d0d0" />
<rect x="604.7" y="199.2" width="1.3" height="9.1" rx="0" fill="#a4a4a4" />
<polygon points="599.1,213.1 607.1,208.1 607.1,216.6 599.1,221.1" fill="#cbcbcb" stroke="none" stroke-width="0" />
<rect x="600.6" y="221.5" width="5.4" height="9.6" rx="0.8" fill="#d0d0d0" />
<rect x="604.7" y="222" width="1.3" height="9.1" rx="0" fill="#a4a4a4" />
<rect x="600.6" y="232.9" width="5.4" height="9.6" rx="0.8" fill="#d0d0d0" />
<rect x="604.7" y="233.4" width="1.3" height="9.1" rx="0" fill="#a4a4a4" />
<rect x="608.5" y="124.1" width="5.4" height="9.6" rx="0.8" fill="#d0d0d0" />
<rect x="612.6" y="124.6" width="1.3" height="9.1" rx="0" fill="#a4a4a4" />
<rect x="608.5" y="135.5" width="5.4" height="9.6" rx="0.8" fill="#d0d0d0" />
<rect x="612.6" y="136" width="1.3" height="9.1" rx="0" fill="#a4a4a4" />
<rect x="608.5" y="146.9" width="5.4" height="9.6" rx="0.8" fill="#d0d0d0" />
<rect x="612.6" y="147.4" width="1.3" height="9.1" rx="0" fill="#a4a4a4" />
<rect x="608.5" y="158.3" width="5.4" height="9.6" rx="0.8" fill="#d0d0d0" />
<rect x="612.6" y="158.8" width="1.3" height="9.1" rx="0" fill="#a4a4a4" />
<rect x="608.5" y="169.7" width="5.4" height="9.6" rx="0.8" fill="#d0d0d0" />
<rect x="612.6" y="170.2" width="1.3" height="9.1" rx="0" fill="#a4a4a4" />
<rect x="608.5" y="181.1" width="5.4" height="9.6" rx="0.8" fill="#d0d0d0" />
<rect x="612.6" y="181.6" width="1.3" height="9.1" rx="0" fill="#a4a4a4" />
<rect x="608.5" y="192.5" width="5.4" height="9.6" rx="0.8" fill="#d0d0d0" />
<rect x="612.6" y="193" width="1.3" height="9.1" rx="0" fill="#a4a4a4" />
<rect x="608.5" y="203.9" width="5.4" height="9.6" rx="0.8" fill="#d0d0d0" />
<rect x="612.6" y="204.4" width="1.3" height="9.1" rx="0" fill="#a4a4a4" />
<rect x="608.5" y="215.3" width="5.4" height="9.6" rx="0.8" fill="#d0d0d0" />
<rect x="612.6" y="215.8" width="1.3" height="9.1" rx="0" fill="#a4a4a4" />
<rect x="608.5" y="226.7" width="5.4" height="9.6" rx="0.8" fill="#d0d0d0" />
<rect x="612.6" y="227.2" width="1.3" height="9.1" rx="0" fill="#a4a4a4" />
<rect x="616.4" y="117.9" width="5.4" height="9.6" rx="0.8" fill="#d0d0d0" />
<rect x="620.5" y="118.4" width="1.3" height="9.1" rx="0" fill="#a4a4a4" />
<rect x="616.4" y="129.3" width="5.4" height="9.6" rx="0.8" fill="#d0d0d0" />
<rect x="620.5" y="129.8" width="1.3" height="9.1" rx="0" fill="#a4a4a4" />
<rect x="616.4" y="140.7" width="5.4" height="9.6" rx="0.8" fill="#d0d0d0" />
<rect x="620.5" y="141.2" width="1.3" height="9.1" rx="0" fill="#a4a4a4" />
<rect x="616.4" y="152.1" width="5.4" height="9.6" rx="0.8" fill="#d0d0d0" />
<rect x="620.5" y="152.6" width="1.3" height="9.1" rx="0" fill="#a4a4a4" />
<rect x="616.4" y="163.5" width="5.4" height="9.6" rx="0.8" fill="#d0d0d0" />
<rect x="620.5" y="164" width="1.3" height="9.1" rx="0" fill="#a4a4a4" />
<rect x="616.4" y="174.9" width="5.4" height="9.6" rx="0.8" fill="#d0d0d0" />
<rect x="620.5" y="175.4" width="1.3" height="9.1" rx="0" fill="#a4a4a4" />
<rect x="616.4" y="186.3" width="5.4" height="9.6" rx="0.8" fill="#d0d0d0" />
<rect x="620.5" y="186.8" width="1.3" height="9.1" rx="0" fill="#a4a4a4" />
<rect x="616.4" y="197.7" width="5.4" height="9.6" rx="0.8" fill="#d0d0d0" />
<rect x="620.5" y="198.2" width="1.3" height="9.1" rx="0" fill="#a4a4a4" />
<polygon points="614.9,212.1 622.9,207.1 622.9,215.6 614.9,220.1" fill="#cbcbcb" stroke="none" stroke-width="0" />
<rect x="616.4" y="220.5" width="5.4" height="9.6" rx="0.8" fill="#d0d0d0" />
<rect x="620.5" y="221" width="1.3" height="9.1" rx="0" fill="#a4a4a4" />
<rect x="624.3" y="123.1" width="5.4" height="9.6" rx="0.8" fill="#d0d0d0" />
<rect x="628.4" y="123.6" width="1.3" height="9.1" rx="0" fill="#a4a4a4" />
<rect x="624.3" y="134.5" width="5.4" height="9.6" rx="0.8" fill="#d0d0d0" />
<rect x="628.4" y="135" width="1.3" height="9.1" rx="0" fill="#a4a4a4" />
<rect x="624.3" y="145.9" width="5.4" height="9.6" rx="0.8" fill="#d0d0d0" />
<rect x="628.4" y="146.4" width="1.3" height="9.1" rx="0" fill="#a4a4a4" />
<rect x="624.3" y="157.3" width="5.4" height="9.6" rx="0.8" fill="#d0d0d0" />
<rect x="628.4" y="157.8" width="1.3" height="9.1" rx="0" fill="#a4a4a4" />
<rect x="624.3" y="168.7" width="5.4" height="9.6" rx="0.8" fill="#d0d0d0" />
<rect x="628.4" y="169.2" width="1.3" height="9.1" rx="0" fill="#a4a4a4" />
<rect x="624.3" y="180.1" width="5.4" height="9.6" rx="0.8" fill="#d0d0d0" />
<rect x="628.4" y="180.6" width="1.3" height="9.1" rx="0" fill="#a4a4a4" />
<rect x="624.3" y="191.5" width="5.4" height="9.6" rx="0.8" fill="#d0d0d0" />
<rect x="628.4" y="192" width="1.3" height="9.1" rx="0" fill="#a4a4a4" />
<polygon points="622.8,205.9 630.8,200.9 630.8,209.4 622.8,213.9" fill="#cbcbcb" stroke="none" stroke-width="0" />
<rect x="624.3" y="214.3" width="5.4" height="9.6" rx="0.8" fill="#d0d0d0" />
<rect x="628.4" y="214.8" width="1.3" height="9.1" rx="0" fill="#a4a4a4" />
<rect x="632.2" y="116.9" width="5.4" height="9.6" rx="0.8" fill="#d0d0d0" />
<rect x="636.3" y="117.4" width="1.3" height="9.1" rx="0" fill="#a4a4a4" />
<rect x="632.2" y="128.3" width="5.4" height="9.6" rx="0.8" fill="#d0d0d0" />
<rect x="636.3" y="128.8" width="1.3" height="9.1" rx="0" fill="#a4a4a4" />
<rect x="632.2" y="139.7" width="5.4" height="9.6" rx="0.8" fill="#d0d0d0" />
<rect x="636.3" y="140.2" width="1.3" height="9.1" rx="0" fill="#a4a4a4" />
<rect x="632.2" y="151.1" width="5.4" height="9.6" rx="0.8" fill="#d0d0d0" />
<rect x="636.3" y="151.6" width="1.3" height="9.1" rx="0" fill="#a4a4a4" />
<rect x="632.2" y="162.5" width="5.4" height="9.6" rx="0.8" fill="#d0d0d0" />
<rect x="636.3" y="163" width="1.3" height="9.1" rx="0" fill="#a4a4a4" />
<rect x="632.2" y="173.9" width="5.4" height="9.6" rx="0.8" fill="#d0d0d0" />
<rect x="636.3" y="174.4" width="1.3" height="9.1" rx="0" fill="#a4a4a4" />
<rect x="632.2" y="185.3" width="5.4" height="9.6" rx="0.8" fill="#d0d0d0" />
<rect x="636.3" y="185.8" width="1.3" height="9.1" rx="0" fill="#a4a4a4" />
<polygon points="630.7,199.7 638.7,194.7 638.7,203.2 630.7,207.7" fill="#cbcbcb" stroke="none" stroke-width="0" />
<rect x="632.2" y="208.1" width="5.4" height="9.6" rx="0.8" fill="#d0d0d0" />
<rect x="636.3" y="208.6" width="1.3" height="9.1" rx="0" fill="#a4a4a4" />
</g>
</g>
<rect x="432.7" y="125.7" width="198.6" height="139.1" fill="none" stroke="#e07f38" stroke-width="2.5"/>
<rect x="269" y="252" width="99" height="5.6" rx="0" fill="#ffffff" />
<rect x="599.5" y="254" width="26" height="5" rx="0" fill="#ffffff" />
<rect x="922.3" y="0" width="369.2" height="263.6" rx="0" fill="#3b3b3b" />
<rect x="929.75" y="16.25" width="12.5" height="17.5" rx="3.2" fill="#a9a9a9" transform="rotate(-45 936 25)"/>
<rect x="929.75" y="57.85" width="12.5" height="17.5" rx="3.2" fill="#a9a9a9" transform="rotate(-45 936 66.6)"/>
<rect x="929.75" y="99.45" width="12.5" height="17.5" rx="3.2" fill="#a9a9a9" transform="rotate(-45 936 108.2)"/>
<rect x="929.75" y="141.05" width="12.5" height="17.5" rx="3.2" fill="#a9a9a9" transform="rotate(-45 936 149.8)"/>
<rect x="929.75" y="182.65" width="12.5" height="17.5" rx="3.2" fill="#a9a9a9" transform="rotate(-45 936 191.4)"/>
<rect x="929.75" y="224.25" width="12.5" height="17.5" rx="3.2" fill="#a9a9a9" transform="rotate(-45 936 233)"/>
<rect x="968.25" y="17.25" width="15.5" height="15.5" rx="3.2" fill="#a9a9a9" transform="rotate(45 976 25)"/>
<rect x="968.25" y="58.85" width="15.5" height="15.5" rx="3.2" fill="#a9a9a9" transform="rotate(45 976 66.6)"/>
<rect x="968.25" y="100.45" width="15.5" height="15.5" rx="3.2" fill="#a9a9a9" transform="rotate(45 976 108.2)"/>
<rect x="968.25" y="142.05" width="15.5" height="15.5" rx="3.2" fill="#a9a9a9" transform="rotate(45 976 149.8)"/>
<rect x="968.25" y="183.65" width="15.5" height="15.5" rx="3.2" fill="#a9a9a9" transform="rotate(45 976 191.4)"/>
<rect x="968.25" y="225.25" width="15.5" height="15.5" rx="3.2" fill="#a9a9a9" transform="rotate(45 976 233)"/>
<rect x="1009.75" y="14.75" width="14.5" height="20.5" rx="3.2" fill="#a9a9a9" transform="rotate(45 1017 25)"/>
<rect x="1009.75" y="56.35" width="14.5" height="20.5" rx="3.2" fill="#a9a9a9" transform="rotate(45 1017 66.6)"/>
<rect x="1009.75" y="97.95" width="14.5" height="20.5" rx="3.2" fill="#a9a9a9" transform="rotate(45 1017 108.2)"/>
<rect x="1009.75" y="139.55" width="14.5" height="20.5" rx="3.2" fill="#a9a9a9" transform="rotate(45 1017 149.8)"/>
<rect x="1009.75" y="181.15" width="14.5" height="20.5" rx="3.2" fill="#a9a9a9" transform="rotate(45 1017 191.4)"/>
<rect x="1009.75" y="222.75" width="14.5" height="20.5" rx="3.2" fill="#a9a9a9" transform="rotate(45 1017 233)"/>
<rect x="1054.25" y="6.5" width="11.5" height="37" rx="3.2" fill="#a9a9a9" transform="rotate(45 1060 25)"/>
<rect x="1054.25" y="48.1" width="11.5" height="37" rx="3.2" fill="#a9a9a9" transform="rotate(45 1060 66.6)"/>
<rect x="1054.25" y="89.7" width="11.5" height="37" rx="3.2" fill="#a9a9a9" transform="rotate(45 1060 108.2)"/>
<rect x="1054.25" y="131.3" width="11.5" height="37" rx="3.2" fill="#a9a9a9" transform="rotate(45 1060 149.8)"/>
<rect x="1054.25" y="172.9" width="11.5" height="37" rx="3.2" fill="#a9a9a9" transform="rotate(45 1060 191.4)"/>
<rect x="1054.25" y="214.5" width="11.5" height="37" rx="3.2" fill="#a9a9a9" transform="rotate(45 1060 233)"/>
<rect x="1091.5" y="14" width="15" height="22" rx="3.2" fill="#a9a9a9" transform="rotate(-45 1099 25)"/>
<rect x="1091.5" y="55.6" width="15" height="22" rx="3.2" fill="#a9a9a9" transform="rotate(-45 1099 66.6)"/>
<rect x="1091.5" y="97.2" width="15" height="22" rx="3.2" fill="#a9a9a9" transform="rotate(-45 1099 108.2)"/>
<rect x="1091.5" y="138.8" width="15" height="22" rx="3.2" fill="#a9a9a9" transform="rotate(-45 1099 149.8)"/>
<rect x="1091.5" y="180.4" width="15" height="22" rx="3.2" fill="#a9a9a9" transform="rotate(-45 1099 191.4)"/>
<rect x="1091.5" y="222" width="15" height="22" rx="3.2" fill="#a9a9a9" transform="rotate(-45 1099 233)"/>
<rect x="1137.25" y="6.5" width="11.5" height="37" rx="3.2" fill="#a9a9a9" transform="rotate(-45 1143 25)"/>
<rect x="1137.25" y="48.1" width="11.5" height="37" rx="3.2" fill="#a9a9a9" transform="rotate(-45 1143 66.6)"/>
<rect x="1137.25" y="89.7" width="11.5" height="37" rx="3.2" fill="#a9a9a9" transform="rotate(-45 1143 108.2)"/>
<rect x="1137.25" y="131.3" width="11.5" height="37" rx="3.2" fill="#a9a9a9" transform="rotate(-45 1143 149.8)"/>
<rect x="1137.25" y="172.9" width="11.5" height="37" rx="3.2" fill="#a9a9a9" transform="rotate(-45 1143 191.4)"/>
<rect x="1137.25" y="214.5" width="11.5" height="37" rx="3.2" fill="#a9a9a9" transform="rotate(-45 1143 233)"/>
<rect x="1176.5" y="17" width="12" height="16" rx="3.2" fill="#a9a9a9" transform="rotate(45 1182.5 25)"/>
<rect x="1176.5" y="58.6" width="12" height="16" rx="3.2" fill="#a9a9a9" transform="rotate(45 1182.5 66.6)"/>
<rect x="1176.5" y="100.2" width="12" height="16" rx="3.2" fill="#a9a9a9" transform="rotate(45 1182.5 108.2)"/>
<rect x="1176.5" y="141.8" width="12" height="16" rx="3.2" fill="#a9a9a9" transform="rotate(45 1182.5 149.8)"/>
<rect x="1176.5" y="183.4" width="12" height="16" rx="3.2" fill="#a9a9a9" transform="rotate(45 1182.5 191.4)"/>
<rect x="1176.5" y="225" width="12" height="16" rx="3.2" fill="#a9a9a9" transform="rotate(45 1182.5 233)"/>
<rect x="1215.75" y="16.75" width="16.5" height="16.5" rx="3.2" fill="#a9a9a9" transform="rotate(45 1224 25)"/>
<rect x="1215.75" y="58.35" width="16.5" height="16.5" rx="3.2" fill="#a9a9a9" transform="rotate(45 1224 66.6)"/>
<rect x="1215.75" y="99.95" width="16.5" height="16.5" rx="3.2" fill="#a9a9a9" transform="rotate(45 1224 108.2)"/>
<rect x="1215.75" y="141.55" width="16.5" height="16.5" rx="3.2" fill="#a9a9a9" transform="rotate(45 1224 149.8)"/>
<rect x="1215.75" y="183.15" width="16.5" height="16.5" rx="3.2" fill="#a9a9a9" transform="rotate(45 1224 191.4)"/>
<rect x="1215.75" y="224.75" width="16.5" height="16.5" rx="3.2" fill="#a9a9a9" transform="rotate(45 1224 233)"/>
<rect x="1260.75" y="16.75" width="12.5" height="16.5" rx="3.2" fill="#a9a9a9" transform="rotate(-45 1267 25)"/>
<rect x="1260.75" y="58.35" width="12.5" height="16.5" rx="3.2" fill="#a9a9a9" transform="rotate(-45 1267 66.6)"/>
<rect x="1260.75" y="99.95" width="12.5" height="16.5" rx="3.2" fill="#a9a9a9" transform="rotate(-45 1267 108.2)"/>
<rect x="1260.75" y="141.55" width="12.5" height="16.5" rx="3.2" fill="#a9a9a9" transform="rotate(-45 1267 149.8)"/>
<rect x="1260.75" y="183.15" width="12.5" height="16.5" rx="3.2" fill="#a9a9a9" transform="rotate(-45 1267 191.4)"/>
<rect x="1260.75" y="224.75" width="12.5" height="16.5" rx="3.2" fill="#a9a9a9" transform="rotate(-45 1267 233)"/>
<rect x="925.3" y="48" width="316.2" height="36.5" rx="7" fill="none" stroke="#ec8a35" stroke-width="2.6" stroke-dasharray="5.2,3.6"/>
<g>
<rect x="1093.8" y="125.6" width="198.6" height="139.2" rx="0" fill="#404040" />
<g clip-path="url(#clipb)">
<rect x="1099.7" y="116.4" width="4.8" height="8.4" rx="1.6" fill="#c8c8c8" />
<rect x="1103.1" y="117.4" width="1.4" height="7.4" rx="0" fill="#949494" />
<rect x="1094.8" y="122.6" width="4.8" height="8.4" rx="1.6" fill="#c8c8c8" />
<rect x="1098.2" y="123.6" width="1.4" height="7.4" rx="0" fill="#949494" />
<rect x="1089.9" y="128.8" width="4.8" height="8.4" rx="1.6" fill="#c8c8c8" />
<rect x="1093.3" y="129.8" width="1.4" height="7.4" rx="0" fill="#949494" />
<rect x="1109.6" y="119.5" width="4.8" height="8.4" rx="1.6" fill="#c8c8c8" />
<rect x="1113" y="120.5" width="1.4" height="7.4" rx="0" fill="#949494" />
<rect x="1104.7" y="125.7" width="4.8" height="8.4" rx="1.6" fill="#c8c8c8" />
<rect x="1108.1" y="126.7" width="1.4" height="7.4" rx="0" fill="#949494" />
<rect x="1099.8" y="131.9" width="4.8" height="8.4" rx="1.6" fill="#c8c8c8" />
<rect x="1103.2" y="132.9" width="1.4" height="7.4" rx="0" fill="#949494" />
<rect x="1094.9" y="138.1" width="4.8" height="8.4" rx="1.6" fill="#c8c8c8" />
<rect x="1098.3" y="139.1" width="1.4" height="7.4" rx="0" fill="#949494" />
<rect x="1090" y="144.3" width="4.8" height="8.4" rx="1.6" fill="#c8c8c8" />
<rect x="1093.4" y="145.3" width="1.4" height="7.4" rx="0" fill="#949494" />
<rect x="1124.4" y="116.4" width="4.8" height="8.4" rx="1.6" fill="#c8c8c8" />
<rect x="1127.8" y="117.4" width="1.4" height="7.4" rx="0" fill="#949494" />
<rect x="1119.5" y="122.6" width="4.8" height="8.4" rx="1.6" fill="#c8c8c8" />
<rect x="1122.9" y="123.6" width="1.4" height="7.4" rx="0" fill="#949494" />
<rect x="1114.6" y="128.8" width="4.8" height="8.4" rx="1.6" fill="#c8c8c8" />
<rect x="1118" y="129.8" width="1.4" height="7.4" rx="0" fill="#949494" />
<rect x="1109.7" y="135" width="4.8" height="8.4" rx="1.6" fill="#c8c8c8" />
<rect x="1113.1" y="136" width="1.4" height="7.4" rx="0" fill="#949494" />
<rect x="1104.8" y="141.2" width="4.8" height="8.4" rx="1.6" fill="#c8c8c8" />
<rect x="1108.2" y="142.2" width="1.4" height="7.4" rx="0" fill="#949494" />
<rect x="1099.9" y="147.4" width="4.8" height="8.4" rx="1.6" fill="#c8c8c8" />
<rect x="1103.3" y="148.4" width="1.4" height="7.4" rx="0" fill="#949494" />
<rect x="1095" y="153.6" width="4.8" height="8.4" rx="1.6" fill="#c8c8c8" />
<rect x="1098.4" y="154.6" width="1.4" height="7.4" rx="0" fill="#949494" />
<rect x="1090.1" y="159.8" width="4.8" height="8.4" rx="1.6" fill="#c8c8c8" />
<rect x="1093.5" y="160.8" width="1.4" height="7.4" rx="0" fill="#949494" />
<rect x="1134.3" y="119.5" width="4.8" height="8.4" rx="1.6" fill="#c8c8c8" />
<rect x="1137.7" y="120.5" width="1.4" height="7.4" rx="0" fill="#949494" />
<rect x="1129.4" y="125.7" width="4.8" height="8.4" rx="1.6" fill="#c8c8c8" />
<rect x="1132.8" y="126.7" width="1.4" height="7.4" rx="0" fill="#949494" />
<rect x="1124.5" y="131.9" width="4.8" height="8.4" rx="1.6" fill="#c8c8c8" />
<rect x="1127.9" y="132.9" width="1.4" height="7.4" rx="0" fill="#949494" />
<rect x="1119.6" y="138.1" width="4.8" height="8.4" rx="1.6" fill="#c8c8c8" />
<rect x="1123" y="139.1" width="1.4" height="7.4" rx="0" fill="#949494" />
<rect x="1114.7" y="144.3" width="4.8" height="8.4" rx="1.6" fill="#c8c8c8" />
<rect x="1118.1" y="145.3" width="1.4" height="7.4" rx="0" fill="#949494" />
<rect x="1109.8" y="150.5" width="4.8" height="8.4" rx="1.6" fill="#c8c8c8" />
<rect x="1113.2" y="151.5" width="1.4" height="7.4" rx="0" fill="#949494" />
<rect x="1104.9" y="156.7" width="4.8" height="8.4" rx="1.6" fill="#c8c8c8" />
<rect x="1108.3" y="157.7" width="1.4" height="7.4" rx="0" fill="#949494" />
<rect x="1100" y="162.9" width="4.8" height="8.4" rx="1.6" fill="#c8c8c8" />
<rect x="1103.4" y="163.9" width="1.4" height="7.4" rx="0" fill="#949494" />
<rect x="1095.1" y="169.1" width="4.8" height="8.4" rx="1.6" fill="#c8c8c8" />
<rect x="1098.5" y="170.1" width="1.4" height="7.4" rx="0" fill="#949494" />
<rect x="1090.2" y="175.3" width="4.8" height="8.4" rx="1.6" fill="#c8c8c8" />
<rect x="1093.6" y="176.3" width="1.4" height="7.4" rx="0" fill="#949494" />
<rect x="1149.1" y="116.4" width="4.8" height="8.4" rx="1.6" fill="#c8c8c8" />
<rect x="1152.5" y="117.4" width="1.4" height="7.4" rx="0" fill="#949494" />
<rect x="1144.2" y="122.6" width="4.8" height="8.4" rx="1.6" fill="#c8c8c8" />
<rect x="1147.6" y="123.6" width="1.4" height="7.4" rx="0" fill="#949494" />
<rect x="1139.3" y="128.8" width="4.8" height="8.4" rx="1.6" fill="#c8c8c8" />
<rect x="1142.7" y="129.8" width="1.4" height="7.4" rx="0" fill="#949494" />
<rect x="1134.4" y="135" width="4.8" height="8.4" rx="1.6" fill="#c8c8c8" />
<rect x="1137.8" y="136" width="1.4" height="7.4" rx="0" fill="#949494" />
<rect x="1129.5" y="141.2" width="4.8" height="8.4" rx="1.6" fill="#c8c8c8" />
<rect x="1132.9" y="142.2" width="1.4" height="7.4" rx="0" fill="#949494" />
<rect x="1124.6" y="147.4" width="4.8" height="8.4" rx="1.6" fill="#c8c8c8" />
<rect x="1128" y="148.4" width="1.4" height="7.4" rx="0" fill="#949494" />
<rect x="1119.7" y="153.6" width="4.8" height="8.4" rx="1.6" fill="#c8c8c8" />
<rect x="1123.1" y="154.6" width="1.4" height="7.4" rx="0" fill="#949494" />
<rect x="1114.8" y="159.8" width="4.8" height="8.4" rx="1.6" fill="#c8c8c8" />
<rect x="1118.2" y="160.8" width="1.4" height="7.4" rx="0" fill="#949494" />
<rect x="1109.9" y="166" width="4.8" height="8.4" rx="1.6" fill="#c8c8c8" />
<rect x="1113.3" y="167" width="1.4" height="7.4" rx="0" fill="#949494" />
<rect x="1105" y="172.2" width="4.8" height="8.4" rx="1.6" fill="#c8c8c8" />
<rect x="1108.4" y="173.2" width="1.4" height="7.4" rx="0" fill="#949494" />
<rect x="1100.1" y="178.4" width="4.8" height="8.4" rx="1.6" fill="#c8c8c8" />
<rect x="1103.5" y="179.4" width="1.4" height="7.4" rx="0" fill="#949494" />
<rect x="1095.2" y="184.6" width="4.8" height="8.4" rx="1.6" fill="#c8c8c8" />
<rect x="1098.6" y="185.6" width="1.4" height="7.4" rx="0" fill="#949494" />
<rect x="1090.3" y="190.8" width="4.8" height="8.4" rx="1.6" fill="#c8c8c8" />
<rect x="1093.7" y="191.8" width="1.4" height="7.4" rx="0" fill="#949494" />
<rect x="1159" y="119.5" width="4.8" height="8.4" rx="1.6" fill="#c8c8c8" />
<rect x="1162.4" y="120.5" width="1.4" height="7.4" rx="0" fill="#949494" />
<rect x="1154.1" y="125.7" width="4.8" height="8.4" rx="1.6" fill="#c8c8c8" />
<rect x="1157.5" y="126.7" width="1.4" height="7.4" rx="0" fill="#949494" />
<rect x="1149.2" y="131.9" width="4.8" height="8.4" rx="1.6" fill="#c8c8c8" />
<rect x="1152.6" y="132.9" width="1.4" height="7.4" rx="0" fill="#949494" />
<rect x="1144.3" y="138.1" width="4.8" height="8.4" rx="1.6" fill="#c8c8c8" />
<rect x="1147.7" y="139.1" width="1.4" height="7.4" rx="0" fill="#949494" />
<rect x="1139.4" y="144.3" width="4.8" height="8.4" rx="1.6" fill="#c8c8c8" />
<rect x="1142.8" y="145.3" width="1.4" height="7.4" rx="0" fill="#949494" />
<rect x="1134.5" y="150.5" width="4.8" height="8.4" rx="1.6" fill="#c8c8c8" />
<rect x="1137.9" y="151.5" width="1.4" height="7.4" rx="0" fill="#949494" />
<rect x="1129.6" y="156.7" width="4.8" height="8.4" rx="1.6" fill="#c8c8c8" />
<rect x="1133" y="157.7" width="1.4" height="7.4" rx="0" fill="#949494" />
<rect x="1124.7" y="162.9" width="4.8" height="8.4" rx="1.6" fill="#c8c8c8" />
<rect x="1128.1" y="163.9" width="1.4" height="7.4" rx="0" fill="#949494" />
<rect x="1119.8" y="169.1" width="4.8" height="8.4" rx="1.6" fill="#c8c8c8" />
<rect x="1123.2" y="170.1" width="1.4" height="7.4" rx="0" fill="#949494" />
<rect x="1114.9" y="175.3" width="4.8" height="8.4" rx="1.6" fill="#c8c8c8" />
<rect x="1118.3" y="176.3" width="1.4" height="7.4" rx="0" fill="#949494" />
<rect x="1110" y="181.5" width="4.8" height="8.4" rx="1.6" fill="#c8c8c8" />
<rect x="1113.4" y="182.5" width="1.4" height="7.4" rx="0" fill="#949494" />
<rect x="1105.1" y="187.7" width="4.8" height="8.4" rx="1.6" fill="#c8c8c8" />
<rect x="1108.5" y="188.7" width="1.4" height="7.4" rx="0" fill="#949494" />
<rect x="1100.2" y="193.9" width="4.8" height="8.4" rx="1.6" fill="#c8c8c8" />
<rect x="1103.6" y="194.9" width="1.4" height="7.4" rx="0" fill="#949494" />
<rect x="1095.3" y="200.1" width="4.8" height="8.4" rx="1.6" fill="#c8c8c8" />
<rect x="1098.7" y="201.1" width="1.4" height="7.4" rx="0" fill="#949494" />
<rect x="1090.4" y="206.3" width="4.8" height="8.4" rx="1.6" fill="#c8c8c8" />
<rect x="1093.8" y="207.3" width="1.4" height="7.4" rx="0" fill="#949494" />
<rect x="1173.8" y="116.4" width="4.8" height="8.4" rx="1.6" fill="#c8c8c8" />
<rect x="1177.2" y="117.4" width="1.4" height="7.4" rx="0" fill="#949494" />
<rect x="1168.9" y="122.6" width="4.8" height="8.4" rx="1.6" fill="#c8c8c8" />
<rect x="1172.3" y="123.6" width="1.4" height="7.4" rx="0" fill="#949494" />
<rect x="1164" y="128.8" width="4.8" height="8.4" rx="1.6" fill="#c8c8c8" />
<rect x="1167.4" y="129.8" width="1.4" height="7.4" rx="0" fill="#949494" />
<rect x="1159.1" y="135" width="4.8" height="8.4" rx="1.6" fill="#c8c8c8" />
<rect x="1162.5" y="136" width="1.4" height="7.4" rx="0" fill="#949494" />
<rect x="1154.2" y="141.2" width="4.8" height="8.4" rx="1.6" fill="#c8c8c8" />
<rect x="1157.6" y="142.2" width="1.4" height="7.4" rx="0" fill="#949494" />
<rect x="1149.3" y="147.4" width="4.8" height="8.4" rx="1.6" fill="#c8c8c8" />
<rect x="1152.7" y="148.4" width="1.4" height="7.4" rx="0" fill="#949494" />
<rect x="1144.4" y="153.6" width="4.8" height="8.4" rx="1.6" fill="#c8c8c8" />
<rect x="1147.8" y="154.6" width="1.4" height="7.4" rx="0" fill="#949494" />
<rect x="1139.5" y="159.8" width="4.8" height="8.4" rx="1.6" fill="#c8c8c8" />
<rect x="1142.9" y="160.8" width="1.4" height="7.4" rx="0" fill="#949494" />
<rect x="1134.6" y="166" width="4.8" height="8.4" rx="1.6" fill="#c8c8c8" />
<rect x="1138" y="167" width="1.4" height="7.4" rx="0" fill="#949494" />
<rect x="1129.7" y="172.2" width="4.8" height="8.4" rx="1.6" fill="#c8c8c8" />
<rect x="1133.1" y="173.2" width="1.4" height="7.4" rx="0" fill="#949494" />
<rect x="1124.8" y="178.4" width="4.8" height="8.4" rx="1.6" fill="#c8c8c8" />
<rect x="1128.2" y="179.4" width="1.4" height="7.4" rx="0" fill="#949494" />
<rect x="1119.9" y="184.6" width="4.8" height="8.4" rx="1.6" fill="#c8c8c8" />
<rect x="1123.3" y="185.6" width="1.4" height="7.4" rx="0" fill="#949494" />
<rect x="1115" y="190.8" width="4.8" height="8.4" rx="1.6" fill="#c8c8c8" />
<rect x="1118.4" y="191.8" width="1.4" height="7.4" rx="0" fill="#949494" />
<rect x="1110.1" y="197" width="4.8" height="8.4" rx="1.6" fill="#c8c8c8" />
<rect x="1113.5" y="198" width="1.4" height="7.4" rx="0" fill="#949494" />
<rect x="1105.2" y="203.2" width="4.8" height="8.4" rx="1.6" fill="#c8c8c8" />
<rect x="1108.6" y="204.2" width="1.4" height="7.4" rx="0" fill="#949494" />
<rect x="1100.3" y="209.4" width="4.8" height="8.4" rx="1.6" fill="#c8c8c8" />
<rect x="1103.7" y="210.4" width="1.4" height="7.4" rx="0" fill="#949494" />
<rect x="1183.7" y="119.5" width="4.8" height="8.4" rx="1.6" fill="#c8c8c8" />
<rect x="1187.1" y="120.5" width="1.4" height="7.4" rx="0" fill="#949494" />
<rect x="1178.8" y="125.7" width="4.8" height="8.4" rx="1.6" fill="#c8c8c8" />
<rect x="1182.2" y="126.7" width="1.4" height="7.4" rx="0" fill="#949494" />
<rect x="1173.9" y="131.9" width="4.8" height="8.4" rx="1.6" fill="#c8c8c8" />
<rect x="1177.3" y="132.9" width="1.4" height="7.4" rx="0" fill="#949494" />
<rect x="1169" y="138.1" width="4.8" height="8.4" rx="1.6" fill="#c8c8c8" />
<rect x="1172.4" y="139.1" width="1.4" height="7.4" rx="0" fill="#949494" />
<rect x="1164.1" y="144.3" width="4.8" height="8.4" rx="1.6" fill="#c8c8c8" />
<rect x="1167.5" y="145.3" width="1.4" height="7.4" rx="0" fill="#949494" />
<rect x="1159.2" y="150.5" width="4.8" height="8.4" rx="1.6" fill="#c8c8c8" />
<rect x="1162.6" y="151.5" width="1.4" height="7.4" rx="0" fill="#949494" />
<rect x="1154.3" y="156.7" width="4.8" height="8.4" rx="1.6" fill="#c8c8c8" />
<rect x="1157.7" y="157.7" width="1.4" height="7.4" rx="0" fill="#949494" />
<rect x="1149.4" y="162.9" width="4.8" height="8.4" rx="1.6" fill="#c8c8c8" />
<rect x="1152.8" y="163.9" width="1.4" height="7.4" rx="0" fill="#949494" />
<rect x="1144.5" y="169.1" width="4.8" height="8.4" rx="1.6" fill="#c8c8c8" />
<rect x="1147.9" y="170.1" width="1.4" height="7.4" rx="0" fill="#949494" />
<rect x="1139.6" y="175.3" width="4.8" height="8.4" rx="1.6" fill="#c8c8c8" />
<rect x="1143" y="176.3" width="1.4" height="7.4" rx="0" fill="#949494" />
<rect x="1134.7" y="181.5" width="4.8" height="8.4" rx="1.6" fill="#c8c8c8" />
<rect x="1138.1" y="182.5" width="1.4" height="7.4" rx="0" fill="#949494" />
<rect x="1129.8" y="187.7" width="4.8" height="8.4" rx="1.6" fill="#c8c8c8" />
<rect x="1133.2" y="188.7" width="1.4" height="7.4" rx="0" fill="#949494" />
<rect x="1124.9" y="193.9" width="4.8" height="8.4" rx="1.6" fill="#c8c8c8" />
<rect x="1128.3" y="194.9" width="1.4" height="7.4" rx="0" fill="#949494" />
<rect x="1120" y="200.1" width="4.8" height="8.4" rx="1.6" fill="#c8c8c8" />
<rect x="1123.4" y="201.1" width="1.4" height="7.4" rx="0" fill="#949494" />
<rect x="1115.1" y="206.3" width="4.8" height="8.4" rx="1.6" fill="#c8c8c8" />
<rect x="1118.5" y="207.3" width="1.4" height="7.4" rx="0" fill="#949494" />
<rect x="1110.2" y="212.5" width="4.8" height="8.4" rx="1.6" fill="#c8c8c8" />
<rect x="1113.6" y="213.5" width="1.4" height="7.4" rx="0" fill="#949494" />
<rect x="1198.5" y="116.4" width="4.8" height="8.4" rx="1.6" fill="#c8c8c8" />
<rect x="1201.9" y="117.4" width="1.4" height="7.4" rx="0" fill="#949494" />
<rect x="1193.6" y="122.6" width="4.8" height="8.4" rx="1.6" fill="#c8c8c8" />
<rect x="1197" y="123.6" width="1.4" height="7.4" rx="0" fill="#949494" />
<rect x="1188.7" y="128.8" width="4.8" height="8.4" rx="1.6" fill="#c8c8c8" />
<rect x="1192.1" y="129.8" width="1.4" height="7.4" rx="0" fill="#949494" />
<rect x="1183.8" y="135" width="4.8" height="8.4" rx="1.6" fill="#c8c8c8" />
<rect x="1187.2" y="136" width="1.4" height="7.4" rx="0" fill="#949494" />
<rect x="1178.9" y="141.2" width="4.8" height="8.4" rx="1.6" fill="#c8c8c8" />
<rect x="1182.3" y="142.2" width="1.4" height="7.4" rx="0" fill="#949494" />
<rect x="1174" y="147.4" width="4.8" height="8.4" rx="1.6" fill="#c8c8c8" />
<rect x="1177.4" y="148.4" width="1.4" height="7.4" rx="0" fill="#949494" />
<rect x="1169.1" y="153.6" width="4.8" height="8.4" rx="1.6" fill="#c8c8c8" />
<rect x="1172.5" y="154.6" width="1.4" height="7.4" rx="0" fill="#949494" />
<rect x="1164.2" y="159.8" width="4.8" height="8.4" rx="1.6" fill="#c8c8c8" />
<rect x="1167.6" y="160.8" width="1.4" height="7.4" rx="0" fill="#949494" />
<rect x="1159.3" y="166" width="4.8" height="8.4" rx="1.6" fill="#c8c8c8" />
<rect x="1162.7" y="167" width="1.4" height="7.4" rx="0" fill="#949494" />
<rect x="1154.4" y="172.2" width="4.8" height="8.4" rx="1.6" fill="#c8c8c8" />
<rect x="1157.8" y="173.2" width="1.4" height="7.4" rx="0" fill="#949494" />
<rect x="1149.5" y="178.4" width="4.8" height="8.4" rx="1.6" fill="#c8c8c8" />
<rect x="1152.9" y="179.4" width="1.4" height="7.4" rx="0" fill="#949494" />
<rect x="1144.6" y="184.6" width="4.8" height="8.4" rx="1.6" fill="#c8c8c8" />
<rect x="1148" y="185.6" width="1.4" height="7.4" rx="0" fill="#949494" />
<rect x="1139.7" y="190.8" width="4.8" height="8.4" rx="1.6" fill="#c8c8c8" />
<rect x="1143.1" y="191.8" width="1.4" height="7.4" rx="0" fill="#949494" />
<rect x="1134.8" y="197" width="4.8" height="8.4" rx="1.6" fill="#c8c8c8" />
<rect x="1138.2" y="198" width="1.4" height="7.4" rx="0" fill="#949494" />
<rect x="1129.9" y="203.2" width="4.8" height="8.4" rx="1.6" fill="#c8c8c8" />
<rect x="1133.3" y="204.2" width="1.4" height="7.4" rx="0" fill="#949494" />
<rect x="1125" y="209.4" width="4.8" height="8.4" rx="1.6" fill="#c8c8c8" />
<rect x="1128.4" y="210.4" width="1.4" height="7.4" rx="0" fill="#949494" />
<rect x="1120.1" y="215.6" width="4.8" height="8.4" rx="1.6" fill="#c8c8c8" />
<rect x="1123.5" y="216.6" width="1.4" height="7.4" rx="0" fill="#949494" />
<rect x="1208.4" y="119.5" width="4.8" height="8.4" rx="1.6" fill="#c8c8c8" />
<rect x="1211.8" y="120.5" width="1.4" height="7.4" rx="0" fill="#949494" />
<rect x="1203.5" y="125.7" width="4.8" height="8.4" rx="1.6" fill="#c8c8c8" />
<rect x="1206.9" y="126.7" width="1.4" height="7.4" rx="0" fill="#949494" />
<rect x="1198.6" y="131.9" width="4.8" height="8.4" rx="1.6" fill="#c8c8c8" />
<rect x="1202" y="132.9" width="1.4" height="7.4" rx="0" fill="#949494" />
<rect x="1193.7" y="138.1" width="4.8" height="8.4" rx="1.6" fill="#c8c8c8" />
<rect x="1197.1" y="139.1" width="1.4" height="7.4" rx="0" fill="#949494" />
<rect x="1188.8" y="144.3" width="4.8" height="8.4" rx="1.6" fill="#c8c8c8" />
<rect x="1192.2" y="145.3" width="1.4" height="7.4" rx="0" fill="#949494" />
<rect x="1183.9" y="150.5" width="4.8" height="8.4" rx="1.6" fill="#c8c8c8" />
<rect x="1187.3" y="151.5" width="1.4" height="7.4" rx="0" fill="#949494" />
<rect x="1179" y="156.7" width="4.8" height="8.4" rx="1.6" fill="#c8c8c8" />
<rect x="1182.4" y="157.7" width="1.4" height="7.4" rx="0" fill="#949494" />
<rect x="1174.1" y="162.9" width="4.8" height="8.4" rx="1.6" fill="#c8c8c8" />
<rect x="1177.5" y="163.9" width="1.4" height="7.4" rx="0" fill="#949494" />
<rect x="1169.2" y="169.1" width="4.8" height="8.4" rx="1.6" fill="#c8c8c8" />
<rect x="1172.6" y="170.1" width="1.4" height="7.4" rx="0" fill="#949494" />
<rect x="1164.3" y="175.3" width="4.8" height="8.4" rx="1.6" fill="#c8c8c8" />
<rect x="1167.7" y="176.3" width="1.4" height="7.4" rx="0" fill="#949494" />
<rect x="1159.4" y="181.5" width="4.8" height="8.4" rx="1.6" fill="#c8c8c8" />
<rect x="1162.8" y="182.5" width="1.4" height="7.4" rx="0" fill="#949494" />
<rect x="1154.5" y="187.7" width="4.8" height="8.4" rx="1.6" fill="#c8c8c8" />
<rect x="1157.9" y="188.7" width="1.4" height="7.4" rx="0" fill="#949494" />
<rect x="1149.6" y="193.9" width="4.8" height="8.4" rx="1.6" fill="#c8c8c8" />
<rect x="1153" y="194.9" width="1.4" height="7.4" rx="0" fill="#949494" />
<rect x="1144.7" y="200.1" width="4.8" height="8.4" rx="1.6" fill="#c8c8c8" />
<rect x="1148.1" y="201.1" width="1.4" height="7.4" rx="0" fill="#949494" />
<rect x="1139.8" y="206.3" width="4.8" height="8.4" rx="1.6" fill="#c8c8c8" />
<rect x="1143.2" y="207.3" width="1.4" height="7.4" rx="0" fill="#949494" />
<rect x="1134.9" y="212.5" width="4.8" height="8.4" rx="1.6" fill="#c8c8c8" />
<rect x="1138.3" y="213.5" width="1.4" height="7.4" rx="0" fill="#949494" />
<rect x="1130" y="218.7" width="4.8" height="8.4" rx="1.6" fill="#c8c8c8" />
<rect x="1133.4" y="219.7" width="1.4" height="7.4" rx="0" fill="#949494" />
<rect x="1223.2" y="116.4" width="4.8" height="8.4" rx="1.6" fill="#c8c8c8" />
<rect x="1226.6" y="117.4" width="1.4" height="7.4" rx="0" fill="#949494" />
<rect x="1218.3" y="122.6" width="4.8" height="8.4" rx="1.6" fill="#c8c8c8" />
<rect x="1221.7" y="123.6" width="1.4" height="7.4" rx="0" fill="#949494" />
<rect x="1213.4" y="128.8" width="4.8" height="8.4" rx="1.6" fill="#c8c8c8" />
<rect x="1216.8" y="129.8" width="1.4" height="7.4" rx="0" fill="#949494" />
<rect x="1208.5" y="135" width="4.8" height="8.4" rx="1.6" fill="#c8c8c8" />
<rect x="1211.9" y="136" width="1.4" height="7.4" rx="0" fill="#949494" />
<rect x="1203.6" y="141.2" width="4.8" height="8.4" rx="1.6" fill="#c8c8c8" />
<rect x="1207" y="142.2" width="1.4" height="7.4" rx="0" fill="#949494" />
<rect x="1198.7" y="147.4" width="4.8" height="8.4" rx="1.6" fill="#c8c8c8" />
<rect x="1202.1" y="148.4" width="1.4" height="7.4" rx="0" fill="#949494" />
<rect x="1193.8" y="153.6" width="4.8" height="8.4" rx="1.6" fill="#c8c8c8" />
<rect x="1197.2" y="154.6" width="1.4" height="7.4" rx="0" fill="#949494" />
<rect x="1188.9" y="159.8" width="4.8" height="8.4" rx="1.6" fill="#c8c8c8" />
<rect x="1192.3" y="160.8" width="1.4" height="7.4" rx="0" fill="#949494" />
<rect x="1184" y="166" width="4.8" height="8.4" rx="1.6" fill="#c8c8c8" />
<rect x="1187.4" y="167" width="1.4" height="7.4" rx="0" fill="#949494" />
<rect x="1179.1" y="172.2" width="4.8" height="8.4" rx="1.6" fill="#c8c8c8" />
<rect x="1182.5" y="173.2" width="1.4" height="7.4" rx="0" fill="#949494" />
<rect x="1174.2" y="178.4" width="4.8" height="8.4" rx="1.6" fill="#c8c8c8" />
<rect x="1177.6" y="179.4" width="1.4" height="7.4" rx="0" fill="#949494" />
<rect x="1169.3" y="184.6" width="4.8" height="8.4" rx="1.6" fill="#c8c8c8" />
<rect x="1172.7" y="185.6" width="1.4" height="7.4" rx="0" fill="#949494" />
<rect x="1164.4" y="190.8" width="4.8" height="8.4" rx="1.6" fill="#c8c8c8" />
<rect x="1167.8" y="191.8" width="1.4" height="7.4" rx="0" fill="#949494" />
<rect x="1159.5" y="197" width="4.8" height="8.4" rx="1.6" fill="#c8c8c8" />
<rect x="1162.9" y="198" width="1.4" height="7.4" rx="0" fill="#949494" />
<rect x="1154.6" y="203.2" width="4.8" height="8.4" rx="1.6" fill="#c8c8c8" />
<rect x="1158" y="204.2" width="1.4" height="7.4" rx="0" fill="#949494" />
<rect x="1149.7" y="209.4" width="4.8" height="8.4" rx="1.6" fill="#c8c8c8" />
<rect x="1153.1" y="210.4" width="1.4" height="7.4" rx="0" fill="#949494" />
<rect x="1144.8" y="215.6" width="4.8" height="8.4" rx="1.6" fill="#c8c8c8" />
<rect x="1148.2" y="216.6" width="1.4" height="7.4" rx="0" fill="#949494" />
<rect x="1139.9" y="221.8" width="4.8" height="8.4" rx="1.6" fill="#c8c8c8" />
<rect x="1143.3" y="222.8" width="1.4" height="7.4" rx="0" fill="#949494" />
<rect x="1135" y="228" width="4.8" height="8.4" rx="1.6" fill="#c8c8c8" />
<rect x="1138.4" y="229" width="1.4" height="7.4" rx="0" fill="#949494" />
<rect x="1233.1" y="119.5" width="4.8" height="8.4" rx="1.6" fill="#c8c8c8" />
<rect x="1236.5" y="120.5" width="1.4" height="7.4" rx="0" fill="#949494" />
<rect x="1228.2" y="125.7" width="4.8" height="8.4" rx="1.6" fill="#c8c8c8" />
<rect x="1231.6" y="126.7" width="1.4" height="7.4" rx="0" fill="#949494" />
<rect x="1223.3" y="131.9" width="4.8" height="8.4" rx="1.6" fill="#c8c8c8" />
<rect x="1226.7" y="132.9" width="1.4" height="7.4" rx="0" fill="#949494" />
<rect x="1218.4" y="138.1" width="4.8" height="8.4" rx="1.6" fill="#c8c8c8" />
<rect x="1221.8" y="139.1" width="1.4" height="7.4" rx="0" fill="#949494" />
<rect x="1213.5" y="144.3" width="4.8" height="8.4" rx="1.6" fill="#c8c8c8" />
<rect x="1216.9" y="145.3" width="1.4" height="7.4" rx="0" fill="#949494" />
<rect x="1208.6" y="150.5" width="4.8" height="8.4" rx="1.6" fill="#c8c8c8" />
<rect x="1212" y="151.5" width="1.4" height="7.4" rx="0" fill="#949494" />
<rect x="1203.7" y="156.7" width="4.8" height="8.4" rx="1.6" fill="#c8c8c8" />
<rect x="1207.1" y="157.7" width="1.4" height="7.4" rx="0" fill="#949494" />
<rect x="1198.8" y="162.9" width="4.8" height="8.4" rx="1.6" fill="#c8c8c8" />
<rect x="1202.2" y="163.9" width="1.4" height="7.4" rx="0" fill="#949494" />
<rect x="1193.9" y="169.1" width="4.8" height="8.4" rx="1.6" fill="#c8c8c8" />
<rect x="1197.3" y="170.1" width="1.4" height="7.4" rx="0" fill="#949494" />
<rect x="1189" y="175.3" width="4.8" height="8.4" rx="1.6" fill="#c8c8c8" />
<rect x="1192.4" y="176.3" width="1.4" height="7.4" rx="0" fill="#949494" />
<rect x="1184.1" y="181.5" width="4.8" height="8.4" rx="1.6" fill="#c8c8c8" />
<rect x="1187.5" y="182.5" width="1.4" height="7.4" rx="0" fill="#949494" />
<rect x="1179.2" y="187.7" width="4.8" height="8.4" rx="1.6" fill="#c8c8c8" />
<rect x="1182.6" y="188.7" width="1.4" height="7.4" rx="0" fill="#949494" />
<rect x="1174.3" y="193.9" width="4.8" height="8.4" rx="1.6" fill="#c8c8c8" />
<rect x="1177.7" y="194.9" width="1.4" height="7.4" rx="0" fill="#949494" />
<rect x="1169.4" y="200.1" width="4.8" height="8.4" rx="1.6" fill="#c8c8c8" />
<rect x="1172.8" y="201.1" width="1.4" height="7.4" rx="0" fill="#949494" />
<rect x="1164.5" y="206.3" width="4.8" height="8.4" rx="1.6" fill="#c8c8c8" />
<rect x="1167.9" y="207.3" width="1.4" height="7.4" rx="0" fill="#949494" />
<rect x="1159.6" y="212.5" width="4.8" height="8.4" rx="1.6" fill="#c8c8c8" />
<rect x="1163" y="213.5" width="1.4" height="7.4" rx="0" fill="#949494" />
<rect x="1154.7" y="218.7" width="4.8" height="8.4" rx="1.6" fill="#c8c8c8" />
<rect x="1158.1" y="219.7" width="1.4" height="7.4" rx="0" fill="#949494" />
<rect x="1149.8" y="224.9" width="4.8" height="8.4" rx="1.6" fill="#c8c8c8" />
<rect x="1153.2" y="225.9" width="1.4" height="7.4" rx="0" fill="#949494" />
<rect x="1144.9" y="231.1" width="4.8" height="8.4" rx="1.6" fill="#c8c8c8" />
<rect x="1148.3" y="232.1" width="1.4" height="7.4" rx="0" fill="#949494" />
<rect x="1247.9" y="116.4" width="4.8" height="8.4" rx="1.6" fill="#c8c8c8" />
<rect x="1251.3" y="117.4" width="1.4" height="7.4" rx="0" fill="#949494" />
<rect x="1243" y="122.6" width="4.8" height="8.4" rx="1.6" fill="#c8c8c8" />
<rect x="1246.4" y="123.6" width="1.4" height="7.4" rx="0" fill="#949494" />
<rect x="1238.1" y="128.8" width="4.8" height="8.4" rx="1.6" fill="#c8c8c8" />
<rect x="1241.5" y="129.8" width="1.4" height="7.4" rx="0" fill="#949494" />
<rect x="1233.2" y="135" width="4.8" height="8.4" rx="1.6" fill="#c8c8c8" />
<rect x="1236.6" y="136" width="1.4" height="7.4" rx="0" fill="#949494" />
<rect x="1228.3" y="141.2" width="4.8" height="8.4" rx="1.6" fill="#c8c8c8" />
<rect x="1231.7" y="142.2" width="1.4" height="7.4" rx="0" fill="#949494" />
<rect x="1223.4" y="147.4" width="4.8" height="8.4" rx="1.6" fill="#c8c8c8" />
<rect x="1226.8" y="148.4" width="1.4" height="7.4" rx="0" fill="#949494" />
<rect x="1218.5" y="153.6" width="4.8" height="8.4" rx="1.6" fill="#c8c8c8" />
<rect x="1221.9" y="154.6" width="1.4" height="7.4" rx="0" fill="#949494" />
<rect x="1213.6" y="159.8" width="4.8" height="8.4" rx="1.6" fill="#c8c8c8" />
<rect x="1217" y="160.8" width="1.4" height="7.4" rx="0" fill="#949494" />
<rect x="1208.7" y="166" width="4.8" height="8.4" rx="1.6" fill="#c8c8c8" />
<rect x="1212.1" y="167" width="1.4" height="7.4" rx="0" fill="#949494" />
<rect x="1203.8" y="172.2" width="4.8" height="8.4" rx="1.6" fill="#c8c8c8" />
<rect x="1207.2" y="173.2" width="1.4" height="7.4" rx="0" fill="#949494" />
<rect x="1198.9" y="178.4" width="4.8" height="8.4" rx="1.6" fill="#c8c8c8" />
<rect x="1202.3" y="179.4" width="1.4" height="7.4" rx="0" fill="#949494" />
<rect x="1194" y="184.6" width="4.8" height="8.4" rx="1.6" fill="#c8c8c8" />
<rect x="1197.4" y="185.6" width="1.4" height="7.4" rx="0" fill="#949494" />
<rect x="1189.1" y="190.8" width="4.8" height="8.4" rx="1.6" fill="#c8c8c8" />
<rect x="1192.5" y="191.8" width="1.4" height="7.4" rx="0" fill="#949494" />
<rect x="1184.2" y="197" width="4.8" height="8.4" rx="1.6" fill="#c8c8c8" />
<rect x="1187.6" y="198" width="1.4" height="7.4" rx="0" fill="#949494" />
<rect x="1179.3" y="203.2" width="4.8" height="8.4" rx="1.6" fill="#c8c8c8" />
<rect x="1182.7" y="204.2" width="1.4" height="7.4" rx="0" fill="#949494" />
<rect x="1174.4" y="209.4" width="4.8" height="8.4" rx="1.6" fill="#c8c8c8" />
<rect x="1177.8" y="210.4" width="1.4" height="7.4" rx="0" fill="#949494" />
<rect x="1169.5" y="215.6" width="4.8" height="8.4" rx="1.6" fill="#c8c8c8" />
<rect x="1172.9" y="216.6" width="1.4" height="7.4" rx="0" fill="#949494" />
<rect x="1164.6" y="221.8" width="4.8" height="8.4" rx="1.6" fill="#c8c8c8" />
<rect x="1168" y="222.8" width="1.4" height="7.4" rx="0" fill="#949494" />
<rect x="1159.7" y="228" width="4.8" height="8.4" rx="1.6" fill="#c8c8c8" />
<rect x="1163.1" y="229" width="1.4" height="7.4" rx="0" fill="#949494" />
<rect x="1154.8" y="234.2" width="4.8" height="8.4" rx="1.6" fill="#c8c8c8" />
<rect x="1158.2" y="235.2" width="1.4" height="7.4" rx="0" fill="#949494" />
<rect x="1257.8" y="119.5" width="4.8" height="8.4" rx="1.6" fill="#c8c8c8" />
<rect x="1261.2" y="120.5" width="1.4" height="7.4" rx="0" fill="#949494" />
<rect x="1252.9" y="125.7" width="4.8" height="8.4" rx="1.6" fill="#c8c8c8" />
<rect x="1256.3" y="126.7" width="1.4" height="7.4" rx="0" fill="#949494" />
<rect x="1248" y="131.9" width="4.8" height="8.4" rx="1.6" fill="#c8c8c8" />
<rect x="1251.4" y="132.9" width="1.4" height="7.4" rx="0" fill="#949494" />
<rect x="1243.1" y="138.1" width="4.8" height="8.4" rx="1.6" fill="#c8c8c8" />
<rect x="1246.5" y="139.1" width="1.4" height="7.4" rx="0" fill="#949494" />
<rect x="1238.2" y="144.3" width="4.8" height="8.4" rx="1.6" fill="#c8c8c8" />
<rect x="1241.6" y="145.3" width="1.4" height="7.4" rx="0" fill="#949494" />
<rect x="1233.3" y="150.5" width="4.8" height="8.4" rx="1.6" fill="#c8c8c8" />
<rect x="1236.7" y="151.5" width="1.4" height="7.4" rx="0" fill="#949494" />
<rect x="1228.4" y="156.7" width="4.8" height="8.4" rx="1.6" fill="#c8c8c8" />
<rect x="1231.8" y="157.7" width="1.4" height="7.4" rx="0" fill="#949494" />
<rect x="1223.5" y="162.9" width="4.8" height="8.4" rx="1.6" fill="#c8c8c8" />
<rect x="1226.9" y="163.9" width="1.4" height="7.4" rx="0" fill="#949494" />
<rect x="1218.6" y="169.1" width="4.8" height="8.4" rx="1.6" fill="#c8c8c8" />
<rect x="1222" y="170.1" width="1.4" height="7.4" rx="0" fill="#949494" />
<rect x="1213.7" y="175.3" width="4.8" height="8.4" rx="1.6" fill="#c8c8c8" />
<rect x="1217.1" y="176.3" width="1.4" height="7.4" rx="0" fill="#949494" />
<rect x="1208.8" y="181.5" width="4.8" height="8.4" rx="1.6" fill="#c8c8c8" />
<rect x="1212.2" y="182.5" width="1.4" height="7.4" rx="0" fill="#949494" />
<rect x="1203.9" y="187.7" width="4.8" height="8.4" rx="1.6" fill="#c8c8c8" />
<rect x="1207.3" y="188.7" width="1.4" height="7.4" rx="0" fill="#949494" />
<rect x="1199" y="193.9" width="4.8" height="8.4" rx="1.6" fill="#c8c8c8" />
<rect x="1202.4" y="194.9" width="1.4" height="7.4" rx="0" fill="#949494" />
<rect x="1194.1" y="200.1" width="4.8" height="8.4" rx="1.6" fill="#c8c8c8" />
<rect x="1197.5" y="201.1" width="1.4" height="7.4" rx="0" fill="#949494" />
<rect x="1189.2" y="206.3" width="4.8" height="8.4" rx="1.6" fill="#c8c8c8" />
<rect x="1192.6" y="207.3" width="1.4" height="7.4" rx="0" fill="#949494" />
<rect x="1184.3" y="212.5" width="4.8" height="8.4" rx="1.6" fill="#c8c8c8" />
<rect x="1187.7" y="213.5" width="1.4" height="7.4" rx="0" fill="#949494" />
<rect x="1179.4" y="218.7" width="4.8" height="8.4" rx="1.6" fill="#c8c8c8" />
<rect x="1182.8" y="219.7" width="1.4" height="7.4" rx="0" fill="#949494" />
<rect x="1174.5" y="224.9" width="4.8" height="8.4" rx="1.6" fill="#c8c8c8" />
<rect x="1177.9" y="225.9" width="1.4" height="7.4" rx="0" fill="#949494" />
<rect x="1169.6" y="231.1" width="4.8" height="8.4" rx="1.6" fill="#c8c8c8" />
<rect x="1173" y="232.1" width="1.4" height="7.4" rx="0" fill="#949494" />
<rect x="1164.7" y="237.3" width="4.8" height="8.4" rx="1.6" fill="#c8c8c8" />
<rect x="1168.1" y="238.3" width="1.4" height="7.4" rx="0" fill="#949494" />
<rect x="1272.6" y="116.4" width="4.8" height="8.4" rx="1.6" fill="#c8c8c8" />
<rect x="1276" y="117.4" width="1.4" height="7.4" rx="0" fill="#949494" />
<rect x="1267.7" y="122.6" width="4.8" height="8.4" rx="1.6" fill="#c8c8c8" />
<rect x="1271.1" y="123.6" width="1.4" height="7.4" rx="0" fill="#949494" />
<rect x="1262.8" y="128.8" width="4.8" height="8.4" rx="1.6" fill="#c8c8c8" />
<rect x="1266.2" y="129.8" width="1.4" height="7.4" rx="0" fill="#949494" />
<rect x="1257.9" y="135" width="4.8" height="8.4" rx="1.6" fill="#c8c8c8" />
<rect x="1261.3" y="136" width="1.4" height="7.4" rx="0" fill="#949494" />
<rect x="1253" y="141.2" width="4.8" height="8.4" rx="1.6" fill="#c8c8c8" />
<rect x="1256.4" y="142.2" width="1.4" height="7.4" rx="0" fill="#949494" />
<rect x="1248.1" y="147.4" width="4.8" height="8.4" rx="1.6" fill="#c8c8c8" />
<rect x="1251.5" y="148.4" width="1.4" height="7.4" rx="0" fill="#949494" />
<rect x="1243.2" y="153.6" width="4.8" height="8.4" rx="1.6" fill="#c8c8c8" />
<rect x="1246.6" y="154.6" width="1.4" height="7.4" rx="0" fill="#949494" />
<rect x="1238.3" y="159.8" width="4.8" height="8.4" rx="1.6" fill="#c8c8c8" />
<rect x="1241.7" y="160.8" width="1.4" height="7.4" rx="0" fill="#949494" />
<rect x="1233.4" y="166" width="4.8" height="8.4" rx="1.6" fill="#c8c8c8" />
<rect x="1236.8" y="167" width="1.4" height="7.4" rx="0" fill="#949494" />
<rect x="1228.5" y="172.2" width="4.8" height="8.4" rx="1.6" fill="#c8c8c8" />
<rect x="1231.9" y="173.2" width="1.4" height="7.4" rx="0" fill="#949494" />
<rect x="1223.6" y="178.4" width="4.8" height="8.4" rx="1.6" fill="#c8c8c8" />
<rect x="1227" y="179.4" width="1.4" height="7.4" rx="0" fill="#949494" />
<rect x="1218.7" y="184.6" width="4.8" height="8.4" rx="1.6" fill="#c8c8c8" />
<rect x="1222.1" y="185.6" width="1.4" height="7.4" rx="0" fill="#949494" />
<rect x="1213.8" y="190.8" width="4.8" height="8.4" rx="1.6" fill="#c8c8c8" />
<rect x="1217.2" y="191.8" width="1.4" height="7.4" rx="0" fill="#949494" />
<rect x="1208.9" y="197" width="4.8" height="8.4" rx="1.6" fill="#c8c8c8" />
<rect x="1212.3" y="198" width="1.4" height="7.4" rx="0" fill="#949494" />
<rect x="1204" y="203.2" width="4.8" height="8.4" rx="1.6" fill="#c8c8c8" />
<rect x="1207.4" y="204.2" width="1.4" height="7.4" rx="0" fill="#949494" />
<rect x="1199.1" y="209.4" width="4.8" height="8.4" rx="1.6" fill="#c8c8c8" />
<rect x="1202.5" y="210.4" width="1.4" height="7.4" rx="0" fill="#949494" />
<rect x="1194.2" y="215.6" width="4.8" height="8.4" rx="1.6" fill="#c8c8c8" />
<rect x="1197.6" y="216.6" width="1.4" height="7.4" rx="0" fill="#949494" />
<rect x="1189.3" y="221.8" width="4.8" height="8.4" rx="1.6" fill="#c8c8c8" />
<rect x="1192.7" y="222.8" width="1.4" height="7.4" rx="0" fill="#949494" />
<rect x="1184.4" y="228" width="4.8" height="8.4" rx="1.6" fill="#c8c8c8" />
<rect x="1187.8" y="229" width="1.4" height="7.4" rx="0" fill="#949494" />
<rect x="1179.5" y="234.2" width="4.8" height="8.4" rx="1.6" fill="#c8c8c8" />
<rect x="1182.9" y="235.2" width="1.4" height="7.4" rx="0" fill="#949494" />
<rect x="1174.6" y="240.4" width="4.8" height="8.4" rx="1.6" fill="#c8c8c8" />
<rect x="1178" y="241.4" width="1.4" height="7.4" rx="0" fill="#949494" />
<rect x="1282.5" y="119.5" width="4.8" height="8.4" rx="1.6" fill="#c8c8c8" />
<rect x="1285.9" y="120.5" width="1.4" height="7.4" rx="0" fill="#949494" />
<rect x="1277.6" y="125.7" width="4.8" height="8.4" rx="1.6" fill="#c8c8c8" />
<rect x="1281" y="126.7" width="1.4" height="7.4" rx="0" fill="#949494" />
<rect x="1272.7" y="131.9" width="4.8" height="8.4" rx="1.6" fill="#c8c8c8" />
<rect x="1276.1" y="132.9" width="1.4" height="7.4" rx="0" fill="#949494" />
<rect x="1267.8" y="138.1" width="4.8" height="8.4" rx="1.6" fill="#c8c8c8" />
<rect x="1271.2" y="139.1" width="1.4" height="7.4" rx="0" fill="#949494" />
<rect x="1262.9" y="144.3" width="4.8" height="8.4" rx="1.6" fill="#c8c8c8" />
<rect x="1266.3" y="145.3" width="1.4" height="7.4" rx="0" fill="#949494" />
<rect x="1258" y="150.5" width="4.8" height="8.4" rx="1.6" fill="#c8c8c8" />
<rect x="1261.4" y="151.5" width="1.4" height="7.4" rx="0" fill="#949494" />
<rect x="1253.1" y="156.7" width="4.8" height="8.4" rx="1.6" fill="#c8c8c8" />
<rect x="1256.5" y="157.7" width="1.4" height="7.4" rx="0" fill="#949494" />
<rect x="1248.2" y="162.9" width="4.8" height="8.4" rx="1.6" fill="#c8c8c8" />
<rect x="1251.6" y="163.9" width="1.4" height="7.4" rx="0" fill="#949494" />
<rect x="1243.3" y="169.1" width="4.8" height="8.4" rx="1.6" fill="#c8c8c8" />
<rect x="1246.7" y="170.1" width="1.4" height="7.4" rx="0" fill="#949494" />
<rect x="1238.4" y="175.3" width="4.8" height="8.4" rx="1.6" fill="#c8c8c8" />
<rect x="1241.8" y="176.3" width="1.4" height="7.4" rx="0" fill="#949494" />
<rect x="1233.5" y="181.5" width="4.8" height="8.4" rx="1.6" fill="#c8c8c8" />
<rect x="1236.9" y="182.5" width="1.4" height="7.4" rx="0" fill="#949494" />
<rect x="1228.6" y="187.7" width="4.8" height="8.4" rx="1.6" fill="#c8c8c8" />
<rect x="1232" y="188.7" width="1.4" height="7.4" rx="0" fill="#949494" />
<rect x="1223.7" y="193.9" width="4.8" height="8.4" rx="1.6" fill="#c8c8c8" />
<rect x="1227.1" y="194.9" width="1.4" height="7.4" rx="0" fill="#949494" />
<rect x="1218.8" y="200.1" width="4.8" height="8.4" rx="1.6" fill="#c8c8c8" />
<rect x="1222.2" y="201.1" width="1.4" height="7.4" rx="0" fill="#949494" />
<rect x="1213.9" y="206.3" width="4.8" height="8.4" rx="1.6" fill="#c8c8c8" />
<rect x="1217.3" y="207.3" width="1.4" height="7.4" rx="0" fill="#949494" />
<rect x="1209" y="212.5" width="4.8" height="8.4" rx="1.6" fill="#c8c8c8" />
<rect x="1212.4" y="213.5" width="1.4" height="7.4" rx="0" fill="#949494" />
<rect x="1204.1" y="218.7" width="4.8" height="8.4" rx="1.6" fill="#c8c8c8" />
<rect x="1207.5" y="219.7" width="1.4" height="7.4" rx="0" fill="#949494" />
<rect x="1199.2" y="224.9" width="4.8" height="8.4" rx="1.6" fill="#c8c8c8" />
<rect x="1202.6" y="225.9" width="1.4" height="7.4" rx="0" fill="#949494" />
<rect x="1194.3" y="231.1" width="4.8" height="8.4" rx="1.6" fill="#c8c8c8" />
<rect x="1197.7" y="232.1" width="1.4" height="7.4" rx="0" fill="#949494" />
<rect x="1189.4" y="237.3" width="4.8" height="8.4" rx="1.6" fill="#c8c8c8" />
<rect x="1192.8" y="238.3" width="1.4" height="7.4" rx="0" fill="#949494" />
<rect x="1184.5" y="243.5" width="4.8" height="8.4" rx="1.6" fill="#c8c8c8" />
<rect x="1187.9" y="244.5" width="1.4" height="7.4" rx="0" fill="#949494" />
<rect x="1292.4" y="122.6" width="4.8" height="8.4" rx="1.6" fill="#c8c8c8" />
<rect x="1295.8" y="123.6" width="1.4" height="7.4" rx="0" fill="#949494" />
<rect x="1287.5" y="128.8" width="4.8" height="8.4" rx="1.6" fill="#c8c8c8" />
<rect x="1290.9" y="129.8" width="1.4" height="7.4" rx="0" fill="#949494" />
<rect x="1282.6" y="135" width="4.8" height="8.4" rx="1.6" fill="#c8c8c8" />
<rect x="1286" y="136" width="1.4" height="7.4" rx="0" fill="#949494" />
<rect x="1277.7" y="141.2" width="4.8" height="8.4" rx="1.6" fill="#c8c8c8" />
<rect x="1281.1" y="142.2" width="1.4" height="7.4" rx="0" fill="#949494" />
<rect x="1272.8" y="147.4" width="4.8" height="8.4" rx="1.6" fill="#c8c8c8" />
<rect x="1276.2" y="148.4" width="1.4" height="7.4" rx="0" fill="#949494" />
<rect x="1267.9" y="153.6" width="4.8" height="8.4" rx="1.6" fill="#c8c8c8" />
<rect x="1271.3" y="154.6" width="1.4" height="7.4" rx="0" fill="#949494" />
<rect x="1263" y="159.8" width="4.8" height="8.4" rx="1.6" fill="#c8c8c8" />
<rect x="1266.4" y="160.8" width="1.4" height="7.4" rx="0" fill="#949494" />
<rect x="1258.1" y="166" width="4.8" height="8.4" rx="1.6" fill="#c8c8c8" />
<rect x="1261.5" y="167" width="1.4" height="7.4" rx="0" fill="#949494" />
<rect x="1253.2" y="172.2" width="4.8" height="8.4" rx="1.6" fill="#c8c8c8" />
<rect x="1256.6" y="173.2" width="1.4" height="7.4" rx="0" fill="#949494" />
<rect x="1248.3" y="178.4" width="4.8" height="8.4" rx="1.6" fill="#c8c8c8" />
<rect x="1251.7" y="179.4" width="1.4" height="7.4" rx="0" fill="#949494" />
<rect x="1243.4" y="184.6" width="4.8" height="8.4" rx="1.6" fill="#c8c8c8" />
<rect x="1246.8" y="185.6" width="1.4" height="7.4" rx="0" fill="#949494" />
<rect x="1238.5" y="190.8" width="4.8" height="8.4" rx="1.6" fill="#c8c8c8" />
<rect x="1241.9" y="191.8" width="1.4" height="7.4" rx="0" fill="#949494" />
<rect x="1233.6" y="197" width="4.8" height="8.4" rx="1.6" fill="#c8c8c8" />
<rect x="1237" y="198" width="1.4" height="7.4" rx="0" fill="#949494" />
<rect x="1228.7" y="203.2" width="4.8" height="8.4" rx="1.6" fill="#c8c8c8" />
<rect x="1232.1" y="204.2" width="1.4" height="7.4" rx="0" fill="#949494" />
<rect x="1223.8" y="209.4" width="4.8" height="8.4" rx="1.6" fill="#c8c8c8" />
<rect x="1227.2" y="210.4" width="1.4" height="7.4" rx="0" fill="#949494" />
<rect x="1218.9" y="215.6" width="4.8" height="8.4" rx="1.6" fill="#c8c8c8" />
<rect x="1222.3" y="216.6" width="1.4" height="7.4" rx="0" fill="#949494" />
<rect x="1214" y="221.8" width="4.8" height="8.4" rx="1.6" fill="#c8c8c8" />
<rect x="1217.4" y="222.8" width="1.4" height="7.4" rx="0" fill="#949494" />
<rect x="1209.1" y="228" width="4.8" height="8.4" rx="1.6" fill="#c8c8c8" />
<rect x="1212.5" y="229" width="1.4" height="7.4" rx="0" fill="#949494" />
<rect x="1204.2" y="234.2" width="4.8" height="8.4" rx="1.6" fill="#c8c8c8" />
<rect x="1207.6" y="235.2" width="1.4" height="7.4" rx="0" fill="#949494" />
<rect x="1199.3" y="240.4" width="4.8" height="8.4" rx="1.6" fill="#c8c8c8" />
<rect x="1202.7" y="241.4" width="1.4" height="7.4" rx="0" fill="#949494" />
<rect x="1194.4" y="246.6" width="4.8" height="8.4" rx="1.6" fill="#c8c8c8" />
<rect x="1197.8" y="247.6" width="1.4" height="7.4" rx="0" fill="#949494" />
<rect x="1292.5" y="138.1" width="4.8" height="8.4" rx="1.6" fill="#c8c8c8" />
<rect x="1295.9" y="139.1" width="1.4" height="7.4" rx="0" fill="#949494" />
<rect x="1287.6" y="144.3" width="4.8" height="8.4" rx="1.6" fill="#c8c8c8" />
<rect x="1291" y="145.3" width="1.4" height="7.4" rx="0" fill="#949494" />
<rect x="1282.7" y="150.5" width="4.8" height="8.4" rx="1.6" fill="#c8c8c8" />
<rect x="1286.1" y="151.5" width="1.4" height="7.4" rx="0" fill="#949494" />
<rect x="1277.8" y="156.7" width="4.8" height="8.4" rx="1.6" fill="#c8c8c8" />
<rect x="1281.2" y="157.7" width="1.4" height="7.4" rx="0" fill="#949494" />
<rect x="1272.9" y="162.9" width="4.8" height="8.4" rx="1.6" fill="#c8c8c8" />
<rect x="1276.3" y="163.9" width="1.4" height="7.4" rx="0" fill="#949494" />
<rect x="1268" y="169.1" width="4.8" height="8.4" rx="1.6" fill="#c8c8c8" />
<rect x="1271.4" y="170.1" width="1.4" height="7.4" rx="0" fill="#949494" />
<rect x="1263.1" y="175.3" width="4.8" height="8.4" rx="1.6" fill="#c8c8c8" />
<rect x="1266.5" y="176.3" width="1.4" height="7.4" rx="0" fill="#949494" />
<rect x="1258.2" y="181.5" width="4.8" height="8.4" rx="1.6" fill="#c8c8c8" />
<rect x="1261.6" y="182.5" width="1.4" height="7.4" rx="0" fill="#949494" />
<rect x="1253.3" y="187.7" width="4.8" height="8.4" rx="1.6" fill="#c8c8c8" />
<rect x="1256.7" y="188.7" width="1.4" height="7.4" rx="0" fill="#949494" />
<rect x="1248.4" y="193.9" width="4.8" height="8.4" rx="1.6" fill="#c8c8c8" />
<rect x="1251.8" y="194.9" width="1.4" height="7.4" rx="0" fill="#949494" />
<rect x="1243.5" y="200.1" width="4.8" height="8.4" rx="1.6" fill="#c8c8c8" />
<rect x="1246.9" y="201.1" width="1.4" height="7.4" rx="0" fill="#949494" />
<rect x="1238.6" y="206.3" width="4.8" height="8.4" rx="1.6" fill="#c8c8c8" />
<rect x="1242" y="207.3" width="1.4" height="7.4" rx="0" fill="#949494" />
<rect x="1233.7" y="212.5" width="4.8" height="8.4" rx="1.6" fill="#c8c8c8" />
<rect x="1237.1" y="213.5" width="1.4" height="7.4" rx="0" fill="#949494" />
<rect x="1228.8" y="218.7" width="4.8" height="8.4" rx="1.6" fill="#c8c8c8" />
<rect x="1232.2" y="219.7" width="1.4" height="7.4" rx="0" fill="#949494" />
<rect x="1223.9" y="224.9" width="4.8" height="8.4" rx="1.6" fill="#c8c8c8" />
<rect x="1227.3" y="225.9" width="1.4" height="7.4" rx="0" fill="#949494" />
<rect x="1219" y="231.1" width="4.8" height="8.4" rx="1.6" fill="#c8c8c8" />
<rect x="1222.4" y="232.1" width="1.4" height="7.4" rx="0" fill="#949494" />
<rect x="1214.1" y="237.3" width="4.8" height="8.4" rx="1.6" fill="#c8c8c8" />
<rect x="1217.5" y="238.3" width="1.4" height="7.4" rx="0" fill="#949494" />
<rect x="1209.2" y="243.5" width="4.8" height="8.4" rx="1.6" fill="#c8c8c8" />
<rect x="1212.6" y="244.5" width="1.4" height="7.4" rx="0" fill="#949494" />
<rect x="1204.3" y="249.7" width="4.8" height="8.4" rx="1.6" fill="#c8c8c8" />
<rect x="1207.7" y="250.7" width="1.4" height="7.4" rx="0" fill="#949494" />
<rect x="1292.6" y="153.6" width="4.8" height="8.4" rx="1.6" fill="#c8c8c8" />
<rect x="1296" y="154.6" width="1.4" height="7.4" rx="0" fill="#949494" />
<rect x="1287.7" y="159.8" width="4.8" height="8.4" rx="1.6" fill="#c8c8c8" />
<rect x="1291.1" y="160.8" width="1.4" height="7.4" rx="0" fill="#949494" />
<rect x="1282.8" y="166" width="4.8" height="8.4" rx="1.6" fill="#c8c8c8" />
<rect x="1286.2" y="167" width="1.4" height="7.4" rx="0" fill="#949494" />
<rect x="1277.9" y="172.2" width="4.8" height="8.4" rx="1.6" fill="#c8c8c8" />
<rect x="1281.3" y="173.2" width="1.4" height="7.4" rx="0" fill="#949494" />
<rect x="1273" y="178.4" width="4.8" height="8.4" rx="1.6" fill="#c8c8c8" />
<rect x="1276.4" y="179.4" width="1.4" height="7.4" rx="0" fill="#949494" />
<rect x="1268.1" y="184.6" width="4.8" height="8.4" rx="1.6" fill="#c8c8c8" />
<rect x="1271.5" y="185.6" width="1.4" height="7.4" rx="0" fill="#949494" />
<rect x="1263.2" y="190.8" width="4.8" height="8.4" rx="1.6" fill="#c8c8c8" />
<rect x="1266.6" y="191.8" width="1.4" height="7.4" rx="0" fill="#949494" />
<rect x="1258.3" y="197" width="4.8" height="8.4" rx="1.6" fill="#c8c8c8" />
<rect x="1261.7" y="198" width="1.4" height="7.4" rx="0" fill="#949494" />
<rect x="1253.4" y="203.2" width="4.8" height="8.4" rx="1.6" fill="#c8c8c8" />
<rect x="1256.8" y="204.2" width="1.4" height="7.4" rx="0" fill="#949494" />
<rect x="1248.5" y="209.4" width="4.8" height="8.4" rx="1.6" fill="#c8c8c8" />
<rect x="1251.9" y="210.4" width="1.4" height="7.4" rx="0" fill="#949494" />
<rect x="1243.6" y="215.6" width="4.8" height="8.4" rx="1.6" fill="#c8c8c8" />
<rect x="1247" y="216.6" width="1.4" height="7.4" rx="0" fill="#949494" />
<rect x="1238.7" y="221.8" width="4.8" height="8.4" rx="1.6" fill="#c8c8c8" />
<rect x="1242.1" y="222.8" width="1.4" height="7.4" rx="0" fill="#949494" />
<rect x="1233.8" y="228" width="4.8" height="8.4" rx="1.6" fill="#c8c8c8" />
<rect x="1237.2" y="229" width="1.4" height="7.4" rx="0" fill="#949494" />
<rect x="1228.9" y="234.2" width="4.8" height="8.4" rx="1.6" fill="#c8c8c8" />
<rect x="1232.3" y="235.2" width="1.4" height="7.4" rx="0" fill="#949494" />
<rect x="1224" y="240.4" width="4.8" height="8.4" rx="1.6" fill="#c8c8c8" />
<rect x="1227.4" y="241.4" width="1.4" height="7.4" rx="0" fill="#949494" />
<rect x="1219.1" y="246.6" width="4.8" height="8.4" rx="1.6" fill="#c8c8c8" />
<rect x="1222.5" y="247.6" width="1.4" height="7.4" rx="0" fill="#949494" />
<rect x="1214.2" y="252.8" width="4.8" height="8.4" rx="1.6" fill="#c8c8c8" />
<rect x="1217.6" y="253.8" width="1.4" height="7.4" rx="0" fill="#949494" />
<rect x="1292.7" y="169.1" width="4.8" height="8.4" rx="1.6" fill="#c8c8c8" />
<rect x="1296.1" y="170.1" width="1.4" height="7.4" rx="0" fill="#949494" />
<rect x="1287.8" y="175.3" width="4.8" height="8.4" rx="1.6" fill="#c8c8c8" />
<rect x="1291.2" y="176.3" width="1.4" height="7.4" rx="0" fill="#949494" />
<rect x="1282.9" y="181.5" width="4.8" height="8.4" rx="1.6" fill="#c8c8c8" />
<rect x="1286.3" y="182.5" width="1.4" height="7.4" rx="0" fill="#949494" />
<rect x="1278" y="187.7" width="4.8" height="8.4" rx="1.6" fill="#c8c8c8" />
<rect x="1281.4" y="188.7" width="1.4" height="7.4" rx="0" fill="#949494" />
<rect x="1273.1" y="193.9" width="4.8" height="8.4" rx="1.6" fill="#c8c8c8" />
<rect x="1276.5" y="194.9" width="1.4" height="7.4" rx="0" fill="#949494" />
<rect x="1268.2" y="200.1" width="4.8" height="8.4" rx="1.6" fill="#c8c8c8" />
<rect x="1271.6" y="201.1" width="1.4" height="7.4" rx="0" fill="#949494" />
<rect x="1263.3" y="206.3" width="4.8" height="8.4" rx="1.6" fill="#c8c8c8" />
<rect x="1266.7" y="207.3" width="1.4" height="7.4" rx="0" fill="#949494" />
<rect x="1258.4" y="212.5" width="4.8" height="8.4" rx="1.6" fill="#c8c8c8" />
<rect x="1261.8" y="213.5" width="1.4" height="7.4" rx="0" fill="#949494" />
<rect x="1253.5" y="218.7" width="4.8" height="8.4" rx="1.6" fill="#c8c8c8" />
<rect x="1256.9" y="219.7" width="1.4" height="7.4" rx="0" fill="#949494" />
<rect x="1248.6" y="224.9" width="4.8" height="8.4" rx="1.6" fill="#c8c8c8" />
<rect x="1252" y="225.9" width="1.4" height="7.4" rx="0" fill="#949494" />
<rect x="1243.7" y="231.1" width="4.8" height="8.4" rx="1.6" fill="#c8c8c8" />
<rect x="1247.1" y="232.1" width="1.4" height="7.4" rx="0" fill="#949494" />
<rect x="1238.8" y="237.3" width="4.8" height="8.4" rx="1.6" fill="#c8c8c8" />
<rect x="1242.2" y="238.3" width="1.4" height="7.4" rx="0" fill="#949494" />
<rect x="1233.9" y="243.5" width="4.8" height="8.4" rx="1.6" fill="#c8c8c8" />
<rect x="1237.3" y="244.5" width="1.4" height="7.4" rx="0" fill="#949494" />
<rect x="1229" y="249.7" width="4.8" height="8.4" rx="1.6" fill="#c8c8c8" />
<rect x="1232.4" y="250.7" width="1.4" height="7.4" rx="0" fill="#949494" />
<rect x="1224.1" y="255.9" width="4.8" height="8.4" rx="1.6" fill="#c8c8c8" />
<rect x="1227.5" y="256.9" width="1.4" height="7.4" rx="0" fill="#949494" />
<rect x="1292.8" y="184.6" width="4.8" height="8.4" rx="1.6" fill="#c8c8c8" />
<rect x="1296.2" y="185.6" width="1.4" height="7.4" rx="0" fill="#949494" />
<rect x="1287.9" y="190.8" width="4.8" height="8.4" rx="1.6" fill="#c8c8c8" />
<rect x="1291.3" y="191.8" width="1.4" height="7.4" rx="0" fill="#949494" />
<rect x="1283" y="197" width="4.8" height="8.4" rx="1.6" fill="#c8c8c8" />
<rect x="1286.4" y="198" width="1.4" height="7.4" rx="0" fill="#949494" />
<rect x="1278.1" y="203.2" width="4.8" height="8.4" rx="1.6" fill="#c8c8c8" />
<rect x="1281.5" y="204.2" width="1.4" height="7.4" rx="0" fill="#949494" />
<rect x="1273.2" y="209.4" width="4.8" height="8.4" rx="1.6" fill="#c8c8c8" />
<rect x="1276.6" y="210.4" width="1.4" height="7.4" rx="0" fill="#949494" />
<rect x="1268.3" y="215.6" width="4.8" height="8.4" rx="1.6" fill="#c8c8c8" />
<rect x="1271.7" y="216.6" width="1.4" height="7.4" rx="0" fill="#949494" />
<rect x="1263.4" y="221.8" width="4.8" height="8.4" rx="1.6" fill="#c8c8c8" />
<rect x="1266.8" y="222.8" width="1.4" height="7.4" rx="0" fill="#949494" />
<rect x="1258.5" y="228" width="4.8" height="8.4" rx="1.6" fill="#c8c8c8" />
<rect x="1261.9" y="229" width="1.4" height="7.4" rx="0" fill="#949494" />
<rect x="1253.6" y="234.2" width="4.8" height="8.4" rx="1.6" fill="#c8c8c8" />
<rect x="1257" y="235.2" width="1.4" height="7.4" rx="0" fill="#949494" />
<rect x="1248.7" y="240.4" width="4.8" height="8.4" rx="1.6" fill="#c8c8c8" />
<rect x="1252.1" y="241.4" width="1.4" height="7.4" rx="0" fill="#949494" />
<rect x="1243.8" y="246.6" width="4.8" height="8.4" rx="1.6" fill="#c8c8c8" />
<rect x="1247.2" y="247.6" width="1.4" height="7.4" rx="0" fill="#949494" />
<rect x="1238.9" y="252.8" width="4.8" height="8.4" rx="1.6" fill="#c8c8c8" />
<rect x="1242.3" y="253.8" width="1.4" height="7.4" rx="0" fill="#949494" />
<rect x="1234" y="259" width="4.8" height="8.4" rx="1.6" fill="#c8c8c8" />
<rect x="1237.4" y="260" width="1.4" height="7.4" rx="0" fill="#949494" />
</g>
</g>
<rect x="1093.8" y="125.6" width="198.6" height="139.2" fill="none" stroke="#e07f38" stroke-width="2.5"/>
<rect x="924.6" y="251" width="99.2" height="5.8" rx="0" fill="#ffffff" />
<rect x="1262.4" y="252.8" width="25.2" height="5.2" rx="0" fill="#ffffff" />
<rect x="63.5" y="83.9" width="7" height="7.2" rx="0" fill="#cdaff0" />
<rect x="63.5" y="83.9" width="1.2" height="7.2" rx="0" fill="#9677c2" />
<rect x="63.5" y="98.9" width="7" height="7.2" rx="0" fill="#cdaff0" />
<rect x="63.5" y="98.9" width="1.2" height="7.2" rx="0" fill="#9677c2" />
<rect x="63.5" y="114" width="7" height="7.2" rx="0" fill="#cdaff0" />
<rect x="63.5" y="114" width="1.2" height="7.2" rx="0" fill="#9677c2" />
<rect x="63.5" y="129.1" width="7" height="7.2" rx="0" fill="#cdaff0" />
<rect x="63.5" y="129.1" width="1.2" height="7.2" rx="0" fill="#9677c2" />
<rect x="63.5" y="144.2" width="7" height="7.2" rx="0" fill="#cdaff0" />
<rect x="63.5" y="144.2" width="1.2" height="7.2" rx="0" fill="#9677c2" />
<rect x="63.5" y="159.2" width="7" height="7.2" rx="0" fill="#cdaff0" />
<rect x="63.5" y="159.2" width="1.2" height="7.2" rx="0" fill="#9677c2" />
<rect x="63.5" y="173.8" width="7" height="7.2" rx="0" fill="#cdaff0" />
<rect x="63.5" y="173.8" width="1.2" height="7.2" rx="0" fill="#9677c2" />
<rect x="63.5" y="188.4" width="7" height="7.2" rx="0" fill="#cdaff0" />
<rect x="63.5" y="188.4" width="1.2" height="7.2" rx="0" fill="#9677c2" />
<rect x="78.9" y="83.9" width="7.2" height="7.2" rx="0" fill="#cdaff0" />
<rect x="78.9" y="83.9" width="1.2" height="7.2" rx="0" fill="#9677c2" />
<rect x="78.9" y="98.9" width="7.2" height="7.2" rx="0" fill="#cdaff0" />
<rect x="78.9" y="98.9" width="1.2" height="7.2" rx="0" fill="#9677c2" />
<rect x="78.9" y="114" width="7.2" height="7.2" rx="0" fill="#cdaff0" />
<rect x="78.9" y="114" width="1.2" height="7.2" rx="0" fill="#9677c2" />
<rect x="78.9" y="129.1" width="7.2" height="7.2" rx="0" fill="#cdaff0" />
<rect x="78.9" y="129.1" width="1.2" height="7.2" rx="0" fill="#9677c2" />
<rect x="78.9" y="144.2" width="7.2" height="7.2" rx="0" fill="#cdaff0" />
<rect x="78.9" y="144.2" width="1.2" height="7.2" rx="0" fill="#9677c2" />
<rect x="78.9" y="159.2" width="7.2" height="7.2" rx="0" fill="#cdaff0" />
<rect x="78.9" y="159.2" width="1.2" height="7.2" rx="0" fill="#9677c2" />
<rect x="78.9" y="173.8" width="7.2" height="7.2" rx="0" fill="#cdaff0" />
<rect x="78.9" y="173.8" width="1.2" height="7.2" rx="0" fill="#9677c2" />
<rect x="78.9" y="188.4" width="7.2" height="7.2" rx="0" fill="#cdaff0" />
<rect x="78.9" y="188.4" width="1.2" height="7.2" rx="0" fill="#9677c2" />
<rect x="91.75" y="84.8" width="12.5" height="5.4" rx="0" fill="#cdaff0" />
<rect x="91.75" y="84.8" width="1.2" height="5.4" rx="0" fill="#9677c2" />
<rect x="91.75" y="99.8" width="12.5" height="5.4" rx="0" fill="#cdaff0" />
<rect x="91.75" y="99.8" width="1.2" height="5.4" rx="0" fill="#9677c2" />
<rect x="91.75" y="114.9" width="12.5" height="5.4" rx="0" fill="#cdaff0" />
<rect x="91.75" y="114.9" width="1.2" height="5.4" rx="0" fill="#9677c2" />
<rect x="91.75" y="130" width="12.5" height="5.4" rx="0" fill="#cdaff0" />
<rect x="91.75" y="130" width="1.2" height="5.4" rx="0" fill="#9677c2" />
<rect x="91.75" y="145.1" width="12.5" height="5.4" rx="0" fill="#cdaff0" />
<rect x="91.75" y="145.1" width="1.2" height="5.4" rx="0" fill="#9677c2" />
<rect x="91.75" y="160.1" width="12.5" height="5.4" rx="0" fill="#cdaff0" />
<rect x="91.75" y="160.1" width="1.2" height="5.4" rx="0" fill="#9677c2" />
<rect x="91.75" y="174.7" width="12.5" height="5.4" rx="0" fill="#cdaff0" />
<rect x="91.75" y="174.7" width="1.2" height="5.4" rx="0" fill="#9677c2" />
<rect x="91.75" y="189.3" width="12.5" height="5.4" rx="0" fill="#cdaff0" />
<rect x="91.75" y="189.3" width="1.2" height="5.4" rx="0" fill="#9677c2" />
<rect x="110.8" y="82.9" width="6.4" height="9.2" rx="0" fill="#cdaff0" />
<rect x="110.8" y="82.9" width="1.2" height="9.2" rx="0" fill="#9677c2" />
<rect x="110.8" y="97.9" width="6.4" height="9.2" rx="0" fill="#cdaff0" />
<rect x="110.8" y="97.9" width="1.2" height="9.2" rx="0" fill="#9677c2" />
<rect x="110.8" y="113" width="6.4" height="9.2" rx="0" fill="#cdaff0" />
<rect x="110.8" y="113" width="1.2" height="9.2" rx="0" fill="#9677c2" />
<rect x="110.8" y="128.1" width="6.4" height="9.2" rx="0" fill="#cdaff0" />
<rect x="110.8" y="128.1" width="1.2" height="9.2" rx="0" fill="#9677c2" />
<rect x="110.8" y="143.2" width="6.4" height="9.2" rx="0" fill="#cdaff0" />
<rect x="110.8" y="143.2" width="1.2" height="9.2" rx="0" fill="#9677c2" />
<rect x="110.8" y="158.2" width="6.4" height="9.2" rx="0" fill="#cdaff0" />
<rect x="110.8" y="158.2" width="1.2" height="9.2" rx="0" fill="#9677c2" />
<rect x="110.8" y="172.8" width="6.4" height="9.2" rx="0" fill="#cdaff0" />
<rect x="110.8" y="172.8" width="1.2" height="9.2" rx="0" fill="#9677c2" />
<rect x="110.8" y="187.4" width="6.4" height="9.2" rx="0" fill="#cdaff0" />
<rect x="110.8" y="187.4" width="1.2" height="9.2" rx="0" fill="#9677c2" />
<rect x="127.2" y="80.5" width="5.2" height="14" rx="0" fill="#cdaff0" />
<rect x="127.2" y="80.5" width="1.2" height="14" rx="0" fill="#9677c2" />
<rect x="127.2" y="95.5" width="5.2" height="14" rx="0" fill="#cdaff0" />
<rect x="127.2" y="95.5" width="1.2" height="14" rx="0" fill="#9677c2" />
<rect x="127.2" y="110.6" width="5.2" height="14" rx="0" fill="#cdaff0" />
<rect x="127.2" y="110.6" width="1.2" height="14" rx="0" fill="#9677c2" />
<rect x="127.2" y="125.7" width="5.2" height="14" rx="0" fill="#cdaff0" />
<rect x="127.2" y="125.7" width="1.2" height="14" rx="0" fill="#9677c2" />
<rect x="127.2" y="140.8" width="5.2" height="14" rx="0" fill="#cdaff0" />
<rect x="127.2" y="140.8" width="1.2" height="14" rx="0" fill="#9677c2" />
<rect x="127.2" y="155.8" width="5.2" height="14" rx="0" fill="#cdaff0" />
<rect x="127.2" y="155.8" width="1.2" height="14" rx="0" fill="#9677c2" />
<rect x="127.2" y="170.4" width="5.2" height="14" rx="0" fill="#cdaff0" />
<rect x="127.2" y="170.4" width="1.2" height="14" rx="0" fill="#9677c2" />
<rect x="127.2" y="185" width="5.2" height="14" rx="0" fill="#cdaff0" />
<rect x="127.2" y="185" width="1.2" height="14" rx="0" fill="#9677c2" />
<rect x="142.7" y="84.5" width="6.6" height="6" rx="0" fill="#cdaff0" />
<rect x="142.7" y="84.5" width="1.2" height="6" rx="0" fill="#9677c2" />
<rect x="142.7" y="99.5" width="6.6" height="6" rx="0" fill="#cdaff0" />
<rect x="142.7" y="99.5" width="1.2" height="6" rx="0" fill="#9677c2" />
<rect x="142.7" y="114.6" width="6.6" height="6" rx="0" fill="#cdaff0" />
<rect x="142.7" y="114.6" width="1.2" height="6" rx="0" fill="#9677c2" />
<rect x="142.7" y="129.7" width="6.6" height="6" rx="0" fill="#cdaff0" />
<rect x="142.7" y="129.7" width="1.2" height="6" rx="0" fill="#9677c2" />
<rect x="142.7" y="144.8" width="6.6" height="6" rx="0" fill="#cdaff0" />
<rect x="142.7" y="144.8" width="1.2" height="6" rx="0" fill="#9677c2" />
<rect x="142.7" y="159.8" width="6.6" height="6" rx="0" fill="#cdaff0" />
<rect x="142.7" y="159.8" width="1.2" height="6" rx="0" fill="#9677c2" />
<rect x="142.7" y="174.4" width="6.6" height="6" rx="0" fill="#cdaff0" />
<rect x="142.7" y="174.4" width="1.2" height="6" rx="0" fill="#9677c2" />
<rect x="142.7" y="189" width="6.6" height="6" rx="0" fill="#cdaff0" />
<rect x="142.7" y="189" width="1.2" height="6" rx="0" fill="#9677c2" />
<rect x="158.4" y="83.8" width="6.2" height="7.4" rx="0" fill="#cdaff0" />
<rect x="158.4" y="83.8" width="1.2" height="7.4" rx="0" fill="#9677c2" />
<rect x="158.4" y="98.8" width="6.2" height="7.4" rx="0" fill="#cdaff0" />
<rect x="158.4" y="98.8" width="1.2" height="7.4" rx="0" fill="#9677c2" />
<rect x="158.4" y="113.9" width="6.2" height="7.4" rx="0" fill="#cdaff0" />
<rect x="158.4" y="113.9" width="1.2" height="7.4" rx="0" fill="#9677c2" />
<rect x="158.4" y="129" width="6.2" height="7.4" rx="0" fill="#cdaff0" />
<rect x="158.4" y="129" width="1.2" height="7.4" rx="0" fill="#9677c2" />
<rect x="158.4" y="144.1" width="6.2" height="7.4" rx="0" fill="#cdaff0" />
<rect x="158.4" y="144.1" width="1.2" height="7.4" rx="0" fill="#9677c2" />
<rect x="158.4" y="159.1" width="6.2" height="7.4" rx="0" fill="#cdaff0" />
<rect x="158.4" y="159.1" width="1.2" height="7.4" rx="0" fill="#9677c2" />
<rect x="158.4" y="173.7" width="6.2" height="7.4" rx="0" fill="#cdaff0" />
<rect x="158.4" y="173.7" width="1.2" height="7.4" rx="0" fill="#9677c2" />
<rect x="158.4" y="188.3" width="6.2" height="7.4" rx="0" fill="#cdaff0" />
<rect x="158.4" y="188.3" width="1.2" height="7.4" rx="0" fill="#9677c2" />
<rect x="174.9" y="84" width="5.6" height="7" rx="0" fill="#cdaff0" />
<rect x="174.9" y="84" width="1.2" height="7" rx="0" fill="#9677c2" />
<rect x="174.9" y="99" width="5.6" height="7" rx="0" fill="#cdaff0" />
<rect x="174.9" y="99" width="1.2" height="7" rx="0" fill="#9677c2" />
<rect x="174.9" y="114.1" width="5.6" height="7" rx="0" fill="#cdaff0" />
<rect x="174.9" y="114.1" width="1.2" height="7" rx="0" fill="#9677c2" />
<rect x="174.9" y="129.2" width="5.6" height="7" rx="0" fill="#cdaff0" />
<rect x="174.9" y="129.2" width="1.2" height="7" rx="0" fill="#9677c2" />
<rect x="174.9" y="144.3" width="5.6" height="7" rx="0" fill="#cdaff0" />
<rect x="174.9" y="144.3" width="1.2" height="7" rx="0" fill="#9677c2" />
<rect x="174.9" y="159.3" width="5.6" height="7" rx="0" fill="#cdaff0" />
<rect x="174.9" y="159.3" width="1.2" height="7" rx="0" fill="#9677c2" />
<rect x="174.9" y="173.9" width="5.6" height="7" rx="0" fill="#cdaff0" />
<rect x="174.9" y="173.9" width="1.2" height="7" rx="0" fill="#9677c2" />
<rect x="174.9" y="188.5" width="5.6" height="7" rx="0" fill="#cdaff0" />
<rect x="174.9" y="188.5" width="1.2" height="7" rx="0" fill="#9677c2" />
<rect x="743.5" y="83.7" width="4.2" height="5.2" fill="#cdb0f0" stroke="#a889d6" stroke-width="0.9" transform="rotate(-45 745.6 86.3)"/>
<rect x="743.5" y="99.3" width="4.2" height="5.2" fill="#cdb0f0" stroke="#a889d6" stroke-width="0.9" transform="rotate(-45 745.6 101.9)"/>
<rect x="743.5" y="113.8" width="4.2" height="5.2" fill="#cdb0f0" stroke="#a889d6" stroke-width="0.9" transform="rotate(-45 745.6 116.4)"/>
<rect x="743.5" y="129.4" width="4.2" height="5.2" fill="#cdb0f0" stroke="#a889d6" stroke-width="0.9" transform="rotate(-45 745.6 132)"/>
<rect x="743.5" y="144" width="4.2" height="5.2" fill="#cdb0f0" stroke="#a889d6" stroke-width="0.9" transform="rotate(-45 745.6 146.6)"/>
<rect x="743.5" y="158.5" width="4.2" height="5.2" fill="#cdb0f0" stroke="#a889d6" stroke-width="0.9" transform="rotate(-45 745.6 161.1)"/>
<rect x="743.5" y="173.1" width="4.2" height="5.2" fill="#cdb0f0" stroke="#a889d6" stroke-width="0.9" transform="rotate(-45 745.6 175.7)"/>
<rect x="743.5" y="186.6" width="4.2" height="5.2" fill="#cdb0f0" stroke="#a889d6" stroke-width="0.9" transform="rotate(-45 745.6 189.2)"/>
<rect x="758.5" y="83.6" width="5.4" height="5.4" fill="#cdb0f0" stroke="#a889d6" stroke-width="0.9" transform="rotate(45 761.2 86.3)"/>
<rect x="758.5" y="99.2" width="5.4" height="5.4" fill="#cdb0f0" stroke="#a889d6" stroke-width="0.9" transform="rotate(45 761.2 101.9)"/>
<rect x="758.5" y="113.7" width="5.4" height="5.4" fill="#cdb0f0" stroke="#a889d6" stroke-width="0.9" transform="rotate(45 761.2 116.4)"/>
<rect x="758.5" y="129.3" width="5.4" height="5.4" fill="#cdb0f0" stroke="#a889d6" stroke-width="0.9" transform="rotate(45 761.2 132)"/>
<rect x="758.5" y="143.9" width="5.4" height="5.4" fill="#cdb0f0" stroke="#a889d6" stroke-width="0.9" transform="rotate(45 761.2 146.6)"/>
<rect x="758.5" y="158.4" width="5.4" height="5.4" fill="#cdb0f0" stroke="#a889d6" stroke-width="0.9" transform="rotate(45 761.2 161.1)"/>
<rect x="758.5" y="173" width="5.4" height="5.4" fill="#cdb0f0" stroke="#a889d6" stroke-width="0.9" transform="rotate(45 761.2 175.7)"/>
<rect x="758.5" y="186.5" width="5.4" height="5.4" fill="#cdb0f0" stroke="#a889d6" stroke-width="0.9" transform="rotate(45 761.2 189.2)"/>
<rect x="774.9" y="81.55" width="3.8" height="9.5" fill="#cdb0f0" stroke="#a889d6" stroke-width="0.9" transform="rotate(45 776.8 86.3)"/>
<rect x="774.9" y="97.15" width="3.8" height="9.5" fill="#cdb0f0" stroke="#a889d6" stroke-width="0.9" transform="rotate(45 776.8 101.9)"/>
<rect x="774.9" y="111.65" width="3.8" height="9.5" fill="#cdb0f0" stroke="#a889d6" stroke-width="0.9" transform="rotate(45 776.8 116.4)"/>
<rect x="774.9" y="127.25" width="3.8" height="9.5" fill="#cdb0f0" stroke="#a889d6" stroke-width="0.9" transform="rotate(45 776.8 132)"/>
<rect x="774.9" y="141.85" width="3.8" height="9.5" fill="#cdb0f0" stroke="#a889d6" stroke-width="0.9" transform="rotate(45 776.8 146.6)"/>
<rect x="774.9" y="156.35" width="3.8" height="9.5" fill="#cdb0f0" stroke="#a889d6" stroke-width="0.9" transform="rotate(45 776.8 161.1)"/>
<rect x="774.9" y="170.95" width="3.8" height="9.5" fill="#cdb0f0" stroke="#a889d6" stroke-width="0.9" transform="rotate(45 776.8 175.7)"/>
<rect x="774.9" y="184.45" width="3.8" height="9.5" fill="#cdb0f0" stroke="#a889d6" stroke-width="0.9" transform="rotate(45 776.8 189.2)"/>
<rect x="790.7" y="83.6" width="5.4" height="5.4" fill="#cdb0f0" stroke="#a889d6" stroke-width="0.9" transform="rotate(45 793.4 86.3)"/>
<rect x="790.7" y="99.2" width="5.4" height="5.4" fill="#cdb0f0" stroke="#a889d6" stroke-width="0.9" transform="rotate(45 793.4 101.9)"/>
<rect x="790.7" y="113.7" width="5.4" height="5.4" fill="#cdb0f0" stroke="#a889d6" stroke-width="0.9" transform="rotate(45 793.4 116.4)"/>
<rect x="790.7" y="129.3" width="5.4" height="5.4" fill="#cdb0f0" stroke="#a889d6" stroke-width="0.9" transform="rotate(45 793.4 132)"/>
<rect x="790.7" y="143.9" width="5.4" height="5.4" fill="#cdb0f0" stroke="#a889d6" stroke-width="0.9" transform="rotate(45 793.4 146.6)"/>
<rect x="790.7" y="158.4" width="5.4" height="5.4" fill="#cdb0f0" stroke="#a889d6" stroke-width="0.9" transform="rotate(45 793.4 161.1)"/>
<rect x="790.7" y="173" width="5.4" height="5.4" fill="#cdb0f0" stroke="#a889d6" stroke-width="0.9" transform="rotate(45 793.4 175.7)"/>
<rect x="790.7" y="186.5" width="5.4" height="5.4" fill="#cdb0f0" stroke="#a889d6" stroke-width="0.9" transform="rotate(45 793.4 189.2)"/>
<rect x="807.1" y="81.55" width="3.8" height="9.5" fill="#cdb0f0" stroke="#a889d6" stroke-width="0.9" transform="rotate(-45 809 86.3)"/>
<rect x="807.1" y="97.15" width="3.8" height="9.5" fill="#cdb0f0" stroke="#a889d6" stroke-width="0.9" transform="rotate(-45 809 101.9)"/>
<rect x="807.1" y="111.65" width="3.8" height="9.5" fill="#cdb0f0" stroke="#a889d6" stroke-width="0.9" transform="rotate(-45 809 116.4)"/>
<rect x="807.1" y="127.25" width="3.8" height="9.5" fill="#cdb0f0" stroke="#a889d6" stroke-width="0.9" transform="rotate(-45 809 132)"/>
<rect x="807.1" y="141.85" width="3.8" height="9.5" fill="#cdb0f0" stroke="#a889d6" stroke-width="0.9" transform="rotate(-45 809 146.6)"/>
<rect x="807.1" y="156.35" width="3.8" height="9.5" fill="#cdb0f0" stroke="#a889d6" stroke-width="0.9" transform="rotate(-45 809 161.1)"/>
<rect x="807.1" y="170.95" width="3.8" height="9.5" fill="#cdb0f0" stroke="#a889d6" stroke-width="0.9" transform="rotate(-45 809 175.7)"/>
<rect x="807.1" y="184.45" width="3.8" height="9.5" fill="#cdb0f0" stroke="#a889d6" stroke-width="0.9" transform="rotate(-45 809 189.2)"/>
<rect x="822.6" y="83.9" width="4" height="4.8" fill="#cdb0f0" stroke="#a889d6" stroke-width="0.9" transform="rotate(-45 824.6 86.3)"/>
<rect x="822.6" y="99.5" width="4" height="4.8" fill="#cdb0f0" stroke="#a889d6" stroke-width="0.9" transform="rotate(-45 824.6 101.9)"/>
<rect x="822.6" y="114" width="4" height="4.8" fill="#cdb0f0" stroke="#a889d6" stroke-width="0.9" transform="rotate(-45 824.6 116.4)"/>
<rect x="822.6" y="129.6" width="4" height="4.8" fill="#cdb0f0" stroke="#a889d6" stroke-width="0.9" transform="rotate(-45 824.6 132)"/>
<rect x="822.6" y="144.2" width="4" height="4.8" fill="#cdb0f0" stroke="#a889d6" stroke-width="0.9" transform="rotate(-45 824.6 146.6)"/>
<rect x="822.6" y="158.7" width="4" height="4.8" fill="#cdb0f0" stroke="#a889d6" stroke-width="0.9" transform="rotate(-45 824.6 161.1)"/>
<rect x="822.6" y="173.3" width="4" height="4.8" fill="#cdb0f0" stroke="#a889d6" stroke-width="0.9" transform="rotate(-45 824.6 175.7)"/>
<rect x="822.6" y="186.8" width="4" height="4.8" fill="#cdb0f0" stroke="#a889d6" stroke-width="0.9" transform="rotate(-45 824.6 189.2)"/>
<rect x="837.7" y="83.8" width="5" height="5" fill="#cdb0f0" stroke="#a889d6" stroke-width="0.9" transform="rotate(45 840.2 86.3)"/>
<rect x="837.7" y="99.4" width="5" height="5" fill="#cdb0f0" stroke="#a889d6" stroke-width="0.9" transform="rotate(45 840.2 101.9)"/>
<rect x="837.7" y="113.9" width="5" height="5" fill="#cdb0f0" stroke="#a889d6" stroke-width="0.9" transform="rotate(45 840.2 116.4)"/>
<rect x="837.7" y="129.5" width="5" height="5" fill="#cdb0f0" stroke="#a889d6" stroke-width="0.9" transform="rotate(45 840.2 132)"/>
<rect x="837.7" y="144.1" width="5" height="5" fill="#cdb0f0" stroke="#a889d6" stroke-width="0.9" transform="rotate(45 840.2 146.6)"/>
<rect x="837.7" y="158.6" width="5" height="5" fill="#cdb0f0" stroke="#a889d6" stroke-width="0.9" transform="rotate(45 840.2 161.1)"/>
<rect x="837.7" y="173.2" width="5" height="5" fill="#cdb0f0" stroke="#a889d6" stroke-width="0.9" transform="rotate(45 840.2 175.7)"/>
<rect x="837.7" y="186.7" width="5" height="5" fill="#cdb0f0" stroke="#a889d6" stroke-width="0.9" transform="rotate(45 840.2 189.2)"/>
<rect x="854.8" y="83.7" width="4" height="5.2" fill="#cdb0f0" stroke="#a889d6" stroke-width="0.9" transform="rotate(-45 856.8 86.3)"/>
<rect x="854.8" y="99.3" width="4" height="5.2" fill="#cdb0f0" stroke="#a889d6" stroke-width="0.9" transform="rotate(-45 856.8 101.9)"/>
<rect x="854.8" y="113.8" width="4" height="5.2" fill="#cdb0f0" stroke="#a889d6" stroke-width="0.9" transform="rotate(-45 856.8 116.4)"/>
<rect x="854.8" y="129.4" width="4" height="5.2" fill="#cdb0f0" stroke="#a889d6" stroke-width="0.9" transform="rotate(-45 856.8 132)"/>
<rect x="854.8" y="144" width="4" height="5.2" fill="#cdb0f0" stroke="#a889d6" stroke-width="0.9" transform="rotate(-45 856.8 146.6)"/>
<rect x="854.8" y="158.5" width="4" height="5.2" fill="#cdb0f0" stroke="#a889d6" stroke-width="0.9" transform="rotate(-45 856.8 161.1)"/>
<rect x="854.8" y="173.1" width="4" height="5.2" fill="#cdb0f0" stroke="#a889d6" stroke-width="0.9" transform="rotate(-45 856.8 175.7)"/>
<rect x="854.8" y="186.6" width="4" height="5.2" fill="#cdb0f0" stroke="#a889d6" stroke-width="0.9" transform="rotate(-45 856.8 189.2)"/>
<path d="M9,223 C6,214 12,205 26,203 C40,201 52,200 49,188 C46,176 42,170 56,167 C70,164 84,166 88,155 C91,146 82,141 82,136" fill="none" stroke="#2f88c0" stroke-width="6.4" stroke-linecap="round" stroke-linejoin="round"/>
<path d="M9,223 C6,214 12,205 26,203 C40,201 52,200 49,188 C46,176 42,170 56,167 C70,164 84,166 88,155 C91,146 82,141 82,136" fill="none" stroke="#5cc0ec" stroke-width="4.6" stroke-linecap="round" stroke-linejoin="round"/>
<path d="M9,223 C6,214 12,205 26,203 C40,201 52,200 49,188 C46,176 42,170 56,167 C70,164 84,166 88,155 C91,146 82,141 82,136" fill="none" stroke="#bfe8fb" stroke-width="1.4" stroke-linecap="round" opacity="0.8" transform="translate(-0.8,-0.8)"/>
<path d="M74,236 C65,232 63,222 74,217 C86,212 102,210 101,198 C100,189 86,186 88,178 C91,170 108,171 118,166 C127,160 120,150 114,146 C106,141 108,137 111,136" fill="none" stroke="#2f88c0" stroke-width="6.4" stroke-linecap="round" stroke-linejoin="round"/>
<path d="M74,236 C65,232 63,222 74,217 C86,212 102,210 101,198 C100,189 86,186 88,178 C91,170 108,171 118,166 C127,160 120,150 114,146 C106,141 108,137 111,136" fill="none" stroke="#5cc0ec" stroke-width="4.6" stroke-linecap="round" stroke-linejoin="round"/>
<path d="M74,236 C65,232 63,222 74,217 C86,212 102,210 101,198 C100,189 86,186 88,178 C91,170 108,171 118,166 C127,160 120,150 114,146 C106,141 108,137 111,136" fill="none" stroke="#bfe8fb" stroke-width="1.4" stroke-linecap="round" opacity="0.8" transform="translate(-0.8,-0.8)"/>
<path d="M178,235 C168,233 163,226 168,219 C174,211 185,206 180,197 C175,190 150,192 147,182 C145,174 160,166 161,157 C162,148 148,150 136,146 C128,143 128,139 132,136" fill="none" stroke="#2f88c0" stroke-width="6.4" stroke-linecap="round" stroke-linejoin="round"/>
<path d="M178,235 C168,233 163,226 168,219 C174,211 185,206 180,197 C175,190 150,192 147,182 C145,174 160,166 161,157 C162,148 148,150 136,146 C128,143 128,139 132,136" fill="none" stroke="#5cc0ec" stroke-width="4.6" stroke-linecap="round" stroke-linejoin="round"/>
<path d="M178,235 C168,233 163,226 168,219 C174,211 185,206 180,197 C175,190 150,192 147,182 C145,174 160,166 161,157 C162,148 148,150 136,146 C128,143 128,139 132,136" fill="none" stroke="#bfe8fb" stroke-width="1.4" stroke-linecap="round" opacity="0.8" transform="translate(-0.8,-0.8)"/>
<path d="M253,218 C242,216 227,216 223,205 C219,193 226,180 210,178 C193,176 184,173 185,162 C186,151 191,147 181,142 C172,138 156,140 149,136" fill="none" stroke="#2f88c0" stroke-width="6.4" stroke-linecap="round" stroke-linejoin="round"/>
<path d="M253,218 C242,216 227,216 223,205 C219,193 226,180 210,178 C193,176 184,173 185,162 C186,151 191,147 181,142 C172,138 156,140 149,136" fill="none" stroke="#5cc0ec" stroke-width="4.6" stroke-linecap="round" stroke-linejoin="round"/>
<path d="M253,218 C242,216 227,216 223,205 C219,193 226,180 210,178 C193,176 184,173 185,162 C186,151 191,147 181,142 C172,138 156,140 149,136" fill="none" stroke="#bfe8fb" stroke-width="1.4" stroke-linecap="round" opacity="0.8" transform="translate(-0.8,-0.8)"/>
<text x="2.26" y="245" font-family="Liberation Sans, sans-serif" font-size="28" font-weight="bold" font-style="italic" text-anchor="start" fill="#000" >&#945;</text>
<text x="20.4" y="249.6" font-family="Liberation Sans, sans-serif" font-size="13.5" font-weight="normal" text-anchor="start" fill="#000" >1</text>
<text x="62.16" y="258.5" font-family="Liberation Sans, sans-serif" font-size="28" font-weight="bold" font-style="italic" text-anchor="start" fill="#000" >&#945;</text>
<text x="80.3" y="264.6" font-family="Liberation Sans, sans-serif" font-size="13.5" font-weight="normal" text-anchor="start" fill="#000" >2</text>
<text x="165.36" y="256.9" font-family="Liberation Sans, sans-serif" font-size="28" font-weight="bold" font-style="italic" text-anchor="start" fill="#000" >&#945;</text>
<text x="183.7" y="262.7" font-family="Liberation Sans, sans-serif" font-size="13.5" font-weight="normal" text-anchor="start" fill="#000" >3</text>
<text x="230.36" y="242.3" font-family="Liberation Sans, sans-serif" font-size="28" font-weight="bold" font-style="italic" text-anchor="start" fill="#000" >&#945;</text>
<text x="248.3" y="247.3" font-family="Liberation Sans, sans-serif" font-size="13.5" font-weight="normal" text-anchor="start" fill="#000" >4</text>
<path d="M676,205.6 C683,201 697,198 706.6,210.5 M699.8,204.7 C698,194 706,176 718,174 C727,173 734,178 737.4,183.5 M729.7,177.7 C730,166 738,151 747,149 C756,147 763,151 766.2,156.6 M758.5,148.9 C760,145 761,140 760.5,135.4" fill="none" stroke="#8f4fb8" stroke-width="5.4" stroke-linecap="round" stroke-linejoin="round"/>
<path d="M676,205.6 C683,201 697,198 706.6,210.5 M699.8,204.7 C698,194 706,176 718,174 C727,173 734,178 737.4,183.5 M729.7,177.7 C730,166 738,151 747,149 C756,147 763,151 766.2,156.6 M758.5,148.9 C760,145 761,140 760.5,135.4" fill="none" stroke="#c07ee0" stroke-width="3.6" stroke-linecap="round" stroke-linejoin="round"/>
<polygon points="764.5,225 769.5,225 771,212 775,210 777,175 781,173 784,136 787,134 782,133 779,160 775,163 773,197 769,199 767,212 763,214" fill="#f09442" stroke="#c86a1e" stroke-width="0.8" />
<path d="M802.8,139.2 C806,135 812,133 816.3,133.5 C826,134 834,144 833.6,156.6 C833,165 825,169 818.2,168.1 C814,167 815,162 819,162 C827,160 843,166 847,175.8 C850,186 842,196 832.6,197 C829,196 830,192 834,192.5 C846,191 858,197 862.4,204.7 C865,212 864,219 861,224.9" fill="none" stroke="#3e8a1c" stroke-width="5.8" stroke-linecap="round" stroke-linejoin="round"/>
<path d="M802.8,139.2 C806,135 812,133 816.3,133.5 C826,134 834,144 833.6,156.6 C833,165 825,169 818.2,168.1 C814,167 815,162 819,162 C827,160 843,166 847,175.8 C850,186 842,196 832.6,197 C829,196 830,192 834,192.5 C846,191 858,197 862.4,204.7 C865,212 864,219 861,224.9" fill="none" stroke="#6cc23a" stroke-width="4" stroke-linecap="round" stroke-linejoin="round"/>
<path d="M843.2,133.5 C838,137 836,146 839.4,150.8 C843,155 849,156 856,157 C866,158 876,158 877.8,166.2 C879,172 872,178 874,182 C876,188 889,190 901,191.2 C910,192 917,195 916.3,201 C915.5,206 913,209 910.6,212.4" fill="none" stroke="#2f88c0" stroke-width="5.8" stroke-linecap="round" stroke-linejoin="round"/>
<path d="M843.2,133.5 C838,137 836,146 839.4,150.8 C843,155 849,156 856,157 C866,158 876,158 877.8,166.2 C879,172 872,178 874,182 C876,188 889,190 901,191.2 C910,192 917,195 916.3,201 C915.5,206 913,209 910.6,212.4" fill="none" stroke="#5cc0ec" stroke-width="4" stroke-linecap="round" stroke-linejoin="round"/>
<path d="M843.2,133.5 C838,137 836,146 839.4,150.8 C843,155 849,156 856,157 C866,158 876,158 877.8,166.2 C879,172 872,178 874,182 C876,188 889,190 901,191.2 C910,192 917,195 916.3,201 C915.5,206 913,209 910.6,212.4" fill="none" stroke="#bfe8fb" stroke-width="1.4" stroke-linecap="round" opacity="0.8" transform="translate(-0.8,-0.8)"/>
<text x="684.27" y="232" font-family="Liberation Sans, sans-serif" font-size="28.4" font-weight="bold" font-style="italic" text-anchor="start" fill="#000" >&#946;</text>
<text x="702.4" y="237.7" font-family="Liberation Sans, sans-serif" font-size="13.5" font-weight="normal" text-anchor="start" fill="#000" >1</text>
<text x="757.37" y="249.3" font-family="Liberation Sans, sans-serif" font-size="28.4" font-weight="bold" font-style="italic" text-anchor="start" fill="#000" >&#946;</text>
<text x="775.5" y="255.5" font-family="Liberation Sans, sans-serif" font-size="13.5" font-weight="normal" text-anchor="start" fill="#000" >2</text>
<text x="840.57" y="245.8" font-family="Liberation Sans, sans-serif" font-size="28.4" font-weight="bold" font-style="italic" text-anchor="start" fill="#000" >&#946;</text>
<text x="859.2" y="251.5" font-family="Liberation Sans, sans-serif" font-size="13.5" font-weight="normal" text-anchor="start" fill="#000" >3</text>
<text x="892.57" y="233.3" font-family="Liberation Sans, sans-serif" font-size="28.4" font-weight="bold" font-style="italic" text-anchor="start" fill="#000" >&#946;</text>
<text x="911.2" y="239" font-family="Liberation Sans, sans-serif" font-size="13.5" font-weight="normal" text-anchor="start" fill="#000" >4</text>
<rect x="1.5" y="309.3" width="1297.5" height="580.7" rx="0" fill="#fdf6ea" />
<g clip-path="url(#clipc)">
<g filter="url(#blur20)" opacity="0.5">
<path d="M140,606 L421,606 L421,532 L510,532 M421,532 L421,862 L240,684 L510,684" fill="none" stroke="#bdb0d2" stroke-width="64" stroke-linejoin="round"/>
<polygon points="262,690 408,690 408,836" fill="#cdc2dc"/>
<path d="M510,532 L622,532 L843,406 M510,680 L622,680 L843,806" fill="none" stroke="#e6d2cc" stroke-width="34" stroke-linejoin="round"/>
</g>
<g filter="url(#blur10)" opacity="0.55">
<rect x="285" y="742" width="110" height="40" fill="#7ab8f0" transform="rotate(45 329 765)"/>
</g>
<g filter="url(#blur6)" opacity="0.5">
<rect x="50" y="588" width="84" height="40" rx="0" fill="#5a5050" />
<ellipse cx="910" cy="375" rx="34" ry="16" fill="#8a8080" transform="rotate(-29 910 375)"/>
<ellipse cx="912" cy="852" rx="34" ry="16" fill="#8a8080" transform="rotate(28 912 852)"/>
<ellipse cx="855" cy="405" rx="22" ry="22" fill="#9a9090"/>
<ellipse cx="852" cy="810" rx="22" ry="22" fill="#9a9090"/>
<ellipse cx="420" cy="862" rx="30" ry="10" fill="#8a8080"/>
</g>
</g>
<text x="7.5" y="350.9" font-family="Liberation Sans, sans-serif" font-size="41.5" font-weight="bold" text-anchor="start" fill="#000" letter-spacing="1.7">(c)</text>
<rect x="52.5" y="582" width="75" height="36.4" rx="0" fill="#4a4446" />
<path d="M128,598 L421.5,598" fill="none" stroke="#b53cff" stroke-width="14.5" stroke-linejoin="miter"/>
<path d="M128,598 L421.5,598" fill="none" stroke="#a800ff" stroke-width="12.5" stroke-linejoin="miter"/>
<path d="M511,524.5 L421.8,524.5 L421.8,852" fill="none" stroke="#c070ff" stroke-width="15" stroke-linejoin="miter"/>
<path d="M511,524.5 L421.8,524.5 L421.8,852" fill="none" stroke="#a000ff" stroke-width="13" stroke-linejoin="miter"/>
<path d="M511,524.5 L421.8,524.5 L421.8,852" fill="none" stroke="#d800ff" stroke-width="8.68" stroke-linejoin="miter"/>
<path d="M511,524.5 L421.8,524.5 L421.8,852" fill="none" stroke="#f400ff" stroke-width="5.04" stroke-linejoin="miter"/>
<path d="M511,675 L241,675 L420,855" fill="none" stroke="#c070ff" stroke-width="15" stroke-linejoin="bevel"/>
<path d="M511,675 L241,675 L420,855" fill="none" stroke="#a000ff" stroke-width="13" stroke-linejoin="bevel"/>
<path d="M511,675 L241,675 L420,855" fill="none" stroke="#d800ff" stroke-width="8.68" stroke-linejoin="bevel"/>
<path d="M511,675 L241,675 L420,855" fill="none" stroke="#f400ff" stroke-width="5.04" stroke-linejoin="bevel"/>
<path d="M511,527 L622,527 L843,399.5" fill="none" stroke="#ff1208" stroke-width="7.5" stroke-linejoin="miter"/>
<path d="M511,673 L622,673 L843,799" fill="none" stroke="#ff1208" stroke-width="7.5" stroke-linejoin="miter"/>
<rect x="202.6" y="575" width="8" height="50" rx="0.8" fill="#5a64dc" opacity="0.9"/>
<rect x="202.6" y="590.8" width="8" height="14.4" rx="0" fill="#5012ff" />
<rect x="231.4" y="575" width="8" height="50" rx="0.8" fill="#58be64" opacity="0.9"/>
<rect x="231.4" y="590.8" width="8" height="14.4" rx="0" fill="#5a10c4" />
<rect x="342" y="575" width="8" height="50" rx="0.8" fill="#5a64dc" opacity="0.9"/>
<rect x="342" y="590.8" width="8" height="14.4" rx="0" fill="#5012ff" />
<rect x="371" y="575" width="8" height="50" rx="0.8" fill="#58be64" opacity="0.9"/>
<rect x="371" y="590.8" width="8" height="14.4" rx="0" fill="#5a10c4" />
<rect x="459.3" y="501.6" width="8" height="50.8" rx="0.8" fill="#5a64dc" opacity="0.9"/>
<rect x="459.3" y="517.8" width="8" height="14.4" rx="0" fill="#5012ff" />
<rect x="488.6" y="501.6" width="8" height="50.8" rx="0.8" fill="#58be64" opacity="0.9"/>
<rect x="488.6" y="517.8" width="8" height="14.4" rx="0" fill="#5a10c4" />
<rect x="507.2" y="501.6" width="8" height="50.8" rx="0.8" fill="#8c2fd8" opacity="0.9"/>
<rect x="507.2" y="517.8" width="8" height="14.4" rx="0" fill="#6a10c0" />
<rect x="351" y="648" width="8" height="51" rx="0.8" fill="#58be64" opacity="0.9"/>
<rect x="351" y="667.8" width="8" height="14.4" rx="0" fill="#5a10c4" />
<rect x="460" y="648" width="8" height="51" rx="0.8" fill="#5a64dc" opacity="0.9"/>
<rect x="460" y="667.8" width="8" height="14.4" rx="0" fill="#5012ff" />
<rect x="489" y="648" width="8" height="51" rx="0.8" fill="#58be64" opacity="0.9"/>
<rect x="489" y="667.8" width="8" height="14.4" rx="0" fill="#5a10c4" />
<rect x="506.5" y="648" width="8" height="51" rx="0.8" fill="#8c2fd8" opacity="0.9"/>
<rect x="506.5" y="667.8" width="8" height="14.4" rx="0" fill="#6a10c0" />
<rect x="545.5" y="501.5" width="9" height="51" rx="4" fill="#c97a42" opacity="0.9" transform="rotate(0 550 527)"/>
<rect x="545.5" y="523" width="9" height="8" fill="#e8100c" transform="rotate(0 550 527)"/>
<rect x="544.8" y="647.5" width="9" height="51" rx="4" fill="#c97a42" opacity="0.9" transform="rotate(0 549.3 673)"/>
<rect x="544.8" y="669" width="9" height="8" fill="#e8100c" transform="rotate(0 549.3 673)"/>
<ellipse cx="685.6" cy="489" rx="6.5" ry="23" fill="#c47640" opacity="0.88" transform="rotate(-30 685.6 489)"/>
<ellipse cx="685.6" cy="709" rx="6.5" ry="23" fill="#c47640" opacity="0.88" transform="rotate(30 685.6 709)"/>
<rect x="620" y="498.5" width="4.2" height="55.5" rx="0" fill="#aaa4cc" />
<rect x="621.4" y="498.5" width="1.4" height="55.5" rx="0" fill="#7c78a8" />
<rect x="620" y="646" width="4.2" height="55.7" rx="0" fill="#aaa4cc" />
<rect x="621.4" y="646" width="1.4" height="55.7" rx="0" fill="#7c78a8" />
<ellipse cx="723" cy="468" rx="5.5" ry="25" fill="#6d72e6" opacity="0.88" transform="rotate(-30 723 468)"/>
<ellipse cx="748.5" cy="453.4" rx="5.5" ry="25" fill="#60c86a" opacity="0.88" transform="rotate(-30 748.5 453.4)"/>
<ellipse cx="722" cy="731" rx="5.5" ry="25" fill="#6d72e6" opacity="0.88" transform="rotate(30 722 731)"/>
<ellipse cx="748.5" cy="746.5" rx="5.5" ry="25" fill="#60c86a" opacity="0.88" transform="rotate(30 748.5 746.5)"/>
<path d="M670,498 L770,441" fill="none" stroke="#ff1208" stroke-width="7.5" />
<path d="M670,700 L770,759" fill="none" stroke="#ff1208" stroke-width="7.5" />
<circle cx="685.6" cy="489" r="4.6" fill="#d80c0c"/>
<circle cx="723" cy="468" r="4.6" fill="#d80c0c"/>
<circle cx="748.5" cy="453.4" r="4.6" fill="#d80c0c"/>
<circle cx="685.6" cy="709" r="4.6" fill="#d80c0c"/>
<circle cx="722" cy="731" r="4.6" fill="#d80c0c"/>
<circle cx="748.5" cy="746.5" r="4.6" fill="#d80c0c"/>
<g transform="rotate(0 292 600)">
<rect x="274" y="582" width="36" height="36" fill="#7479ee" opacity="0.85"/>
<line x1="274" y1="618" x2="310" y2="582" stroke="#e8e8ff" stroke-width="1.3" />
</g>
<rect x="274" y="591" width="36" height="14.4" rx="0" fill="#5216ff" />
<line x1="274" y1="618" x2="310" y2="582" stroke="#e8e8ff" stroke-width="1.3" />
<g transform="rotate(-30 797 426.4)">
<rect x="778" y="407.4" width="38" height="38" fill="#7479ee" opacity="0.85"/>
<line x1="778" y1="445.4" x2="816" y2="407.4" stroke="#e8e8ff" stroke-width="1.3" />
</g>
<g transform="rotate(30 797 774)">
<rect x="778" y="755" width="38" height="38" fill="#7479ee" opacity="0.85"/>
<line x1="778" y1="793" x2="816" y2="755" stroke="#e8e8ff" stroke-width="1.3" />
</g>
<path d="M780,436 L815,416" fill="none" stroke="#ff1208" stroke-width="7.5" opacity="0.8"/>
<path d="M780,764 L815,784" fill="none" stroke="#ff1208" stroke-width="7.5" opacity="0.8"/>
<g transform="rotate(0 420.7 674.2)">
<rect x="402.7" y="656.2" width="36" height="36" fill="#4a4650" opacity="0.85"/>
<line x1="402.7" y1="692.2" x2="438.7" y2="656.2" stroke="#d8d8d8" stroke-width="1.3" />
</g>
<rect x="402.7" y="668" width="36" height="13" rx="0" fill="#6a10c8" opacity="0.55"/>
<rect x="415" y="656.5" width="13" height="35" rx="0" fill="#6a10c8" opacity="0.55"/>
<line x1="401.5" y1="583" x2="438" y2="617.5" stroke="#b41a18" stroke-width="7.5" />
<line x1="397.5" y1="539.5" x2="434" y2="505" stroke="#6e6c6c" stroke-width="8" />
<line x1="225" y1="695" x2="246.5" y2="651" stroke="#6e6c6c" stroke-width="7.5" />
<line x1="397" y1="866" x2="444" y2="848.5" stroke="#6e6c6c" stroke-width="8" />
<g transform="rotate(45 329 765)">
<rect x="275" y="749" width="108" height="32" rx="0" fill="#3ba6ec" opacity="0.95"/>
<rect x="275" y="758" width="108" height="14" rx="0" fill="#2a14ea" />
</g>
<g transform="rotate(-31.6 842.2 400.2)">
<path d="M842.2,376.2 A24,24 0 0 1 842.2,424.2 Z" fill="#858080" stroke="#6a6464" stroke-width="1"/>
</g>
<g transform="rotate(29.7 843 798.5)">
<path d="M843,774.5 A24,24 0 0 1 843,822.5 Z" fill="#858080" stroke="#6a6464" stroke-width="1"/>
</g>
<rect x="882.5" y="347.7" width="56" height="24" fill="#403b3b" transform="rotate(-29.2 910.5 359.7)"/>
<rect x="882.8" y="829.1" width="55.4" height="23" fill="#403b3b" transform="rotate(28.5 910.5 840.6)"/>
<path d="M866,385 C874,384 880,379 887,374" fill="none" stroke="#111" stroke-width="2.6" />
<path d="M866,814 C874,821 880,826 888.5,827" fill="none" stroke="#111" stroke-width="2.6" />
<path d="M937,348 C956,362 978,410 992,452 C1006,494 1019,530 1016,571" fill="none" stroke="#111" stroke-width="2.6" />
<path d="M1012.4,629 C1022,680 1012,735 990,778 C972,812 952,836 937,851" fill="none" stroke="#111" stroke-width="2.6" />
<circle cx="1012.4" cy="600.4" r="27" fill="none" stroke="#3a3838" stroke-width="4.2"/>
<line x1="993.3" y1="581.3" x2="1031.5" y2="619.5" stroke="#3a3838" stroke-width="4" />
<line x1="993.3" y1="619.5" x2="1031.5" y2="581.3" stroke="#3a3838" stroke-width="4" />
<text x="62.2" y="568.8" font-family="Liberation Sans, sans-serif" font-size="23.5" font-weight="bold" text-anchor="start" fill="#000" textLength="55.2" lengthAdjust="spacingAndGlyphs" >Laser</text>
<text x="183.2" y="561.5" font-family="Liberation Sans, sans-serif" font-size="23.5" font-weight="bold" text-anchor="start" fill="#000" textLength="71" lengthAdjust="spacingAndGlyphs" >Q/HWP</text>
<text x="268.2" y="571.6" font-family="Liberation Sans, sans-serif" font-size="23.5" font-weight="bold" text-anchor="start" fill="#000" textLength="43.2" lengthAdjust="spacingAndGlyphs" >PBS</text>
<text x="325.2" y="561.5" font-family="Liberation Sans, sans-serif" font-size="23.5" font-weight="bold" text-anchor="start" fill="#000" textLength="71" lengthAdjust="spacingAndGlyphs" >Q/HWP</text>
<text x="350.6" y="512" font-family="Liberation Sans, sans-serif" font-size="23.5" font-weight="bold" text-anchor="start" fill="#000" textLength="61.2" lengthAdjust="spacingAndGlyphs" >mirror</text>
<text x="430.2" y="602.8" font-family="Liberation Sans, sans-serif" font-size="23.5" font-weight="bold" text-anchor="start" fill="#000" textLength="31.6" lengthAdjust="spacingAndGlyphs" >DM</text>
<text x="167" y="676.6" font-family="Liberation Sans, sans-serif" font-size="23.5" font-weight="bold" text-anchor="start" fill="#000" textLength="61.8" lengthAdjust="spacingAndGlyphs" >mirror</text>
<text x="324.7" y="715" font-family="Liberation Sans, sans-serif" font-size="23.5" font-weight="bold" text-anchor="start" fill="#000" textLength="62.9" lengthAdjust="spacingAndGlyphs" >DHWP</text>
<text x="397" y="718" font-family="Liberation Sans, sans-serif" font-size="23.5" font-weight="bold" text-anchor="start" fill="#000" textLength="57.8" lengthAdjust="spacingAndGlyphs" >DPBS</text>
<text x="239.2" y="800" font-family="Liberation Sans, sans-serif" font-size="23.5" font-weight="bold" text-anchor="start" fill="#000" textLength="69.4" lengthAdjust="spacingAndGlyphs" >PPKTP</text>
<text x="451.2" y="858.4" font-family="Liberation Sans, sans-serif" font-size="23.5" font-weight="bold" text-anchor="start" fill="#000" textLength="62.6" lengthAdjust="spacingAndGlyphs" >mirror</text>
<text x="441.5" y="485.5" font-family="Liberation Sans, sans-serif" font-size="23.5" font-weight="bold" text-anchor="start" fill="#000" textLength="70.9" lengthAdjust="spacingAndGlyphs" >Q/HWP</text>
<text x="595.5" y="486" font-family="Liberation Sans, sans-serif" font-size="23.5" font-weight="bold" text-anchor="start" fill="#000" textLength="41" lengthAdjust="spacingAndGlyphs" >MS1</text>
<text x="506.8" y="579" font-family="Liberation Sans, sans-serif" font-size="23.5" font-weight="bold" text-anchor="start" fill="#000" textLength="18" lengthAdjust="spacingAndGlyphs" >IF</text>
<text x="545.6" y="579" font-family="Liberation Sans, sans-serif" font-size="23.5" font-weight="bold" text-anchor="start" fill="#000" textLength="42.2" lengthAdjust="spacingAndGlyphs" >lens</text>
<text x="450.2" y="635" font-family="Liberation Sans, sans-serif" font-size="23.5" font-weight="bold" text-anchor="start" fill="#000" textLength="69.9" lengthAdjust="spacingAndGlyphs" >Q/HWP</text>
<text x="597" y="632.5" font-family="Liberation Sans, sans-serif" font-size="23.5" font-weight="bold" text-anchor="start" fill="#000" textLength="41.7" lengthAdjust="spacingAndGlyphs" >MS2</text>
<text x="506.8" y="724.8" font-family="Liberation Sans, sans-serif" font-size="23.5" font-weight="bold" text-anchor="start" fill="#000" textLength="18" lengthAdjust="spacingAndGlyphs" >IF</text>
<text x="545.2" y="725" font-family="Liberation Sans, sans-serif" font-size="23.5" font-weight="bold" text-anchor="start" fill="#000" textLength="42.6" lengthAdjust="spacingAndGlyphs" >lens</text>
<text x="681.7" y="534" font-family="Liberation Sans, sans-serif" font-size="23.5" font-weight="bold" text-anchor="start" fill="#000" textLength="40.1" lengthAdjust="spacingAndGlyphs" >lens</text>
<text x="735.6" y="510.5" font-family="Liberation Sans, sans-serif" font-size="23.5" font-weight="bold" text-anchor="start" fill="#000" textLength="70.9" lengthAdjust="spacingAndGlyphs" >Q/HWP</text>
<text x="758.5" y="400.8" font-family="Liberation Sans, sans-serif" font-size="23.5" font-weight="bold" text-anchor="start" fill="#000" textLength="42.5" lengthAdjust="spacingAndGlyphs" >PBS</text>
<text x="823.7" y="363.7" font-family="Liberation Sans, sans-serif" font-size="23.5" font-weight="bold" text-anchor="start" fill="#000" textLength="27.5" lengthAdjust="spacingAndGlyphs" >FC</text>
<text x="889.2" y="409" font-family="Liberation Sans, sans-serif" font-size="23.5" font-weight="bold" text-anchor="start" fill="#000" textLength="59.6" lengthAdjust="spacingAndGlyphs" >SPCM</text>
<text x="675.5" y="676.5" font-family="Liberation Sans, sans-serif" font-size="23.5" font-weight="bold" text-anchor="start" fill="#000" textLength="41.1" lengthAdjust="spacingAndGlyphs" >lens</text>
<text x="736.5" y="703" font-family="Liberation Sans, sans-serif" font-size="23.5" font-weight="bold" text-anchor="start" fill="#000" textLength="70.2" lengthAdjust="spacingAndGlyphs" >Q/HWP</text>
<text x="765.7" y="822.7" font-family="Liberation Sans, sans-serif" font-size="23.5" font-weight="bold" text-anchor="start" fill="#000" textLength="42.6" lengthAdjust="spacingAndGlyphs" >PBS</text>
<text x="830.8" y="853.2" font-family="Liberation Sans, sans-serif" font-size="23.5" font-weight="bold" text-anchor="start" fill="#000" textLength="27.4" lengthAdjust="spacingAndGlyphs" >FC</text>
<text x="889.1" y="806" font-family="Liberation Sans, sans-serif" font-size="23.5" font-weight="bold" text-anchor="start" fill="#000" textLength="59.7" lengthAdjust="spacingAndGlyphs" >SPCM</text>
<text x="1059.3" y="387" font-family="Liberation Sans, sans-serif" font-size="19" font-weight="bold" text-anchor="start" fill="#000" textLength="60.2" lengthAdjust="spacingAndGlyphs" >DHWP:</text>
<text x="1059.3" y="412.8" font-family="Liberation Sans, sans-serif" font-size="19" font-weight="bold" text-anchor="start" fill="#000" textLength="185.8" lengthAdjust="spacingAndGlyphs" >dual-wavelength (405,</text>
<text x="1059.3" y="438.8" font-family="Liberation Sans, sans-serif" font-size="19" font-weight="bold" text-anchor="start" fill="#000" textLength="200.7" lengthAdjust="spacingAndGlyphs" >810 nm) half-wave plate</text>
<text x="1059.3" y="491.6" font-family="Liberation Sans, sans-serif" font-size="19" font-weight="bold" text-anchor="start" fill="#000" textLength="55.6" lengthAdjust="spacingAndGlyphs" >DPBS:</text>
<text x="1059.3" y="517.5" font-family="Liberation Sans, sans-serif" font-size="19" font-weight="bold" text-anchor="start" fill="#000" textLength="185.8" lengthAdjust="spacingAndGlyphs" >dual-wavelength (405,</text>
<text x="1059.3" y="543.4" font-family="Liberation Sans, sans-serif" font-size="19" font-weight="bold" text-anchor="start" fill="#000" textLength="172.8" lengthAdjust="spacingAndGlyphs" >810 nm) polarization</text>
<text x="1059.3" y="569.4" font-family="Liberation Sans, sans-serif" font-size="19" font-weight="bold" text-anchor="start" fill="#000" textLength="112" lengthAdjust="spacingAndGlyphs" >beam splitter</text>
<text x="1059.3" y="630.9" font-family="Liberation Sans, sans-serif" font-size="19" font-weight="bold" text-anchor="start" fill="#000" textLength="181.8" lengthAdjust="spacingAndGlyphs" >DM: dichroism mirror</text>
<text x="1059.3" y="670.4" font-family="Liberation Sans, sans-serif" font-size="19" font-weight="bold" text-anchor="start" fill="#000" textLength="173.8" lengthAdjust="spacingAndGlyphs" >IF: interference filter</text>
<text x="1059.3" y="709.2" font-family="Liberation Sans, sans-serif" font-size="19" font-weight="bold" text-anchor="start" fill="#000" textLength="143.9" lengthAdjust="spacingAndGlyphs" >FC: fiber coupler</text>
<text x="1059.3" y="748.5" font-family="Liberation Sans, sans-serif" font-size="19" font-weight="bold" text-anchor="start" fill="#000" textLength="180.8" lengthAdjust="spacingAndGlyphs" >SPCM: single-photon</text>
<text x="1059.3" y="787.4" font-family="Liberation Sans, sans-serif" font-size="19" font-weight="bold" text-anchor="start" fill="#000" textLength="153.9" lengthAdjust="spacingAndGlyphs" >counting modules</text>
<line x1="2.7" y1="922" x2="1299" y2="922" stroke="#a8a8a8" stroke-width="5.3" stroke-dasharray="4.9,5.4"/>
<line x1="2.8" y1="1526.9" x2="1299" y2="1526.9" stroke="#a8a8a8" stroke-width="5.3" stroke-dasharray="4.9,5.4"/>
<line x1="2.45" y1="929.2" x2="2.45" y2="1522.5" stroke="#a8a8a8" stroke-width="5.2" stroke-dasharray="5.3,5.385"/>
<line x1="325.1" y1="929.2" x2="325.1" y2="1522.5" stroke="#a8a8a8" stroke-width="5.2" stroke-dasharray="5.3,5.385"/>
<line x1="648.2" y1="929.2" x2="648.2" y2="1522.5" stroke="#a8a8a8" stroke-width="5.2" stroke-dasharray="5.3,5.385"/>
<line x1="971.6" y1="929.2" x2="971.6" y2="1522.5" stroke="#a8a8a8" stroke-width="5.2" stroke-dasharray="5.3,5.385"/>
<line x1="1295.3" y1="929.2" x2="1295.3" y2="1522.5" stroke="#a8a8a8" stroke-width="5.2" stroke-dasharray="5.3,5.385"/>
<text x="8.8" y="961.9" font-family="Liberation Sans, sans-serif" font-size="41.5" font-weight="bold" text-anchor="start" fill="#000" letter-spacing="1.7">(d)</text>
<text x="117" y="984.2" font-family="Liberation Sans, sans-serif" font-size="31.5" font-weight="bold" text-anchor="start" fill="#000" textLength="46.3" lengthAdjust="spacingAndGlyphs" >CH</text>
<text x="162.5" y="993" font-family="Liberation Sans, sans-serif" font-size="18.2" font-weight="bold" font-style="italic" text-anchor="start" fill="#000" >&#945;</text>
<text x="174" y="997" font-family="Liberation Serif, sans-serif" font-size="13.2" font-weight="normal" text-anchor="start" fill="#000" >3</text>
<text x="182.6" y="993.3" font-family="Liberation Sans, sans-serif" font-size="15" font-weight="bold" text-anchor="start" fill="#000" >,</text>
<text x="189.5" y="992.6" font-family="Liberation Sans, sans-serif" font-size="18.2" font-weight="bold" font-style="italic" text-anchor="start" fill="#000" >&#946;</text>
<text x="200.2" y="997.4" font-family="Liberation Serif, sans-serif" font-size="13.2" font-weight="normal" text-anchor="start" fill="#000" >2</text>
<text transform="rotate(-90 27.8 1086.2)" x="27.8" y="1086.2" font-family="Liberation Sans, sans-serif" font-size="25.3" font-weight="bold" text-anchor="middle">Re(<tspan font-family="Liberation Serif, serif" font-weight="normal">&#961;</tspan>)</text>
<text transform="rotate(-90 27.8 1354.1)" x="27.8" y="1354.1" font-family="Liberation Sans, sans-serif" font-size="25.3" font-weight="bold" text-anchor="middle">Im(<tspan font-family="Liberation Serif, serif" font-weight="normal">&#961;</tspan>)</text>
<line x1="78.16" y1="1162.71" x2="194.96" y2="1117.41" stroke="#e3e3e3" stroke-width="0.9" />
<line x1="80.89" y1="1151.63" x2="171.69" y2="1211.53" stroke="#e3e3e3" stroke-width="0.9" />
<line x1="80.89" y1="1151.63" x2="80.89" y2="1016.87" stroke="#e3e3e3" stroke-width="0.9" />
<line x1="194.96" y1="1117.41" x2="194.96" y2="982.65" stroke="#e3e3e3" stroke-width="0.9" />
<line x1="102.05" y1="1178.47" x2="218.85" y2="1133.17" stroke="#e3e3e3" stroke-width="0.9" />
<line x1="111.63" y1="1139.71" x2="202.43" y2="1199.61" stroke="#e3e3e3" stroke-width="0.9" />
<line x1="111.63" y1="1139.71" x2="111.63" y2="1004.95" stroke="#e3e3e3" stroke-width="0.9" />
<line x1="218.85" y1="1133.17" x2="218.85" y2="998.41" stroke="#e3e3e3" stroke-width="0.9" />
<line x1="125.95" y1="1194.23" x2="242.75" y2="1148.93" stroke="#e3e3e3" stroke-width="0.9" />
<line x1="142.37" y1="1127.79" x2="233.17" y2="1187.69" stroke="#e3e3e3" stroke-width="0.9" />
<line x1="142.37" y1="1127.79" x2="142.37" y2="993.03" stroke="#e3e3e3" stroke-width="0.9" />
<line x1="242.75" y1="1148.93" x2="242.75" y2="1014.17" stroke="#e3e3e3" stroke-width="0.9" />
<line x1="149.84" y1="1209.99" x2="266.64" y2="1164.69" stroke="#e3e3e3" stroke-width="0.9" />
<line x1="173.11" y1="1115.87" x2="263.91" y2="1175.77" stroke="#e3e3e3" stroke-width="0.9" />
<line x1="173.11" y1="1115.87" x2="173.11" y2="981.11" stroke="#e3e3e3" stroke-width="0.9" />
<line x1="266.64" y1="1164.69" x2="266.64" y2="1029.93" stroke="#e3e3e3" stroke-width="0.9" />
<line x1="185.4" y1="1111.1" x2="185.4" y2="976.34" stroke="#e3e3e3" stroke-width="0.9" />
<line x1="68.6" y1="1021.64" x2="185.4" y2="976.34" stroke="#e3e3e3" stroke-width="0.9" />
<line x1="185.4" y1="976.34" x2="276.2" y2="1036.24" stroke="#e3e3e3" stroke-width="0.9" />
<line x1="68.6" y1="1055.33" x2="185.4" y2="1010.03" stroke="#e3e3e3" stroke-width="0.9" />
<line x1="185.4" y1="1010.03" x2="276.2" y2="1069.93" stroke="#e3e3e3" stroke-width="0.9" />
<line x1="68.6" y1="1089.02" x2="185.4" y2="1043.72" stroke="#e3e3e3" stroke-width="0.9" />
<line x1="185.4" y1="1043.72" x2="276.2" y2="1103.62" stroke="#e3e3e3" stroke-width="0.9" />
<line x1="68.6" y1="1122.71" x2="185.4" y2="1077.41" stroke="#e3e3e3" stroke-width="0.9" />
<line x1="185.4" y1="1077.41" x2="276.2" y2="1137.31" stroke="#e3e3e3" stroke-width="0.9" />
<line x1="68.6" y1="1156.4" x2="185.4" y2="1111.1" stroke="#e3e3e3" stroke-width="0.9" />
<line x1="185.4" y1="1111.1" x2="276.2" y2="1171" stroke="#e3e3e3" stroke-width="0.9" />
<line x1="68.6" y1="1156.4" x2="68.6" y2="1021.64" stroke="#2b2b2b" stroke-width="1.1" />
<line x1="68.6" y1="1156.4" x2="159.4" y2="1216.3" stroke="#2b2b2b" stroke-width="1.1" />
<line x1="159.4" y1="1216.3" x2="276.2" y2="1171" stroke="#2b2b2b" stroke-width="1.1" />
<line x1="78.16" y1="1162.71" x2="75.39" y2="1163.78" stroke="#2b2b2b" stroke-width="1" />
<line x1="171.69" y1="1211.53" x2="174.08" y2="1213.11" stroke="#2b2b2b" stroke-width="1" />
<line x1="102.05" y1="1178.47" x2="99.29" y2="1179.54" stroke="#2b2b2b" stroke-width="1" />
<line x1="202.43" y1="1199.61" x2="204.82" y2="1201.19" stroke="#2b2b2b" stroke-width="1" />
<line x1="125.95" y1="1194.23" x2="123.18" y2="1195.3" stroke="#2b2b2b" stroke-width="1" />
<line x1="233.17" y1="1187.69" x2="235.56" y2="1189.27" stroke="#2b2b2b" stroke-width="1" />
<line x1="149.84" y1="1209.99" x2="147.08" y2="1211.07" stroke="#2b2b2b" stroke-width="1" />
<line x1="263.91" y1="1175.77" x2="266.29" y2="1177.34" stroke="#2b2b2b" stroke-width="1" />
<line x1="68.6" y1="1021.64" x2="66.21" y2="1020.06" stroke="#2b2b2b" stroke-width="1" />
<text x="61.4" y="1023.74" font-family="Liberation Sans, sans-serif" font-size="15" font-weight="bold" text-anchor="end" fill="#000" textLength="22.94" lengthAdjust="spacingAndGlyphs" >0.6</text>
<line x1="68.6" y1="1055.33" x2="66.21" y2="1053.75" stroke="#2b2b2b" stroke-width="1" />
<text x="61.4" y="1057.43" font-family="Liberation Sans, sans-serif" font-size="15" font-weight="bold" text-anchor="end" fill="#000" textLength="22.94" lengthAdjust="spacingAndGlyphs" >0.3</text>
<line x1="68.6" y1="1089.02" x2="66.21" y2="1087.44" stroke="#2b2b2b" stroke-width="1" />
<text x="61.4" y="1091.12" font-family="Liberation Sans, sans-serif" font-size="15" font-weight="bold" text-anchor="end" fill="#000" textLength="9.17" lengthAdjust="spacingAndGlyphs" >0</text>
<line x1="68.6" y1="1122.71" x2="66.21" y2="1121.13" stroke="#2b2b2b" stroke-width="1" />
<text x="61.4" y="1124.81" font-family="Liberation Sans, sans-serif" font-size="15" font-weight="bold" text-anchor="end" fill="#000" textLength="28.44" lengthAdjust="spacingAndGlyphs" >-0.3</text>
<line x1="68.6" y1="1156.4" x2="66.21" y2="1154.82" stroke="#2b2b2b" stroke-width="1" />
<text x="61.4" y="1158.5" font-family="Liberation Sans, sans-serif" font-size="15" font-weight="bold" text-anchor="end" fill="#000" textLength="28.44" lengthAdjust="spacingAndGlyphs" >-0.6</text>
<polygon points="160.81,1051.01 179.93,1063.62 179.93,1065.87 160.81,1053.26" fill="#7dc45c" stroke="#33401f" stroke-width="0.9" stroke-linejoin="round"/>
<polygon points="179.93,1063.62 204.52,1054.08 204.52,1056.33 179.93,1065.87" fill="#7dc45c" stroke="#33401f" stroke-width="0.9" stroke-linejoin="round"/>
<polygon points="160.81,1051.01 179.93,1063.62 204.52,1054.08 185.4,1041.47" fill="#7dc45c" stroke="#33401f" stroke-width="0.9" stroke-linejoin="round"/>
<polygon points="130.07,1059.56 149.19,1072.17 149.19,1077.79 130.07,1065.18" fill="url(#g1)" stroke="#33401f" stroke-width="0.9" stroke-linejoin="round"/>
<polygon points="149.19,1072.17 173.78,1062.64 173.78,1068.25 149.19,1077.79" fill="url(#g1)" stroke="#33401f" stroke-width="0.9" stroke-linejoin="round"/>
<polygon points="130.07,1059.56 149.19,1072.17 173.78,1062.64 154.66,1050.03" fill="#8aca5d" stroke="#33401f" stroke-width="0.9" stroke-linejoin="round"/>
<polygon points="184.71,1064.53 203.82,1077.14 203.82,1081.63 184.71,1069.02" fill="url(#g2)" stroke="#33401f" stroke-width="0.9" stroke-linejoin="round"/>
<polygon points="203.82,1077.14 228.41,1067.6 228.41,1072.09 203.82,1081.63" fill="url(#g2)" stroke="#33401f" stroke-width="0.9" stroke-linejoin="round"/>
<polygon points="184.71,1064.53 203.82,1077.14 228.41,1067.6 209.29,1054.99" fill="#85c85d" stroke="#33401f" stroke-width="0.9" stroke-linejoin="round"/>
<polygon points="99.34,1074.85 118.45,1087.46 118.45,1089.71 99.34,1077.1" fill="#7dc45c" stroke="#33401f" stroke-width="0.9" stroke-linejoin="round"/>
<polygon points="118.45,1087.46 143.04,1077.93 143.04,1080.17 118.45,1089.71" fill="#7dc45c" stroke="#33401f" stroke-width="0.9" stroke-linejoin="round"/>
<polygon points="99.34,1074.85 118.45,1087.46 143.04,1077.93 123.93,1065.32" fill="#7dc45c" stroke="#33401f" stroke-width="0.9" stroke-linejoin="round"/>
<polygon points="153.97,1079.82 173.08,1092.43 173.08,1093.55 153.97,1080.94" fill="#78c25c" stroke="#33401f" stroke-width="0.9" stroke-linejoin="round"/>
<polygon points="173.08,1092.43 197.67,1082.89 197.67,1084.01 173.08,1093.55" fill="#78c25c" stroke="#33401f" stroke-width="0.9" stroke-linejoin="round"/>
<polygon points="153.97,1079.82 173.08,1092.43 197.67,1082.89 178.56,1070.28" fill="#78c25c" stroke="#33401f" stroke-width="0.9" stroke-linejoin="round"/>
<polygon points="208.6,1083.66 227.72,1096.27 227.72,1097.39 208.6,1084.78" fill="#78c25c" stroke="#33401f" stroke-width="0.9" stroke-linejoin="round"/>
<polygon points="227.72,1096.27 252.31,1086.73 252.31,1087.86 227.72,1097.39" fill="#78c25c" stroke="#33401f" stroke-width="0.9" stroke-linejoin="round"/>
<polygon points="208.6,1083.66 227.72,1096.27 252.31,1086.73 233.19,1074.12" fill="#78c25c" stroke="#33401f" stroke-width="0.9" stroke-linejoin="round"/>
<polygon points="68.6,1042.98 87.72,1055.59 87.72,1101.63 68.6,1089.02" fill="url(#g3)" stroke="#33401f" stroke-width="0.9" stroke-linejoin="round"/>
<polygon points="87.72,1055.59 112.31,1046.05 112.31,1092.09 87.72,1101.63" fill="url(#g3)" stroke="#33401f" stroke-width="0.9" stroke-linejoin="round"/>
<polygon points="68.6,1042.98 87.72,1055.59 112.31,1046.05 93.19,1033.44" fill="#ffff62" stroke="#33401f" stroke-width="0.9" stroke-linejoin="round"/>
<polygon points="123.23,1090.62 142.35,1103.23 142.35,1105.47 123.23,1092.86" fill="#7dc45c" stroke="#33401f" stroke-width="0.9" stroke-linejoin="round"/>
<polygon points="142.35,1103.23 166.94,1093.69 166.94,1095.94 142.35,1105.47" fill="#7dc45c" stroke="#33401f" stroke-width="0.9" stroke-linejoin="round"/>
<polygon points="123.23,1090.62 142.35,1103.23 166.94,1093.69 147.82,1081.08" fill="#7dc45c" stroke="#33401f" stroke-width="0.9" stroke-linejoin="round"/>
<polygon points="177.86,1094.46 196.98,1107.07 196.98,1109.31 177.86,1096.7" fill="#7dc45c" stroke="#33401f" stroke-width="0.9" stroke-linejoin="round"/>
<polygon points="196.98,1107.07 221.57,1097.53 221.57,1099.78 196.98,1109.31" fill="#7dc45c" stroke="#33401f" stroke-width="0.9" stroke-linejoin="round"/>
<polygon points="177.86,1094.46 196.98,1107.07 221.57,1097.53 202.45,1084.92" fill="#7dc45c" stroke="#33401f" stroke-width="0.9" stroke-linejoin="round"/>
<polygon points="232.49,1035.97 251.61,1048.58 251.61,1113.16 232.49,1100.55" fill="url(#g4)" stroke="#33401f" stroke-width="0.9" stroke-linejoin="round"/>
<polygon points="251.61,1048.58 276.2,1039.05 276.2,1103.62 251.61,1113.16" fill="url(#g4)" stroke="#33401f" stroke-width="0.9" stroke-linejoin="round"/>
<polygon points="232.49,1035.97 251.61,1048.58 276.2,1039.05 257.08,1026.44" fill="#ffff62" stroke="#33401f" stroke-width="0.9" stroke-linejoin="round"/>
<polygon points="92.49,1102.54 111.61,1115.15 111.61,1117.39 92.49,1104.78" fill="#7dc45c" stroke="#33401f" stroke-width="0.9" stroke-linejoin="round"/>
<polygon points="111.61,1115.15 136.2,1105.61 136.2,1107.86 111.61,1117.39" fill="#7dc45c" stroke="#33401f" stroke-width="0.9" stroke-linejoin="round"/>
<polygon points="92.49,1102.54 111.61,1115.15 136.2,1105.61 117.08,1093" fill="#7dc45c" stroke="#33401f" stroke-width="0.9" stroke-linejoin="round"/>
<polygon points="147.13,1107.5 166.24,1120.11 166.24,1121.24 147.13,1108.63" fill="#78c25c" stroke="#33401f" stroke-width="0.9" stroke-linejoin="round"/>
<polygon points="166.24,1120.11 190.83,1110.58 190.83,1111.7 166.24,1121.24" fill="#78c25c" stroke="#33401f" stroke-width="0.9" stroke-linejoin="round"/>
<polygon points="147.13,1107.5 166.24,1120.11 190.83,1110.58 171.72,1097.97" fill="#78c25c" stroke="#33401f" stroke-width="0.9" stroke-linejoin="round"/>
<polygon points="201.76,1111.34 220.87,1123.95 220.87,1125.08 201.76,1112.47" fill="#78c25c" stroke="#33401f" stroke-width="0.9" stroke-linejoin="round"/>
<polygon points="220.87,1123.95 245.46,1114.42 245.46,1115.54 220.87,1125.08" fill="#78c25c" stroke="#33401f" stroke-width="0.9" stroke-linejoin="round"/>
<polygon points="201.76,1111.34 220.87,1123.95 245.46,1114.42 226.35,1101.81" fill="#78c25c" stroke="#33401f" stroke-width="0.9" stroke-linejoin="round"/>
<polygon points="116.39,1120.55 135.51,1133.16 135.51,1138.77 116.39,1126.16" fill="url(#g5)" stroke="#33401f" stroke-width="0.9" stroke-linejoin="round"/>
<polygon points="135.51,1133.16 160.09,1123.62 160.09,1129.24 135.51,1138.77" fill="url(#g5)" stroke="#33401f" stroke-width="0.9" stroke-linejoin="round"/>
<polygon points="116.39,1120.55 135.51,1133.16 160.09,1123.62 140.98,1111.01" fill="#74c05c" stroke="#33401f" stroke-width="0.9" stroke-linejoin="round"/>
<polygon points="171.02,1122.14 190.14,1134.75 190.14,1137 171.02,1124.39" fill="#7dc45c" stroke="#33401f" stroke-width="0.9" stroke-linejoin="round"/>
<polygon points="190.14,1134.75 214.73,1125.22 214.73,1127.46 190.14,1137" fill="#7dc45c" stroke="#33401f" stroke-width="0.9" stroke-linejoin="round"/>
<polygon points="171.02,1122.14 190.14,1134.75 214.73,1125.22 195.61,1112.61" fill="#7dc45c" stroke="#33401f" stroke-width="0.9" stroke-linejoin="round"/>
<polygon points="140.28,1134.06 159.4,1146.67 159.4,1148.92 140.28,1136.31" fill="#7dc45c" stroke="#33401f" stroke-width="0.9" stroke-linejoin="round"/>
<polygon points="159.4,1146.67 183.99,1137.14 183.99,1139.38 159.4,1148.92" fill="#7dc45c" stroke="#33401f" stroke-width="0.9" stroke-linejoin="round"/>
<polygon points="140.28,1134.06 159.4,1146.67 183.99,1137.14 164.87,1124.53" fill="#7dc45c" stroke="#33401f" stroke-width="0.9" stroke-linejoin="round"/>
<text transform="matrix(0.866,-0.5,0.479,0.878,69.16,1173.71)" x="0" y="0" font-family="Liberation Sans, sans-serif" font-size="16.5" font-weight="bold" text-anchor="end">|HH&gt;</text>
<text transform="matrix(0.891,0.454,-0.5,0.866,176.19,1223.53)" x="0" y="0" font-family="Liberation Sans, sans-serif" font-size="16.5" font-weight="bold">|HH&gt;</text>
<text transform="matrix(0.866,-0.5,0.479,0.878,93.05,1189.47)" x="0" y="0" font-family="Liberation Sans, sans-serif" font-size="16.5" font-weight="bold" text-anchor="end">|HV&gt;</text>
<text transform="matrix(0.891,0.454,-0.5,0.866,206.93,1211.61)" x="0" y="0" font-family="Liberation Sans, sans-serif" font-size="16.5" font-weight="bold">|HV&gt;</text>
<text transform="matrix(0.866,-0.5,0.479,0.878,116.95,1205.23)" x="0" y="0" font-family="Liberation Sans, sans-serif" font-size="16.5" font-weight="bold" text-anchor="end">|VH&gt;</text>
<text transform="matrix(0.891,0.454,-0.5,0.866,237.67,1199.69)" x="0" y="0" font-family="Liberation Sans, sans-serif" font-size="16.5" font-weight="bold">|VH&gt;</text>
<text transform="matrix(0.866,-0.5,0.479,0.878,140.84,1220.99)" x="0" y="0" font-family="Liberation Sans, sans-serif" font-size="16.5" font-weight="bold" text-anchor="end">|VV&gt;</text>
<text transform="matrix(0.891,0.454,-0.5,0.866,268.41,1187.77)" x="0" y="0" font-family="Liberation Sans, sans-serif" font-size="16.5" font-weight="bold">|VV&gt;</text>
<line x1="78.16" y1="1421.91" x2="194.96" y2="1376.61" stroke="#e3e3e3" stroke-width="0.9" />
<line x1="80.89" y1="1410.83" x2="171.69" y2="1470.73" stroke="#e3e3e3" stroke-width="0.9" />
<line x1="80.89" y1="1410.83" x2="80.89" y2="1276.19" stroke="#e3e3e3" stroke-width="0.9" />
<line x1="194.96" y1="1376.61" x2="194.96" y2="1241.97" stroke="#e3e3e3" stroke-width="0.9" />
<line x1="102.05" y1="1437.67" x2="218.85" y2="1392.37" stroke="#e3e3e3" stroke-width="0.9" />
<line x1="111.63" y1="1398.91" x2="202.43" y2="1458.81" stroke="#e3e3e3" stroke-width="0.9" />
<line x1="111.63" y1="1398.91" x2="111.63" y2="1264.27" stroke="#e3e3e3" stroke-width="0.9" />
<line x1="218.85" y1="1392.37" x2="218.85" y2="1257.73" stroke="#e3e3e3" stroke-width="0.9" />
<line x1="125.95" y1="1453.43" x2="242.75" y2="1408.13" stroke="#e3e3e3" stroke-width="0.9" />
<line x1="142.37" y1="1386.99" x2="233.17" y2="1446.89" stroke="#e3e3e3" stroke-width="0.9" />
<line x1="142.37" y1="1386.99" x2="142.37" y2="1252.35" stroke="#e3e3e3" stroke-width="0.9" />
<line x1="242.75" y1="1408.13" x2="242.75" y2="1273.49" stroke="#e3e3e3" stroke-width="0.9" />
<line x1="149.84" y1="1469.19" x2="266.64" y2="1423.89" stroke="#e3e3e3" stroke-width="0.9" />
<line x1="173.11" y1="1375.07" x2="263.91" y2="1434.97" stroke="#e3e3e3" stroke-width="0.9" />
<line x1="173.11" y1="1375.07" x2="173.11" y2="1240.43" stroke="#e3e3e3" stroke-width="0.9" />
<line x1="266.64" y1="1423.89" x2="266.64" y2="1289.25" stroke="#e3e3e3" stroke-width="0.9" />
<line x1="185.4" y1="1370.3" x2="185.4" y2="1235.66" stroke="#e3e3e3" stroke-width="0.9" />
<line x1="68.6" y1="1280.96" x2="185.4" y2="1235.66" stroke="#e3e3e3" stroke-width="0.9" />
<line x1="185.4" y1="1235.66" x2="276.2" y2="1295.56" stroke="#e3e3e3" stroke-width="0.9" />
<line x1="68.6" y1="1314.62" x2="185.4" y2="1269.32" stroke="#e3e3e3" stroke-width="0.9" />
<line x1="185.4" y1="1269.32" x2="276.2" y2="1329.22" stroke="#e3e3e3" stroke-width="0.9" />
<line x1="68.6" y1="1348.28" x2="185.4" y2="1302.98" stroke="#e3e3e3" stroke-width="0.9" />
<line x1="185.4" y1="1302.98" x2="276.2" y2="1362.88" stroke="#e3e3e3" stroke-width="0.9" />
<line x1="68.6" y1="1381.94" x2="185.4" y2="1336.64" stroke="#e3e3e3" stroke-width="0.9" />
<line x1="185.4" y1="1336.64" x2="276.2" y2="1396.54" stroke="#e3e3e3" stroke-width="0.9" />
<line x1="68.6" y1="1415.6" x2="185.4" y2="1370.3" stroke="#e3e3e3" stroke-width="0.9" />
<line x1="185.4" y1="1370.3" x2="276.2" y2="1430.2" stroke="#e3e3e3" stroke-width="0.9" />
<line x1="68.6" y1="1415.6" x2="68.6" y2="1280.96" stroke="#2b2b2b" stroke-width="1.1" />
<line x1="68.6" y1="1415.6" x2="159.4" y2="1475.5" stroke="#2b2b2b" stroke-width="1.1" />
<line x1="159.4" y1="1475.5" x2="276.2" y2="1430.2" stroke="#2b2b2b" stroke-width="1.1" />
<line x1="78.16" y1="1421.91" x2="75.39" y2="1422.98" stroke="#2b2b2b" stroke-width="1" />
<line x1="171.69" y1="1470.73" x2="174.08" y2="1472.31" stroke="#2b2b2b" stroke-width="1" />
<line x1="102.05" y1="1437.67" x2="99.29" y2="1438.74" stroke="#2b2b2b" stroke-width="1" />
<line x1="202.43" y1="1458.81" x2="204.82" y2="1460.39" stroke="#2b2b2b" stroke-width="1" />
<line x1="125.95" y1="1453.43" x2="123.18" y2="1454.5" stroke="#2b2b2b" stroke-width="1" />
<line x1="233.17" y1="1446.89" x2="235.56" y2="1448.47" stroke="#2b2b2b" stroke-width="1" />
<line x1="149.84" y1="1469.19" x2="147.08" y2="1470.27" stroke="#2b2b2b" stroke-width="1" />
<line x1="263.91" y1="1434.97" x2="266.29" y2="1436.54" stroke="#2b2b2b" stroke-width="1" />
<line x1="68.6" y1="1280.96" x2="66.21" y2="1279.38" stroke="#2b2b2b" stroke-width="1" />
<text x="61.4" y="1283.06" font-family="Liberation Sans, sans-serif" font-size="15" font-weight="bold" text-anchor="end" fill="#000" textLength="22.94" lengthAdjust="spacingAndGlyphs" >0.6</text>
<line x1="68.6" y1="1314.62" x2="66.21" y2="1313.04" stroke="#2b2b2b" stroke-width="1" />
<text x="61.4" y="1316.72" font-family="Liberation Sans, sans-serif" font-size="15" font-weight="bold" text-anchor="end" fill="#000" textLength="22.94" lengthAdjust="spacingAndGlyphs" >0.3</text>
<line x1="68.6" y1="1348.28" x2="66.21" y2="1346.7" stroke="#2b2b2b" stroke-width="1" />
<text x="61.4" y="1350.38" font-family="Liberation Sans, sans-serif" font-size="15" font-weight="bold" text-anchor="end" fill="#000" textLength="9.17" lengthAdjust="spacingAndGlyphs" >0</text>
<line x1="68.6" y1="1381.94" x2="66.21" y2="1380.36" stroke="#2b2b2b" stroke-width="1" />
<text x="61.4" y="1384.04" font-family="Liberation Sans, sans-serif" font-size="15" font-weight="bold" text-anchor="end" fill="#000" textLength="28.44" lengthAdjust="spacingAndGlyphs" >-0.3</text>
<line x1="68.6" y1="1415.6" x2="66.21" y2="1414.02" stroke="#2b2b2b" stroke-width="1" />
<text x="61.4" y="1417.7" font-family="Liberation Sans, sans-serif" font-size="15" font-weight="bold" text-anchor="end" fill="#000" textLength="28.44" lengthAdjust="spacingAndGlyphs" >-0.6</text>
<polygon points="160.81,1262.03 179.93,1274.64 179.93,1325.13 160.81,1312.52" fill="url(#g6)" stroke="#33401f" stroke-width="0.9" stroke-linejoin="round"/>
<polygon points="179.93,1274.64 204.52,1265.1 204.52,1315.59 179.93,1325.13" fill="url(#g6)" stroke="#33401f" stroke-width="0.9" stroke-linejoin="round"/>
<polygon points="160.81,1262.03 179.93,1274.64 204.52,1265.1 185.4,1252.49" fill="#ffff62" stroke="#33401f" stroke-width="0.9" stroke-linejoin="round"/>
<polygon points="130.07,1322.19 149.19,1334.8 149.19,1337.05 130.07,1324.44" fill="#7dc45c" stroke="#33401f" stroke-width="0.9" stroke-linejoin="round"/>
<polygon points="149.19,1334.8 173.78,1325.27 173.78,1327.51 149.19,1337.05" fill="#7dc45c" stroke="#33401f" stroke-width="0.9" stroke-linejoin="round"/>
<polygon points="130.07,1322.19 149.19,1334.8 173.78,1325.27 154.66,1312.66" fill="#7dc45c" stroke="#33401f" stroke-width="0.9" stroke-linejoin="round"/>
<polygon points="184.71,1327.16 203.82,1339.77 203.82,1340.89 184.71,1328.28" fill="#78c25c" stroke="#33401f" stroke-width="0.9" stroke-linejoin="round"/>
<polygon points="203.82,1339.77 228.41,1330.23 228.41,1331.35 203.82,1340.89" fill="#78c25c" stroke="#33401f" stroke-width="0.9" stroke-linejoin="round"/>
<polygon points="184.71,1327.16 203.82,1339.77 228.41,1330.23 209.29,1317.62" fill="#78c25c" stroke="#33401f" stroke-width="0.9" stroke-linejoin="round"/>
<polygon points="99.34,1335.24 118.45,1347.85 118.45,1348.97 99.34,1336.36" fill="#78c25c" stroke="#33401f" stroke-width="0.9" stroke-linejoin="round"/>
<polygon points="118.45,1347.85 143.04,1338.31 143.04,1339.43 118.45,1348.97" fill="#78c25c" stroke="#33401f" stroke-width="0.9" stroke-linejoin="round"/>
<polygon points="99.34,1335.24 118.45,1347.85 143.04,1338.31 123.93,1325.7" fill="#78c25c" stroke="#33401f" stroke-width="0.9" stroke-linejoin="round"/>
<polygon points="153.97,1339.08 173.08,1351.69 173.08,1352.81 153.97,1340.2" fill="#78c25c" stroke="#33401f" stroke-width="0.9" stroke-linejoin="round"/>
<polygon points="173.08,1351.69 197.67,1342.15 197.67,1343.27 173.08,1352.81" fill="#78c25c" stroke="#33401f" stroke-width="0.9" stroke-linejoin="round"/>
<polygon points="153.97,1339.08 173.08,1351.69 197.67,1342.15 178.56,1329.54" fill="#78c25c" stroke="#33401f" stroke-width="0.9" stroke-linejoin="round"/>
<polygon points="208.6,1344.04 227.72,1356.65 227.72,1364.51 208.6,1351.9" fill="url(#g7)" stroke="#33401f" stroke-width="0.9" stroke-linejoin="round"/>
<polygon points="227.72,1356.65 252.31,1347.12 252.31,1354.97 227.72,1364.51" fill="url(#g7)" stroke="#33401f" stroke-width="0.9" stroke-linejoin="round"/>
<polygon points="208.6,1344.04 227.72,1356.65 252.31,1347.12 233.19,1334.51" fill="#74c05c" stroke="#33401f" stroke-width="0.9" stroke-linejoin="round"/>
<polygon points="68.6,1347.83 87.72,1360.44 87.72,1360.89 68.6,1348.28" fill="#76c15c" stroke="#33401f" stroke-width="0.9" stroke-linejoin="round"/>
<polygon points="87.72,1360.44 112.31,1350.9 112.31,1351.35 87.72,1360.89" fill="#76c15c" stroke="#33401f" stroke-width="0.9" stroke-linejoin="round"/>
<polygon points="68.6,1347.83 87.72,1360.44 112.31,1350.9 93.19,1338.29" fill="#76c15c" stroke="#33401f" stroke-width="0.9" stroke-linejoin="round"/>
<polygon points="123.23,1351.67 142.35,1364.28 142.35,1364.73 123.23,1352.12" fill="#76c15c" stroke="#33401f" stroke-width="0.9" stroke-linejoin="round"/>
<polygon points="142.35,1364.28 166.94,1354.75 166.94,1355.2 142.35,1364.73" fill="#76c15c" stroke="#33401f" stroke-width="0.9" stroke-linejoin="round"/>
<polygon points="123.23,1351.67 142.35,1364.28 166.94,1354.75 147.82,1342.14" fill="#76c15c" stroke="#33401f" stroke-width="0.9" stroke-linejoin="round"/>
<polygon points="177.86,1355.52 196.98,1368.13 196.98,1368.57 177.86,1355.96" fill="#76c15c" stroke="#33401f" stroke-width="0.9" stroke-linejoin="round"/>
<polygon points="196.98,1368.13 221.57,1358.59 221.57,1359.04 196.98,1368.57" fill="#76c15c" stroke="#33401f" stroke-width="0.9" stroke-linejoin="round"/>
<polygon points="177.86,1355.52 196.98,1368.13 221.57,1358.59 202.45,1345.98" fill="#76c15c" stroke="#33401f" stroke-width="0.9" stroke-linejoin="round"/>
<polygon points="232.49,1359.36 251.61,1371.97 251.61,1372.42 232.49,1359.81" fill="#76c15c" stroke="#33401f" stroke-width="0.9" stroke-linejoin="round"/>
<polygon points="251.61,1371.97 276.2,1362.43 276.2,1362.88 251.61,1372.42" fill="#76c15c" stroke="#33401f" stroke-width="0.9" stroke-linejoin="round"/>
<polygon points="232.49,1359.36 251.61,1371.97 276.2,1362.43 257.08,1349.82" fill="#76c15c" stroke="#33401f" stroke-width="0.9" stroke-linejoin="round"/>
<polygon points="92.49,1364.04 111.61,1376.65 111.61,1377.78 92.49,1365.17" fill="#74c05c" stroke="#33401f" stroke-width="0.9" stroke-linejoin="round"/>
<polygon points="111.61,1376.65 136.2,1367.12 136.2,1368.24 111.61,1377.78" fill="#74c05c" stroke="#33401f" stroke-width="0.9" stroke-linejoin="round"/>
<polygon points="92.49,1364.04 111.61,1376.65 136.2,1367.12 117.08,1354.51" fill="#74c05c" stroke="#33401f" stroke-width="0.9" stroke-linejoin="round"/>
<polygon points="147.13,1367.89 166.24,1380.5 166.24,1381.62 147.13,1369.01" fill="#74c05c" stroke="#33401f" stroke-width="0.9" stroke-linejoin="round"/>
<polygon points="166.24,1380.5 190.83,1370.96 190.83,1372.08 166.24,1381.62" fill="#74c05c" stroke="#33401f" stroke-width="0.9" stroke-linejoin="round"/>
<polygon points="147.13,1367.89 166.24,1380.5 190.83,1370.96 171.72,1358.35" fill="#74c05c" stroke="#33401f" stroke-width="0.9" stroke-linejoin="round"/>
<polygon points="201.76,1363.87 220.87,1376.48 220.87,1384.34 201.76,1371.73" fill="url(#g8)" stroke="#33401f" stroke-width="0.9" stroke-linejoin="round"/>
<polygon points="220.87,1376.48 245.46,1366.95 245.46,1374.8 220.87,1384.34" fill="url(#g8)" stroke="#33401f" stroke-width="0.9" stroke-linejoin="round"/>
<polygon points="201.76,1363.87 220.87,1376.48 245.46,1366.95 226.35,1354.34" fill="#92ce5d" stroke="#33401f" stroke-width="0.9" stroke-linejoin="round"/>
<polygon points="116.39,1379.81 135.51,1392.42 135.51,1394.66 116.39,1382.05" fill="#74c05c" stroke="#33401f" stroke-width="0.9" stroke-linejoin="round"/>
<polygon points="135.51,1392.42 160.09,1382.88 160.09,1385.12 135.51,1394.66" fill="#74c05c" stroke="#33401f" stroke-width="0.9" stroke-linejoin="round"/>
<polygon points="116.39,1379.81 135.51,1392.42 160.09,1382.88 140.98,1370.27" fill="#74c05c" stroke="#33401f" stroke-width="0.9" stroke-linejoin="round"/>
<polygon points="171.02,1383.65 190.14,1396.26 190.14,1397.38 171.02,1384.77" fill="#74c05c" stroke="#33401f" stroke-width="0.9" stroke-linejoin="round"/>
<polygon points="190.14,1396.26 214.73,1386.72 214.73,1387.84 190.14,1397.38" fill="#74c05c" stroke="#33401f" stroke-width="0.9" stroke-linejoin="round"/>
<polygon points="171.02,1383.65 190.14,1396.26 214.73,1386.72 195.61,1374.11" fill="#74c05c" stroke="#33401f" stroke-width="0.9" stroke-linejoin="round"/>
<polygon points="140.28,1395.57 159.4,1408.18 159.4,1460.91 140.28,1448.3" fill="url(#g9)" stroke="#33401f" stroke-width="0.9" stroke-linejoin="round"/>
<polygon points="159.4,1408.18 183.99,1398.64 183.99,1451.38 159.4,1460.91" fill="url(#g9)" stroke="#33401f" stroke-width="0.9" stroke-linejoin="round"/>
<polygon points="140.28,1395.57 159.4,1408.18 183.99,1398.64 164.87,1386.03" fill="#74c05c" stroke="#33401f" stroke-width="0.9" stroke-linejoin="round"/>
<text transform="matrix(0.866,-0.5,0.479,0.878,69.16,1432.91)" x="0" y="0" font-family="Liberation Sans, sans-serif" font-size="16.5" font-weight="bold" text-anchor="end">|HH&gt;</text>
<text transform="matrix(0.891,0.454,-0.5,0.866,176.19,1482.73)" x="0" y="0" font-family="Liberation Sans, sans-serif" font-size="16.5" font-weight="bold">|HH&gt;</text>
<text transform="matrix(0.866,-0.5,0.479,0.878,93.05,1448.67)" x="0" y="0" font-family="Liberation Sans, sans-serif" font-size="16.5" font-weight="bold" text-anchor="end">|HV&gt;</text>
<text transform="matrix(0.891,0.454,-0.5,0.866,206.93,1470.81)" x="0" y="0" font-family="Liberation Sans, sans-serif" font-size="16.5" font-weight="bold">|HV&gt;</text>
<text transform="matrix(0.866,-0.5,0.479,0.878,116.95,1464.43)" x="0" y="0" font-family="Liberation Sans, sans-serif" font-size="16.5" font-weight="bold" text-anchor="end">|VH&gt;</text>
<text transform="matrix(0.891,0.454,-0.5,0.866,237.67,1458.89)" x="0" y="0" font-family="Liberation Sans, sans-serif" font-size="16.5" font-weight="bold">|VH&gt;</text>
<text transform="matrix(0.866,-0.5,0.479,0.878,140.84,1480.19)" x="0" y="0" font-family="Liberation Sans, sans-serif" font-size="16.5" font-weight="bold" text-anchor="end">|VV&gt;</text>
<text transform="matrix(0.891,0.454,-0.5,0.866,268.41,1446.97)" x="0" y="0" font-family="Liberation Sans, sans-serif" font-size="16.5" font-weight="bold">|VV&gt;</text>
<text x="334" y="961.6" font-family="Liberation Sans, sans-serif" font-size="41.5" font-weight="bold" text-anchor="start" fill="#000" letter-spacing="1.7">(e)</text>
<text x="438.9" y="984.2" font-family="Liberation Sans, sans-serif" font-size="31.5" font-weight="bold" text-anchor="start" fill="#000" textLength="46.3" lengthAdjust="spacingAndGlyphs" >CH</text>
<text x="484.4" y="993" font-family="Liberation Sans, sans-serif" font-size="18.2" font-weight="bold" font-style="italic" text-anchor="start" fill="#000" >&#945;</text>
<text x="495.9" y="997" font-family="Liberation Serif, sans-serif" font-size="13.2" font-weight="normal" text-anchor="start" fill="#000" >3</text>
<text x="504.5" y="993.3" font-family="Liberation Sans, sans-serif" font-size="15" font-weight="bold" text-anchor="start" fill="#000" >,</text>
<text x="511.4" y="992.6" font-family="Liberation Sans, sans-serif" font-size="18.2" font-weight="bold" font-style="italic" text-anchor="start" fill="#000" >&#946;</text>
<text x="522.1" y="997.4" font-family="Liberation Serif, sans-serif" font-size="13.2" font-weight="normal" text-anchor="start" fill="#000" >3</text>
<text transform="rotate(-90 355.5 1086.2)" x="355.5" y="1086.2" font-family="Liberation Sans, sans-serif" font-size="25.3" font-weight="bold" text-anchor="middle">Re(<tspan font-family="Liberation Serif, serif" font-weight="normal">&#961;</tspan>)</text>
<text transform="rotate(-90 355.5 1354.1)" x="355.5" y="1354.1" font-family="Liberation Sans, sans-serif" font-size="25.3" font-weight="bold" text-anchor="middle">Im(<tspan font-family="Liberation Serif, serif" font-weight="normal">&#961;</tspan>)</text>
<line x1="411.72" y1="1161.52" x2="526.42" y2="1117.82" stroke="#e3e3e3" stroke-width="0.9" />
<line x1="414.57" y1="1150.8" x2="502.17" y2="1208.9" stroke="#e3e3e3" stroke-width="0.9" />
<line x1="414.57" y1="1150.8" x2="414.57" y2="1019.5" stroke="#e3e3e3" stroke-width="0.9" />
<line x1="526.42" y1="1117.82" x2="526.42" y2="986.52" stroke="#e3e3e3" stroke-width="0.9" />
<line x1="434.77" y1="1176.81" x2="549.47" y2="1133.11" stroke="#e3e3e3" stroke-width="0.9" />
<line x1="444.76" y1="1139.3" x2="532.36" y2="1197.4" stroke="#e3e3e3" stroke-width="0.9" />
<line x1="444.76" y1="1139.3" x2="444.76" y2="1008" stroke="#e3e3e3" stroke-width="0.9" />
<line x1="549.47" y1="1133.11" x2="549.47" y2="1001.81" stroke="#e3e3e3" stroke-width="0.9" />
<line x1="457.83" y1="1192.09" x2="572.53" y2="1148.39" stroke="#e3e3e3" stroke-width="0.9" />
<line x1="474.94" y1="1127.8" x2="562.54" y2="1185.9" stroke="#e3e3e3" stroke-width="0.9" />
<line x1="474.94" y1="1127.8" x2="474.94" y2="996.5" stroke="#e3e3e3" stroke-width="0.9" />
<line x1="572.53" y1="1148.39" x2="572.53" y2="1017.09" stroke="#e3e3e3" stroke-width="0.9" />
<line x1="480.88" y1="1207.38" x2="595.58" y2="1163.68" stroke="#e3e3e3" stroke-width="0.9" />
<line x1="505.13" y1="1116.3" x2="592.73" y2="1174.4" stroke="#e3e3e3" stroke-width="0.9" />
<line x1="505.13" y1="1116.3" x2="505.13" y2="985" stroke="#e3e3e3" stroke-width="0.9" />
<line x1="595.58" y1="1163.68" x2="595.58" y2="1032.38" stroke="#e3e3e3" stroke-width="0.9" />
<line x1="517.2" y1="1111.7" x2="517.2" y2="980.4" stroke="#e3e3e3" stroke-width="0.9" />
<line x1="402.5" y1="1024.1" x2="517.2" y2="980.4" stroke="#e3e3e3" stroke-width="0.9" />
<line x1="517.2" y1="980.4" x2="604.8" y2="1038.5" stroke="#e3e3e3" stroke-width="0.9" />
<line x1="402.5" y1="1056.93" x2="517.2" y2="1013.23" stroke="#e3e3e3" stroke-width="0.9" />
<line x1="517.2" y1="1013.23" x2="604.8" y2="1071.33" stroke="#e3e3e3" stroke-width="0.9" />
<line x1="402.5" y1="1089.75" x2="517.2" y2="1046.05" stroke="#e3e3e3" stroke-width="0.9" />
<line x1="517.2" y1="1046.05" x2="604.8" y2="1104.15" stroke="#e3e3e3" stroke-width="0.9" />
<line x1="402.5" y1="1122.58" x2="517.2" y2="1078.88" stroke="#e3e3e3" stroke-width="0.9" />
<line x1="517.2" y1="1078.88" x2="604.8" y2="1136.97" stroke="#e3e3e3" stroke-width="0.9" />
<line x1="402.5" y1="1155.4" x2="517.2" y2="1111.7" stroke="#e3e3e3" stroke-width="0.9" />
<line x1="517.2" y1="1111.7" x2="604.8" y2="1169.8" stroke="#e3e3e3" stroke-width="0.9" />
<line x1="402.5" y1="1155.4" x2="402.5" y2="1024.1" stroke="#2b2b2b" stroke-width="1.1" />
<line x1="402.5" y1="1155.4" x2="490.1" y2="1213.5" stroke="#2b2b2b" stroke-width="1.1" />
<line x1="490.1" y1="1213.5" x2="604.8" y2="1169.8" stroke="#2b2b2b" stroke-width="1.1" />
<line x1="411.72" y1="1161.52" x2="409" y2="1162.55" stroke="#2b2b2b" stroke-width="1" />
<line x1="502.17" y1="1208.9" x2="504.48" y2="1210.43" stroke="#2b2b2b" stroke-width="1" />
<line x1="434.77" y1="1176.81" x2="432.06" y2="1177.84" stroke="#2b2b2b" stroke-width="1" />
<line x1="532.36" y1="1197.4" x2="534.66" y2="1198.93" stroke="#2b2b2b" stroke-width="1" />
<line x1="457.83" y1="1192.09" x2="455.11" y2="1193.13" stroke="#2b2b2b" stroke-width="1" />
<line x1="562.54" y1="1185.9" x2="564.85" y2="1187.43" stroke="#2b2b2b" stroke-width="1" />
<line x1="480.88" y1="1207.38" x2="478.16" y2="1208.42" stroke="#2b2b2b" stroke-width="1" />
<line x1="592.73" y1="1174.4" x2="595.03" y2="1175.93" stroke="#2b2b2b" stroke-width="1" />
<line x1="402.5" y1="1024.1" x2="400.19" y2="1022.57" stroke="#2b2b2b" stroke-width="1" />
<text x="395.3" y="1026.2" font-family="Liberation Sans, sans-serif" font-size="15" font-weight="bold" text-anchor="end" fill="#000" textLength="22.94" lengthAdjust="spacingAndGlyphs" >0.5</text>
<line x1="402.5" y1="1056.93" x2="400.19" y2="1055.4" stroke="#2b2b2b" stroke-width="1" />
<text x="395.3" y="1059.03" font-family="Liberation Sans, sans-serif" font-size="15" font-weight="bold" text-anchor="end" fill="#000" textLength="32.11" lengthAdjust="spacingAndGlyphs" >0.25</text>
<line x1="402.5" y1="1089.75" x2="400.19" y2="1088.22" stroke="#2b2b2b" stroke-width="1" />
<text x="395.3" y="1091.85" font-family="Liberation Sans, sans-serif" font-size="15" font-weight="bold" text-anchor="end" fill="#000" textLength="9.17" lengthAdjust="spacingAndGlyphs" >0</text>
<line x1="402.5" y1="1122.58" x2="400.19" y2="1121.05" stroke="#2b2b2b" stroke-width="1" />
<text x="395.3" y="1124.67" font-family="Liberation Sans, sans-serif" font-size="15" font-weight="bold" text-anchor="end" fill="#000" textLength="37.61" lengthAdjust="spacingAndGlyphs" >-0.25</text>
<line x1="402.5" y1="1155.4" x2="400.19" y2="1153.87" stroke="#2b2b2b" stroke-width="1" />
<text x="395.3" y="1157.5" font-family="Liberation Sans, sans-serif" font-size="15" font-weight="bold" text-anchor="end" fill="#000" textLength="28.44" lengthAdjust="spacingAndGlyphs" >-0.5</text>
<polygon points="493.05,1052.62 511.49,1064.86 511.49,1067.48 493.05,1055.25" fill="#80c55c" stroke="#33401f" stroke-width="0.9" stroke-linejoin="round"/>
<polygon points="511.49,1064.86 535.64,1055.66 535.64,1058.28 511.49,1067.48" fill="#80c55c" stroke="#33401f" stroke-width="0.9" stroke-linejoin="round"/>
<polygon points="493.05,1052.62 511.49,1064.86 535.64,1055.66 517.2,1043.42" fill="#80c55c" stroke="#33401f" stroke-width="0.9" stroke-linejoin="round"/>
<polygon points="462.87,1064.12 481.31,1076.36 481.31,1078.98 462.87,1066.75" fill="#80c55c" stroke="#33401f" stroke-width="0.9" stroke-linejoin="round"/>
<polygon points="481.31,1076.36 505.46,1067.16 505.46,1069.78 481.31,1078.98" fill="#80c55c" stroke="#33401f" stroke-width="0.9" stroke-linejoin="round"/>
<polygon points="462.87,1064.12 481.31,1076.36 505.46,1067.16 487.02,1054.92" fill="#80c55c" stroke="#33401f" stroke-width="0.9" stroke-linejoin="round"/>
<polygon points="516.11,1067.91 534.55,1080.15 534.55,1082.77 516.11,1070.54" fill="#80c55c" stroke="#33401f" stroke-width="0.9" stroke-linejoin="round"/>
<polygon points="534.55,1080.15 558.69,1070.95 558.69,1073.57 534.55,1082.77" fill="#80c55c" stroke="#33401f" stroke-width="0.9" stroke-linejoin="round"/>
<polygon points="516.11,1067.91 534.55,1080.15 558.69,1070.95 540.25,1058.71" fill="#80c55c" stroke="#33401f" stroke-width="0.9" stroke-linejoin="round"/>
<polygon points="432.68,1078.25 451.13,1090.48 451.13,1125.93 432.68,1113.7" fill="url(#g10)" stroke="#33401f" stroke-width="0.9" stroke-linejoin="round"/>
<polygon points="451.13,1090.48 475.27,1081.28 475.27,1116.73 451.13,1125.93" fill="url(#g10)" stroke="#33401f" stroke-width="0.9" stroke-linejoin="round"/>
<polygon points="432.68,1078.25 451.13,1090.48 475.27,1081.28 456.83,1069.05" fill="#74c05c" stroke="#33401f" stroke-width="0.9" stroke-linejoin="round"/>
<polygon points="485.92,1079.41 504.36,1091.65 504.36,1094.27 485.92,1082.04" fill="#80c55c" stroke="#33401f" stroke-width="0.9" stroke-linejoin="round"/>
<polygon points="504.36,1091.65 528.51,1082.45 528.51,1085.07 504.36,1094.27" fill="#80c55c" stroke="#33401f" stroke-width="0.9" stroke-linejoin="round"/>
<polygon points="485.92,1079.41 504.36,1091.65 528.51,1082.45 510.07,1070.21" fill="#80c55c" stroke="#33401f" stroke-width="0.9" stroke-linejoin="round"/>
<polygon points="539.16,1056.94 557.6,1069.17 557.6,1098.06 539.16,1085.83" fill="url(#g11)" stroke="#33401f" stroke-width="0.9" stroke-linejoin="round"/>
<polygon points="557.6,1069.17 581.75,1059.97 581.75,1088.86 557.6,1098.06" fill="url(#g11)" stroke="#33401f" stroke-width="0.9" stroke-linejoin="round"/>
<polygon points="539.16,1056.94 557.6,1069.17 581.75,1059.97 563.31,1047.74" fill="#f3fa62" stroke="#33401f" stroke-width="0.9" stroke-linejoin="round"/>
<polygon points="402.5,1060.21 420.94,1072.44 420.94,1101.98 402.5,1089.75" fill="url(#g12)" stroke="#33401f" stroke-width="0.9" stroke-linejoin="round"/>
<polygon points="420.94,1072.44 445.09,1063.24 445.09,1092.78 420.94,1101.98" fill="url(#g12)" stroke="#33401f" stroke-width="0.9" stroke-linejoin="round"/>
<polygon points="402.5,1060.21 420.94,1072.44 445.09,1063.24 426.65,1051.01" fill="#f6fb62" stroke="#33401f" stroke-width="0.9" stroke-linejoin="round"/>
<polygon points="455.74,1058.09 474.18,1070.32 474.18,1105.77 455.74,1093.54" fill="url(#g13)" stroke="#33401f" stroke-width="0.9" stroke-linejoin="round"/>
<polygon points="474.18,1070.32 498.33,1061.12 498.33,1096.57 474.18,1105.77" fill="url(#g13)" stroke="#33401f" stroke-width="0.9" stroke-linejoin="round"/>
<polygon points="455.74,1058.09 474.18,1070.32 498.33,1061.12 479.88,1048.89" fill="#ffff62" stroke="#33401f" stroke-width="0.9" stroke-linejoin="round"/>
<polygon points="508.97,1064.5 527.42,1076.74 527.42,1109.56 508.97,1097.33" fill="url(#g14)" stroke="#33401f" stroke-width="0.9" stroke-linejoin="round"/>
<polygon points="527.42,1076.74 551.56,1067.54 551.56,1100.36 527.42,1109.56" fill="url(#g14)" stroke="#33401f" stroke-width="0.9" stroke-linejoin="round"/>
<polygon points="508.97,1064.5 527.42,1076.74 551.56,1067.54 533.12,1055.3" fill="#ffff62" stroke="#33401f" stroke-width="0.9" stroke-linejoin="round"/>
<polygon points="562.21,1074.86 580.65,1087.09 580.65,1113.35 562.21,1101.12" fill="url(#g15)" stroke="#33401f" stroke-width="0.9" stroke-linejoin="round"/>
<polygon points="580.65,1087.09 604.8,1077.89 604.8,1104.15 580.65,1113.35" fill="url(#g15)" stroke="#33401f" stroke-width="0.9" stroke-linejoin="round"/>
<polygon points="562.21,1074.86 580.65,1087.09 604.8,1077.89 586.36,1065.66" fill="#e8f461" stroke="#33401f" stroke-width="0.9" stroke-linejoin="round"/>
<polygon points="425.55,1105.04 443.99,1117.27 443.99,1152.72 425.55,1140.49" fill="url(#g16)" stroke="#33401f" stroke-width="0.9" stroke-linejoin="round"/>
<polygon points="443.99,1117.27 468.14,1108.07 468.14,1143.52 443.99,1152.72" fill="url(#g16)" stroke="#33401f" stroke-width="0.9" stroke-linejoin="round"/>
<polygon points="425.55,1105.04 443.99,1117.27 468.14,1108.07 449.7,1095.84" fill="#74c05c" stroke="#33401f" stroke-width="0.9" stroke-linejoin="round"/>
<polygon points="478.79,1106.2 497.23,1118.43 497.23,1121.06 478.79,1108.83" fill="#80c55c" stroke="#33401f" stroke-width="0.9" stroke-linejoin="round"/>
<polygon points="497.23,1118.43 521.38,1109.23 521.38,1111.86 497.23,1121.06" fill="#80c55c" stroke="#33401f" stroke-width="0.9" stroke-linejoin="round"/>
<polygon points="478.79,1106.2 497.23,1118.43 521.38,1109.23 502.94,1097" fill="#80c55c" stroke="#33401f" stroke-width="0.9" stroke-linejoin="round"/>
<polygon points="532.03,1085.05 550.47,1097.28 550.47,1124.85 532.03,1112.62" fill="url(#g17)" stroke="#33401f" stroke-width="0.9" stroke-linejoin="round"/>
<polygon points="550.47,1097.28 574.62,1088.08 574.62,1115.65 550.47,1124.85" fill="url(#g17)" stroke="#33401f" stroke-width="0.9" stroke-linejoin="round"/>
<polygon points="532.03,1085.05 550.47,1097.28 574.62,1088.08 556.17,1075.85" fill="#eef761" stroke="#33401f" stroke-width="0.9" stroke-linejoin="round"/>
<polygon points="448.61,1116.39 467.05,1128.62 467.05,1132.56 448.61,1120.33" fill="url(#g18)" stroke="#33401f" stroke-width="0.9" stroke-linejoin="round"/>
<polygon points="467.05,1128.62 491.19,1119.42 491.19,1123.36 467.05,1132.56" fill="url(#g18)" stroke="#33401f" stroke-width="0.9" stroke-linejoin="round"/>
<polygon points="448.61,1116.39 467.05,1128.62 491.19,1119.42 472.75,1107.19" fill="#85c85d" stroke="#33401f" stroke-width="0.9" stroke-linejoin="round"/>
<polygon points="501.84,1118.87 520.28,1131.1 520.28,1136.35 501.84,1124.12" fill="url(#g19)" stroke="#33401f" stroke-width="0.9" stroke-linejoin="round"/>
<polygon points="520.28,1131.1 544.43,1121.9 544.43,1127.15 520.28,1136.35" fill="url(#g19)" stroke="#33401f" stroke-width="0.9" stroke-linejoin="round"/>
<polygon points="501.84,1118.87 520.28,1131.1 544.43,1121.9 525.99,1109.67" fill="#8bca5d" stroke="#33401f" stroke-width="0.9" stroke-linejoin="round"/>
<polygon points="471.66,1132.99 490.1,1145.22 490.1,1147.85 471.66,1135.62" fill="#80c55c" stroke="#33401f" stroke-width="0.9" stroke-linejoin="round"/>
<polygon points="490.1,1145.22 514.25,1136.02 514.25,1138.65 490.1,1147.85" fill="#80c55c" stroke="#33401f" stroke-width="0.9" stroke-linejoin="round"/>
<polygon points="471.66,1132.99 490.1,1145.22 514.25,1136.02 495.81,1123.79" fill="#80c55c" stroke="#33401f" stroke-width="0.9" stroke-linejoin="round"/>
<text transform="matrix(0.866,-0.5,0.479,0.878,402.72,1172.52)" x="0" y="0" font-family="Liberation Sans, sans-serif" font-size="16.5" font-weight="bold" text-anchor="end">|HH&gt;</text>
<text transform="matrix(0.891,0.454,-0.5,0.866,506.67,1220.9)" x="0" y="0" font-family="Liberation Sans, sans-serif" font-size="16.5" font-weight="bold">|HH&gt;</text>
<text transform="matrix(0.866,-0.5,0.479,0.878,425.77,1187.81)" x="0" y="0" font-family="Liberation Sans, sans-serif" font-size="16.5" font-weight="bold" text-anchor="end">|HV&gt;</text>
<text transform="matrix(0.891,0.454,-0.5,0.866,536.86,1209.4)" x="0" y="0" font-family="Liberation Sans, sans-serif" font-size="16.5" font-weight="bold">|HV&gt;</text>
<text transform="matrix(0.866,-0.5,0.479,0.878,448.83,1203.09)" x="0" y="0" font-family="Liberation Sans, sans-serif" font-size="16.5" font-weight="bold" text-anchor="end">|VH&gt;</text>
<text transform="matrix(0.891,0.454,-0.5,0.866,567.04,1197.9)" x="0" y="0" font-family="Liberation Sans, sans-serif" font-size="16.5" font-weight="bold">|VH&gt;</text>
<text transform="matrix(0.866,-0.5,0.479,0.878,471.88,1218.38)" x="0" y="0" font-family="Liberation Sans, sans-serif" font-size="16.5" font-weight="bold" text-anchor="end">|VV&gt;</text>
<text transform="matrix(0.891,0.454,-0.5,0.866,597.23,1186.4)" x="0" y="0" font-family="Liberation Sans, sans-serif" font-size="16.5" font-weight="bold">|VV&gt;</text>
<line x1="411.72" y1="1420.72" x2="526.42" y2="1377.02" stroke="#e3e3e3" stroke-width="0.9" />
<line x1="414.57" y1="1410" x2="502.17" y2="1468.1" stroke="#e3e3e3" stroke-width="0.9" />
<line x1="414.57" y1="1410" x2="414.57" y2="1278.8" stroke="#e3e3e3" stroke-width="0.9" />
<line x1="526.42" y1="1377.02" x2="526.42" y2="1245.82" stroke="#e3e3e3" stroke-width="0.9" />
<line x1="434.77" y1="1436.01" x2="549.47" y2="1392.31" stroke="#e3e3e3" stroke-width="0.9" />
<line x1="444.76" y1="1398.5" x2="532.36" y2="1456.6" stroke="#e3e3e3" stroke-width="0.9" />
<line x1="444.76" y1="1398.5" x2="444.76" y2="1267.3" stroke="#e3e3e3" stroke-width="0.9" />
<line x1="549.47" y1="1392.31" x2="549.47" y2="1261.11" stroke="#e3e3e3" stroke-width="0.9" />
<line x1="457.83" y1="1451.29" x2="572.53" y2="1407.59" stroke="#e3e3e3" stroke-width="0.9" />
<line x1="474.94" y1="1387" x2="562.54" y2="1445.1" stroke="#e3e3e3" stroke-width="0.9" />
<line x1="474.94" y1="1387" x2="474.94" y2="1255.8" stroke="#e3e3e3" stroke-width="0.9" />
<line x1="572.53" y1="1407.59" x2="572.53" y2="1276.39" stroke="#e3e3e3" stroke-width="0.9" />
<line x1="480.88" y1="1466.58" x2="595.58" y2="1422.88" stroke="#e3e3e3" stroke-width="0.9" />
<line x1="505.13" y1="1375.5" x2="592.73" y2="1433.6" stroke="#e3e3e3" stroke-width="0.9" />
<line x1="505.13" y1="1375.5" x2="505.13" y2="1244.3" stroke="#e3e3e3" stroke-width="0.9" />
<line x1="595.58" y1="1422.88" x2="595.58" y2="1291.68" stroke="#e3e3e3" stroke-width="0.9" />
<line x1="517.2" y1="1370.9" x2="517.2" y2="1239.7" stroke="#e3e3e3" stroke-width="0.9" />
<line x1="402.5" y1="1283.4" x2="517.2" y2="1239.7" stroke="#e3e3e3" stroke-width="0.9" />
<line x1="517.2" y1="1239.7" x2="604.8" y2="1297.8" stroke="#e3e3e3" stroke-width="0.9" />
<line x1="402.5" y1="1316.2" x2="517.2" y2="1272.5" stroke="#e3e3e3" stroke-width="0.9" />
<line x1="517.2" y1="1272.5" x2="604.8" y2="1330.6" stroke="#e3e3e3" stroke-width="0.9" />
<line x1="402.5" y1="1349" x2="517.2" y2="1305.3" stroke="#e3e3e3" stroke-width="0.9" />
<line x1="517.2" y1="1305.3" x2="604.8" y2="1363.4" stroke="#e3e3e3" stroke-width="0.9" />
<line x1="402.5" y1="1381.8" x2="517.2" y2="1338.1" stroke="#e3e3e3" stroke-width="0.9" />
<line x1="517.2" y1="1338.1" x2="604.8" y2="1396.2" stroke="#e3e3e3" stroke-width="0.9" />
<line x1="402.5" y1="1414.6" x2="517.2" y2="1370.9" stroke="#e3e3e3" stroke-width="0.9" />
<line x1="517.2" y1="1370.9" x2="604.8" y2="1429" stroke="#e3e3e3" stroke-width="0.9" />
<line x1="402.5" y1="1414.6" x2="402.5" y2="1283.4" stroke="#2b2b2b" stroke-width="1.1" />
<line x1="402.5" y1="1414.6" x2="490.1" y2="1472.7" stroke="#2b2b2b" stroke-width="1.1" />
<line x1="490.1" y1="1472.7" x2="604.8" y2="1429" stroke="#2b2b2b" stroke-width="1.1" />
<line x1="411.72" y1="1420.72" x2="409" y2="1421.75" stroke="#2b2b2b" stroke-width="1" />
<line x1="502.17" y1="1468.1" x2="504.48" y2="1469.63" stroke="#2b2b2b" stroke-width="1" />
<line x1="434.77" y1="1436.01" x2="432.06" y2="1437.04" stroke="#2b2b2b" stroke-width="1" />
<line x1="532.36" y1="1456.6" x2="534.66" y2="1458.13" stroke="#2b2b2b" stroke-width="1" />
<line x1="457.83" y1="1451.29" x2="455.11" y2="1452.33" stroke="#2b2b2b" stroke-width="1" />
<line x1="562.54" y1="1445.1" x2="564.85" y2="1446.63" stroke="#2b2b2b" stroke-width="1" />
<line x1="480.88" y1="1466.58" x2="478.16" y2="1467.62" stroke="#2b2b2b" stroke-width="1" />
<line x1="592.73" y1="1433.6" x2="595.03" y2="1435.13" stroke="#2b2b2b" stroke-width="1" />
<line x1="402.5" y1="1283.4" x2="400.19" y2="1281.87" stroke="#2b2b2b" stroke-width="1" />
<text x="395.3" y="1285.5" font-family="Liberation Sans, sans-serif" font-size="15" font-weight="bold" text-anchor="end" fill="#000" textLength="22.94" lengthAdjust="spacingAndGlyphs" >0.5</text>
<line x1="402.5" y1="1316.2" x2="400.19" y2="1314.67" stroke="#2b2b2b" stroke-width="1" />
<text x="395.3" y="1318.3" font-family="Liberation Sans, sans-serif" font-size="15" font-weight="bold" text-anchor="end" fill="#000" textLength="32.11" lengthAdjust="spacingAndGlyphs" >0.25</text>
<line x1="402.5" y1="1349" x2="400.19" y2="1347.47" stroke="#2b2b2b" stroke-width="1" />
<text x="395.3" y="1351.1" font-family="Liberation Sans, sans-serif" font-size="15" font-weight="bold" text-anchor="end" fill="#000" textLength="9.17" lengthAdjust="spacingAndGlyphs" >0</text>
<line x1="402.5" y1="1381.8" x2="400.19" y2="1380.27" stroke="#2b2b2b" stroke-width="1" />
<text x="395.3" y="1383.9" font-family="Liberation Sans, sans-serif" font-size="15" font-weight="bold" text-anchor="end" fill="#000" textLength="37.61" lengthAdjust="spacingAndGlyphs" >-0.25</text>
<line x1="402.5" y1="1414.6" x2="400.19" y2="1413.07" stroke="#2b2b2b" stroke-width="1" />
<text x="395.3" y="1416.7" font-family="Liberation Sans, sans-serif" font-size="15" font-weight="bold" text-anchor="end" fill="#000" textLength="28.44" lengthAdjust="spacingAndGlyphs" >-0.5</text>
<polygon points="493.05,1284.32 511.49,1296.56 511.49,1326.73 493.05,1314.5" fill="url(#g20)" stroke="#33401f" stroke-width="0.9" stroke-linejoin="round"/>
<polygon points="511.49,1296.56 535.64,1287.36 535.64,1317.53 511.49,1326.73" fill="url(#g20)" stroke="#33401f" stroke-width="0.9" stroke-linejoin="round"/>
<polygon points="493.05,1284.32 511.49,1296.56 535.64,1287.36 517.2,1275.12" fill="#f9fc62" stroke="#33401f" stroke-width="0.9" stroke-linejoin="round"/>
<polygon points="462.87,1293.2 481.31,1305.43 481.31,1338.23 462.87,1326" fill="url(#g21)" stroke="#33401f" stroke-width="0.9" stroke-linejoin="round"/>
<polygon points="481.31,1305.43 505.46,1296.23 505.46,1329.03 481.31,1338.23" fill="url(#g21)" stroke="#33401f" stroke-width="0.9" stroke-linejoin="round"/>
<polygon points="462.87,1293.2 481.31,1305.43 505.46,1296.23 487.02,1284" fill="#ffff62" stroke="#33401f" stroke-width="0.9" stroke-linejoin="round"/>
<polygon points="516.11,1329.79 534.55,1342.02 534.55,1370.89 516.11,1358.65" fill="url(#g22)" stroke="#33401f" stroke-width="0.9" stroke-linejoin="round"/>
<polygon points="534.55,1342.02 558.69,1332.82 558.69,1361.69 534.55,1370.89" fill="url(#g22)" stroke="#33401f" stroke-width="0.9" stroke-linejoin="round"/>
<polygon points="516.11,1329.79 534.55,1342.02 558.69,1332.82 540.25,1320.59" fill="#74c05c" stroke="#33401f" stroke-width="0.9" stroke-linejoin="round"/>
<polygon points="432.68,1333.56 451.13,1345.8 451.13,1349.73 432.68,1337.5" fill="url(#g23)" stroke="#33401f" stroke-width="0.9" stroke-linejoin="round"/>
<polygon points="451.13,1345.8 475.27,1336.6 475.27,1340.53 451.13,1349.73" fill="url(#g23)" stroke="#33401f" stroke-width="0.9" stroke-linejoin="round"/>
<polygon points="432.68,1333.56 451.13,1345.8 475.27,1336.6 456.83,1324.36" fill="#85c85d" stroke="#33401f" stroke-width="0.9" stroke-linejoin="round"/>
<polygon points="485.92,1341.29 504.36,1353.52 504.36,1383.7 485.92,1371.47" fill="url(#g24)" stroke="#33401f" stroke-width="0.9" stroke-linejoin="round"/>
<polygon points="504.36,1353.52 528.51,1344.32 528.51,1374.5 504.36,1383.7" fill="url(#g24)" stroke="#33401f" stroke-width="0.9" stroke-linejoin="round"/>
<polygon points="485.92,1341.29 504.36,1353.52 528.51,1344.32 510.07,1332.09" fill="#74c05c" stroke="#33401f" stroke-width="0.9" stroke-linejoin="round"/>
<polygon points="539.16,1345.08 557.6,1357.31 557.6,1359.93 539.16,1347.7" fill="#74c05c" stroke="#33401f" stroke-width="0.9" stroke-linejoin="round"/>
<polygon points="557.6,1357.31 581.75,1348.11 581.75,1350.73 557.6,1359.93" fill="#74c05c" stroke="#33401f" stroke-width="0.9" stroke-linejoin="round"/>
<polygon points="539.16,1345.08 557.6,1357.31 581.75,1348.11 563.31,1335.88" fill="#74c05c" stroke="#33401f" stroke-width="0.9" stroke-linejoin="round"/>
<polygon points="402.5,1348.48 420.94,1360.71 420.94,1361.23 402.5,1349" fill="#76c15c" stroke="#33401f" stroke-width="0.9" stroke-linejoin="round"/>
<polygon points="420.94,1360.71 445.09,1351.51 445.09,1352.03 420.94,1361.23" fill="#76c15c" stroke="#33401f" stroke-width="0.9" stroke-linejoin="round"/>
<polygon points="402.5,1348.48 420.94,1360.71 445.09,1351.51 426.65,1339.28" fill="#76c15c" stroke="#33401f" stroke-width="0.9" stroke-linejoin="round"/>
<polygon points="455.74,1352.26 474.18,1364.5 474.18,1365.02 455.74,1352.79" fill="#76c15c" stroke="#33401f" stroke-width="0.9" stroke-linejoin="round"/>
<polygon points="474.18,1364.5 498.33,1355.3 498.33,1355.82 474.18,1365.02" fill="#76c15c" stroke="#33401f" stroke-width="0.9" stroke-linejoin="round"/>
<polygon points="455.74,1352.26 474.18,1364.5 498.33,1355.3 479.88,1343.06" fill="#76c15c" stroke="#33401f" stroke-width="0.9" stroke-linejoin="round"/>
<polygon points="508.97,1356.05 527.42,1368.29 527.42,1368.81 508.97,1356.58" fill="#76c15c" stroke="#33401f" stroke-width="0.9" stroke-linejoin="round"/>
<polygon points="527.42,1368.29 551.56,1359.09 551.56,1359.61 527.42,1368.81" fill="#76c15c" stroke="#33401f" stroke-width="0.9" stroke-linejoin="round"/>
<polygon points="508.97,1356.05 527.42,1368.29 551.56,1359.09 533.12,1346.85" fill="#76c15c" stroke="#33401f" stroke-width="0.9" stroke-linejoin="round"/>
<polygon points="562.21,1359.84 580.65,1372.08 580.65,1372.6 562.21,1360.37" fill="#76c15c" stroke="#33401f" stroke-width="0.9" stroke-linejoin="round"/>
<polygon points="580.65,1372.08 604.8,1362.88 604.8,1363.4 580.65,1372.6" fill="#76c15c" stroke="#33401f" stroke-width="0.9" stroke-linejoin="round"/>
<polygon points="562.21,1359.84 580.65,1372.08 604.8,1362.88 586.36,1350.64" fill="#76c15c" stroke="#33401f" stroke-width="0.9" stroke-linejoin="round"/>
<polygon points="425.55,1364.29 443.99,1376.52 443.99,1380.46 425.55,1368.23" fill="url(#g25)" stroke="#33401f" stroke-width="0.9" stroke-linejoin="round"/>
<polygon points="443.99,1376.52 468.14,1367.32 468.14,1371.26 443.99,1380.46" fill="url(#g25)" stroke="#33401f" stroke-width="0.9" stroke-linejoin="round"/>
<polygon points="425.55,1364.29 443.99,1376.52 468.14,1367.32 449.7,1355.09" fill="#74c05c" stroke="#33401f" stroke-width="0.9" stroke-linejoin="round"/>
<polygon points="478.79,1337.9 497.23,1350.13 497.23,1380.31 478.79,1368.08" fill="url(#g26)" stroke="#33401f" stroke-width="0.9" stroke-linejoin="round"/>
<polygon points="497.23,1350.13 521.38,1340.93 521.38,1371.11 497.23,1380.31" fill="url(#g26)" stroke="#33401f" stroke-width="0.9" stroke-linejoin="round"/>
<polygon points="478.79,1337.9 497.23,1350.13 521.38,1340.93 502.94,1328.7" fill="#f9fc62" stroke="#33401f" stroke-width="0.9" stroke-linejoin="round"/>
<polygon points="532.03,1369.24 550.47,1381.48 550.47,1384.1 532.03,1371.87" fill="#80c55c" stroke="#33401f" stroke-width="0.9" stroke-linejoin="round"/>
<polygon points="550.47,1381.48 574.62,1372.28 574.62,1374.9 550.47,1384.1" fill="#80c55c" stroke="#33401f" stroke-width="0.9" stroke-linejoin="round"/>
<polygon points="532.03,1369.24 550.47,1381.48 574.62,1372.28 556.17,1360.04" fill="#80c55c" stroke="#33401f" stroke-width="0.9" stroke-linejoin="round"/>
<polygon points="448.61,1379.58 467.05,1391.81 467.05,1424.61 448.61,1412.38" fill="url(#g27)" stroke="#33401f" stroke-width="0.9" stroke-linejoin="round"/>
<polygon points="467.05,1391.81 491.19,1382.61 491.19,1415.41 467.05,1424.61" fill="url(#g27)" stroke="#33401f" stroke-width="0.9" stroke-linejoin="round"/>
<polygon points="448.61,1379.58 467.05,1391.81 491.19,1382.61 472.75,1370.38" fill="#74c05c" stroke="#33401f" stroke-width="0.9" stroke-linejoin="round"/>
<polygon points="501.84,1354.5 520.28,1366.74 520.28,1395.6 501.84,1383.37" fill="url(#g28)" stroke="#33401f" stroke-width="0.9" stroke-linejoin="round"/>
<polygon points="520.28,1366.74 544.43,1357.54 544.43,1386.4 520.28,1395.6" fill="url(#g28)" stroke="#33401f" stroke-width="0.9" stroke-linejoin="round"/>
<polygon points="501.84,1354.5 520.28,1366.74 544.43,1357.54 525.99,1345.3" fill="#f3fa62" stroke="#33401f" stroke-width="0.9" stroke-linejoin="round"/>
<polygon points="471.66,1394.87 490.1,1407.1 490.1,1439.9 471.66,1427.67" fill="url(#g29)" stroke="#33401f" stroke-width="0.9" stroke-linejoin="round"/>
<polygon points="490.1,1407.1 514.25,1397.9 514.25,1430.7 490.1,1439.9" fill="url(#g29)" stroke="#33401f" stroke-width="0.9" stroke-linejoin="round"/>
<polygon points="471.66,1394.87 490.1,1407.1 514.25,1397.9 495.81,1385.67" fill="#74c05c" stroke="#33401f" stroke-width="0.9" stroke-linejoin="round"/>
<text transform="matrix(0.866,-0.5,0.479,0.878,402.72,1431.72)" x="0" y="0" font-family="Liberation Sans, sans-serif" font-size="16.5" font-weight="bold" text-anchor="end">|HH&gt;</text>
<text transform="matrix(0.891,0.454,-0.5,0.866,506.67,1480.1)" x="0" y="0" font-family="Liberation Sans, sans-serif" font-size="16.5" font-weight="bold">|HH&gt;</text>
<text transform="matrix(0.866,-0.5,0.479,0.878,425.77,1447.01)" x="0" y="0" font-family="Liberation Sans, sans-serif" font-size="16.5" font-weight="bold" text-anchor="end">|HV&gt;</text>
<text transform="matrix(0.891,0.454,-0.5,0.866,536.86,1468.6)" x="0" y="0" font-family="Liberation Sans, sans-serif" font-size="16.5" font-weight="bold">|HV&gt;</text>
<text transform="matrix(0.866,-0.5,0.479,0.878,448.83,1462.29)" x="0" y="0" font-family="Liberation Sans, sans-serif" font-size="16.5" font-weight="bold" text-anchor="end">|VH&gt;</text>
<text transform="matrix(0.891,0.454,-0.5,0.866,567.04,1457.1)" x="0" y="0" font-family="Liberation Sans, sans-serif" font-size="16.5" font-weight="bold">|VH&gt;</text>
<text transform="matrix(0.866,-0.5,0.479,0.878,471.88,1477.58)" x="0" y="0" font-family="Liberation Sans, sans-serif" font-size="16.5" font-weight="bold" text-anchor="end">|VV&gt;</text>
<text transform="matrix(0.891,0.454,-0.5,0.866,597.23,1445.6)" x="0" y="0" font-family="Liberation Sans, sans-serif" font-size="16.5" font-weight="bold">|VV&gt;</text>
<text x="662" y="961.8" font-family="Liberation Sans, sans-serif" font-size="41.5" font-weight="bold" text-anchor="start" fill="#000" letter-spacing="1.7">(f)</text>
<text x="762.8" y="984.2" font-family="Liberation Sans, sans-serif" font-size="31.5" font-weight="bold" text-anchor="start" fill="#000" textLength="46.3" lengthAdjust="spacingAndGlyphs" >CH</text>
<text x="808.3" y="993" font-family="Liberation Sans, sans-serif" font-size="18.2" font-weight="bold" font-style="italic" text-anchor="start" fill="#000" >&#945;</text>
<text x="819.8" y="997" font-family="Liberation Serif, sans-serif" font-size="13.2" font-weight="normal" text-anchor="start" fill="#000" >4</text>
<text x="828.4" y="993.3" font-family="Liberation Sans, sans-serif" font-size="15" font-weight="bold" text-anchor="start" fill="#000" >,</text>
<text x="835.3" y="992.6" font-family="Liberation Sans, sans-serif" font-size="18.2" font-weight="bold" font-style="italic" text-anchor="start" fill="#000" >&#946;</text>
<text x="846" y="997.4" font-family="Liberation Serif, sans-serif" font-size="13.2" font-weight="normal" text-anchor="start" fill="#000" >2</text>
<text transform="rotate(-90 683 1086.2)" x="683" y="1086.2" font-family="Liberation Sans, sans-serif" font-size="25.3" font-weight="bold" text-anchor="middle">Re(<tspan font-family="Liberation Serif, serif" font-weight="normal">&#961;</tspan>)</text>
<text transform="rotate(-90 683 1354.1)" x="683" y="1354.1" font-family="Liberation Sans, sans-serif" font-size="25.3" font-weight="bold" text-anchor="middle">Im(<tspan font-family="Liberation Serif, serif" font-weight="normal">&#961;</tspan>)</text>
<line x1="738.62" y1="1161.52" x2="853.32" y2="1117.82" stroke="#e3e3e3" stroke-width="0.9" />
<line x1="741.47" y1="1150.8" x2="829.07" y2="1208.9" stroke="#e3e3e3" stroke-width="0.9" />
<line x1="741.47" y1="1150.8" x2="741.47" y2="1019.8" stroke="#e3e3e3" stroke-width="0.9" />
<line x1="853.32" y1="1117.82" x2="853.32" y2="986.82" stroke="#e3e3e3" stroke-width="0.9" />
<line x1="761.67" y1="1176.81" x2="876.37" y2="1133.11" stroke="#e3e3e3" stroke-width="0.9" />
<line x1="771.66" y1="1139.3" x2="859.26" y2="1197.4" stroke="#e3e3e3" stroke-width="0.9" />
<line x1="771.66" y1="1139.3" x2="771.66" y2="1008.3" stroke="#e3e3e3" stroke-width="0.9" />
<line x1="876.37" y1="1133.11" x2="876.37" y2="1002.11" stroke="#e3e3e3" stroke-width="0.9" />
<line x1="784.73" y1="1192.09" x2="899.43" y2="1148.39" stroke="#e3e3e3" stroke-width="0.9" />
<line x1="801.84" y1="1127.8" x2="889.44" y2="1185.9" stroke="#e3e3e3" stroke-width="0.9" />
<line x1="801.84" y1="1127.8" x2="801.84" y2="996.8" stroke="#e3e3e3" stroke-width="0.9" />
<line x1="899.43" y1="1148.39" x2="899.43" y2="1017.39" stroke="#e3e3e3" stroke-width="0.9" />
<line x1="807.78" y1="1207.38" x2="922.48" y2="1163.68" stroke="#e3e3e3" stroke-width="0.9" />
<line x1="832.03" y1="1116.3" x2="919.63" y2="1174.4" stroke="#e3e3e3" stroke-width="0.9" />
<line x1="832.03" y1="1116.3" x2="832.03" y2="985.3" stroke="#e3e3e3" stroke-width="0.9" />
<line x1="922.48" y1="1163.68" x2="922.48" y2="1032.68" stroke="#e3e3e3" stroke-width="0.9" />
<line x1="844.1" y1="1111.7" x2="844.1" y2="980.7" stroke="#e3e3e3" stroke-width="0.9" />
<line x1="729.4" y1="1024.4" x2="844.1" y2="980.7" stroke="#e3e3e3" stroke-width="0.9" />
<line x1="844.1" y1="980.7" x2="931.7" y2="1038.8" stroke="#e3e3e3" stroke-width="0.9" />
<line x1="729.4" y1="1057.15" x2="844.1" y2="1013.45" stroke="#e3e3e3" stroke-width="0.9" />
<line x1="844.1" y1="1013.45" x2="931.7" y2="1071.55" stroke="#e3e3e3" stroke-width="0.9" />
<line x1="729.4" y1="1089.9" x2="844.1" y2="1046.2" stroke="#e3e3e3" stroke-width="0.9" />
<line x1="844.1" y1="1046.2" x2="931.7" y2="1104.3" stroke="#e3e3e3" stroke-width="0.9" />
<line x1="729.4" y1="1122.65" x2="844.1" y2="1078.95" stroke="#e3e3e3" stroke-width="0.9" />
<line x1="844.1" y1="1078.95" x2="931.7" y2="1137.05" stroke="#e3e3e3" stroke-width="0.9" />
<line x1="729.4" y1="1155.4" x2="844.1" y2="1111.7" stroke="#e3e3e3" stroke-width="0.9" />
<line x1="844.1" y1="1111.7" x2="931.7" y2="1169.8" stroke="#e3e3e3" stroke-width="0.9" />
<line x1="729.4" y1="1155.4" x2="729.4" y2="1024.4" stroke="#2b2b2b" stroke-width="1.1" />
<line x1="729.4" y1="1155.4" x2="817" y2="1213.5" stroke="#2b2b2b" stroke-width="1.1" />
<line x1="817" y1="1213.5" x2="931.7" y2="1169.8" stroke="#2b2b2b" stroke-width="1.1" />
<line x1="738.62" y1="1161.52" x2="735.9" y2="1162.55" stroke="#2b2b2b" stroke-width="1" />
<line x1="829.07" y1="1208.9" x2="831.38" y2="1210.43" stroke="#2b2b2b" stroke-width="1" />
<line x1="761.67" y1="1176.81" x2="758.96" y2="1177.84" stroke="#2b2b2b" stroke-width="1" />
<line x1="859.26" y1="1197.4" x2="861.56" y2="1198.93" stroke="#2b2b2b" stroke-width="1" />
<line x1="784.73" y1="1192.09" x2="782.01" y2="1193.13" stroke="#2b2b2b" stroke-width="1" />
<line x1="889.44" y1="1185.9" x2="891.75" y2="1187.43" stroke="#2b2b2b" stroke-width="1" />
<line x1="807.78" y1="1207.38" x2="805.06" y2="1208.42" stroke="#2b2b2b" stroke-width="1" />
<line x1="919.63" y1="1174.4" x2="921.93" y2="1175.93" stroke="#2b2b2b" stroke-width="1" />
<line x1="729.4" y1="1024.4" x2="727.09" y2="1022.87" stroke="#2b2b2b" stroke-width="1" />
<text x="722.2" y="1026.5" font-family="Liberation Sans, sans-serif" font-size="15" font-weight="bold" text-anchor="end" fill="#000" textLength="32.11" lengthAdjust="spacingAndGlyphs" >0.75</text>
<line x1="729.4" y1="1057.15" x2="727.09" y2="1055.62" stroke="#2b2b2b" stroke-width="1" />
<text x="722.2" y="1059.25" font-family="Liberation Sans, sans-serif" font-size="15" font-weight="bold" text-anchor="end" fill="#000" textLength="22.94" lengthAdjust="spacingAndGlyphs" >0.5</text>
<line x1="729.4" y1="1089.9" x2="727.09" y2="1088.37" stroke="#2b2b2b" stroke-width="1" />
<text x="722.2" y="1092" font-family="Liberation Sans, sans-serif" font-size="15" font-weight="bold" text-anchor="end" fill="#000" textLength="32.11" lengthAdjust="spacingAndGlyphs" >0.25</text>
<line x1="729.4" y1="1122.65" x2="727.09" y2="1121.12" stroke="#2b2b2b" stroke-width="1" />
<text x="722.2" y="1124.75" font-family="Liberation Sans, sans-serif" font-size="15" font-weight="bold" text-anchor="end" fill="#000" textLength="9.17" lengthAdjust="spacingAndGlyphs" >0</text>
<line x1="729.4" y1="1155.4" x2="727.09" y2="1153.87" stroke="#2b2b2b" stroke-width="1" />
<text x="722.2" y="1157.5" font-family="Liberation Sans, sans-serif" font-size="15" font-weight="bold" text-anchor="end" fill="#000" textLength="37.61" lengthAdjust="spacingAndGlyphs" >-0.25</text>
<polygon points="819.95,1027.89 838.39,1040.12 838.39,1100.38 819.95,1088.15" fill="url(#g30)" stroke="#33401f" stroke-width="0.9" stroke-linejoin="round"/>
<polygon points="838.39,1040.12 862.54,1030.92 862.54,1091.18 838.39,1100.38" fill="url(#g30)" stroke="#33401f" stroke-width="0.9" stroke-linejoin="round"/>
<polygon points="819.95,1027.89 838.39,1040.12 862.54,1030.92 844.1,1018.69" fill="#ffff62" stroke="#33401f" stroke-width="0.9" stroke-linejoin="round"/>
<polygon points="789.77,1099.65 808.21,1111.88 808.21,1115.81 789.77,1103.58" fill="url(#g31)" stroke="#33401f" stroke-width="0.9" stroke-linejoin="round"/>
<polygon points="808.21,1111.88 832.36,1102.68 832.36,1106.61 808.21,1115.81" fill="url(#g31)" stroke="#33401f" stroke-width="0.9" stroke-linejoin="round"/>
<polygon points="789.77,1099.65 808.21,1111.88 832.36,1102.68 813.92,1090.45" fill="#74c05c" stroke="#33401f" stroke-width="0.9" stroke-linejoin="round"/>
<polygon points="843.01,1094.27 861.45,1106.5 861.45,1115.67 843.01,1103.44" fill="url(#g32)" stroke="#33401f" stroke-width="0.9" stroke-linejoin="round"/>
<polygon points="861.45,1106.5 885.59,1097.3 885.59,1106.47 861.45,1115.67" fill="url(#g32)" stroke="#33401f" stroke-width="0.9" stroke-linejoin="round"/>
<polygon points="843.01,1094.27 861.45,1106.5 885.59,1097.3 867.15,1085.07" fill="#94cf5d" stroke="#33401f" stroke-width="0.9" stroke-linejoin="round"/>
<polygon points="759.58,1104.6 778.03,1116.83 778.03,1123.38 759.58,1111.15" fill="url(#g33)" stroke="#33401f" stroke-width="0.9" stroke-linejoin="round"/>
<polygon points="778.03,1116.83 802.17,1107.63 802.17,1114.18 778.03,1123.38" fill="url(#g33)" stroke="#33401f" stroke-width="0.9" stroke-linejoin="round"/>
<polygon points="759.58,1104.6 778.03,1116.83 802.17,1107.63 783.73,1095.4" fill="#8bca5d" stroke="#33401f" stroke-width="0.9" stroke-linejoin="round"/>
<polygon points="812.82,1113.63 831.26,1125.86 831.26,1127.17 812.82,1114.94" fill="#79c25c" stroke="#33401f" stroke-width="0.9" stroke-linejoin="round"/>
<polygon points="831.26,1125.86 855.41,1116.66 855.41,1117.97 831.26,1127.17" fill="#79c25c" stroke="#33401f" stroke-width="0.9" stroke-linejoin="round"/>
<polygon points="812.82,1113.63 831.26,1125.86 855.41,1116.66 836.97,1104.43" fill="#79c25c" stroke="#33401f" stroke-width="0.9" stroke-linejoin="round"/>
<polygon points="866.06,1116.11 884.5,1128.34 884.5,1130.96 866.06,1118.73" fill="#7dc45c" stroke="#33401f" stroke-width="0.9" stroke-linejoin="round"/>
<polygon points="884.5,1128.34 908.65,1119.14 908.65,1121.76 884.5,1130.96" fill="#7dc45c" stroke="#33401f" stroke-width="0.9" stroke-linejoin="round"/>
<polygon points="866.06,1116.11 884.5,1128.34 908.65,1119.14 890.21,1106.91" fill="#7dc45c" stroke="#33401f" stroke-width="0.9" stroke-linejoin="round"/>
<polygon points="729.4,1078.11 747.84,1090.34 747.84,1134.88 729.4,1122.65" fill="url(#g34)" stroke="#33401f" stroke-width="0.9" stroke-linejoin="round"/>
<polygon points="747.84,1090.34 771.99,1081.14 771.99,1125.68 747.84,1134.88" fill="url(#g34)" stroke="#33401f" stroke-width="0.9" stroke-linejoin="round"/>
<polygon points="729.4,1078.11 747.84,1090.34 771.99,1081.14 753.55,1068.91" fill="#ffff62" stroke="#33401f" stroke-width="0.9" stroke-linejoin="round"/>
<polygon points="782.64,1123.82 801.08,1136.05 801.08,1138.67 782.64,1126.44" fill="#7dc45c" stroke="#33401f" stroke-width="0.9" stroke-linejoin="round"/>
<polygon points="801.08,1136.05 825.23,1126.85 825.23,1129.47 801.08,1138.67" fill="#7dc45c" stroke="#33401f" stroke-width="0.9" stroke-linejoin="round"/>
<polygon points="782.64,1123.82 801.08,1136.05 825.23,1126.85 806.78,1114.62" fill="#7dc45c" stroke="#33401f" stroke-width="0.9" stroke-linejoin="round"/>
<polygon points="835.87,1127.61 854.32,1139.84 854.32,1142.46 835.87,1130.23" fill="#7dc45c" stroke="#33401f" stroke-width="0.9" stroke-linejoin="round"/>
<polygon points="854.32,1139.84 878.46,1130.64 878.46,1133.26 854.32,1142.46" fill="#7dc45c" stroke="#33401f" stroke-width="0.9" stroke-linejoin="round"/>
<polygon points="835.87,1127.61 854.32,1139.84 878.46,1130.64 860.02,1118.41" fill="#7dc45c" stroke="#33401f" stroke-width="0.9" stroke-linejoin="round"/>
<polygon points="889.11,1043.63 907.55,1055.86 907.55,1146.25 889.11,1134.02" fill="url(#g35)" stroke="#33401f" stroke-width="0.9" stroke-linejoin="round"/>
<polygon points="907.55,1055.86 931.7,1046.66 931.7,1137.05 907.55,1146.25" fill="url(#g35)" stroke="#33401f" stroke-width="0.9" stroke-linejoin="round"/>
<polygon points="889.11,1043.63 907.55,1055.86 931.7,1046.66 913.26,1034.43" fill="#ffff62" stroke="#33401f" stroke-width="0.9" stroke-linejoin="round"/>
<polygon points="752.45,1131.39 770.89,1143.62 770.89,1150.17 752.45,1137.94" fill="url(#g36)" stroke="#33401f" stroke-width="0.9" stroke-linejoin="round"/>
<polygon points="770.89,1143.62 795.04,1134.42 795.04,1140.97 770.89,1150.17" fill="url(#g36)" stroke="#33401f" stroke-width="0.9" stroke-linejoin="round"/>
<polygon points="752.45,1131.39 770.89,1143.62 795.04,1134.42 776.6,1122.19" fill="#8bca5d" stroke="#33401f" stroke-width="0.9" stroke-linejoin="round"/>
<polygon points="805.69,1140.42 824.13,1152.65 824.13,1153.96 805.69,1141.73" fill="#79c25c" stroke="#33401f" stroke-width="0.9" stroke-linejoin="round"/>
<polygon points="824.13,1152.65 848.28,1143.45 848.28,1144.76 824.13,1153.96" fill="#79c25c" stroke="#33401f" stroke-width="0.9" stroke-linejoin="round"/>
<polygon points="805.69,1140.42 824.13,1152.65 848.28,1143.45 829.84,1131.22" fill="#79c25c" stroke="#33401f" stroke-width="0.9" stroke-linejoin="round"/>
<polygon points="858.93,1138.97 877.37,1151.2 877.37,1157.75 858.93,1145.52" fill="url(#g37)" stroke="#33401f" stroke-width="0.9" stroke-linejoin="round"/>
<polygon points="877.37,1151.2 901.52,1142 901.52,1148.55 877.37,1157.75" fill="url(#g37)" stroke="#33401f" stroke-width="0.9" stroke-linejoin="round"/>
<polygon points="858.93,1138.97 877.37,1151.2 901.52,1142 883.07,1129.77" fill="#8bca5d" stroke="#33401f" stroke-width="0.9" stroke-linejoin="round"/>
<polygon points="775.51,1153.23 793.95,1165.46 793.95,1170.7 775.51,1158.47" fill="url(#g38)" stroke="#33401f" stroke-width="0.9" stroke-linejoin="round"/>
<polygon points="793.95,1165.46 818.09,1156.26 818.09,1161.5 793.95,1170.7" fill="url(#g38)" stroke="#33401f" stroke-width="0.9" stroke-linejoin="round"/>
<polygon points="775.51,1153.23 793.95,1165.46 818.09,1156.26 799.65,1144.03" fill="#74c05c" stroke="#33401f" stroke-width="0.9" stroke-linejoin="round"/>
<polygon points="828.74,1147.85 847.18,1160.08 847.18,1169.25 828.74,1157.02" fill="url(#g39)" stroke="#33401f" stroke-width="0.9" stroke-linejoin="round"/>
<polygon points="847.18,1160.08 871.33,1150.88 871.33,1160.05 847.18,1169.25" fill="url(#g39)" stroke="#33401f" stroke-width="0.9" stroke-linejoin="round"/>
<polygon points="828.74,1147.85 847.18,1160.08 871.33,1150.88 852.89,1138.65" fill="#94cf5d" stroke="#33401f" stroke-width="0.9" stroke-linejoin="round"/>
<polygon points="798.56,1105.64 817,1117.87 817,1180.75 798.56,1168.52" fill="url(#g40)" stroke="#33401f" stroke-width="0.9" stroke-linejoin="round"/>
<polygon points="817,1117.87 841.15,1108.67 841.15,1171.55 817,1180.75" fill="url(#g40)" stroke="#33401f" stroke-width="0.9" stroke-linejoin="round"/>
<polygon points="798.56,1105.64 817,1117.87 841.15,1108.67 822.71,1096.44" fill="#ffff62" stroke="#33401f" stroke-width="0.9" stroke-linejoin="round"/>
<text transform="matrix(0.866,-0.5,0.479,0.878,729.62,1172.52)" x="0" y="0" font-family="Liberation Sans, sans-serif" font-size="16.5" font-weight="bold" text-anchor="end">|HH&gt;</text>
<text transform="matrix(0.891,0.454,-0.5,0.866,833.57,1220.9)" x="0" y="0" font-family="Liberation Sans, sans-serif" font-size="16.5" font-weight="bold">|HH&gt;</text>
<text transform="matrix(0.866,-0.5,0.479,0.878,752.67,1187.81)" x="0" y="0" font-family="Liberation Sans, sans-serif" font-size="16.5" font-weight="bold" text-anchor="end">|HV&gt;</text>
<text transform="matrix(0.891,0.454,-0.5,0.866,863.76,1209.4)" x="0" y="0" font-family="Liberation Sans, sans-serif" font-size="16.5" font-weight="bold">|HV&gt;</text>
<text transform="matrix(0.866,-0.5,0.479,0.878,775.73,1203.09)" x="0" y="0" font-family="Liberation Sans, sans-serif" font-size="16.5" font-weight="bold" text-anchor="end">|VH&gt;</text>
<text transform="matrix(0.891,0.454,-0.5,0.866,893.94,1197.9)" x="0" y="0" font-family="Liberation Sans, sans-serif" font-size="16.5" font-weight="bold">|VH&gt;</text>
<text transform="matrix(0.866,-0.5,0.479,0.878,798.78,1218.38)" x="0" y="0" font-family="Liberation Sans, sans-serif" font-size="16.5" font-weight="bold" text-anchor="end">|VV&gt;</text>
<text transform="matrix(0.891,0.454,-0.5,0.866,924.13,1186.4)" x="0" y="0" font-family="Liberation Sans, sans-serif" font-size="16.5" font-weight="bold">|VV&gt;</text>
<line x1="738.62" y1="1420.72" x2="853.32" y2="1377.02" stroke="#e3e3e3" stroke-width="0.9" />
<line x1="741.47" y1="1410" x2="829.07" y2="1468.1" stroke="#e3e3e3" stroke-width="0.9" />
<line x1="741.47" y1="1410" x2="741.47" y2="1279" stroke="#e3e3e3" stroke-width="0.9" />
<line x1="853.32" y1="1377.02" x2="853.32" y2="1246.02" stroke="#e3e3e3" stroke-width="0.9" />
<line x1="761.67" y1="1436.01" x2="876.37" y2="1392.31" stroke="#e3e3e3" stroke-width="0.9" />
<line x1="771.66" y1="1398.5" x2="859.26" y2="1456.6" stroke="#e3e3e3" stroke-width="0.9" />
<line x1="771.66" y1="1398.5" x2="771.66" y2="1267.5" stroke="#e3e3e3" stroke-width="0.9" />
<line x1="876.37" y1="1392.31" x2="876.37" y2="1261.31" stroke="#e3e3e3" stroke-width="0.9" />
<line x1="784.73" y1="1451.29" x2="899.43" y2="1407.59" stroke="#e3e3e3" stroke-width="0.9" />
<line x1="801.84" y1="1387" x2="889.44" y2="1445.1" stroke="#e3e3e3" stroke-width="0.9" />
<line x1="801.84" y1="1387" x2="801.84" y2="1256" stroke="#e3e3e3" stroke-width="0.9" />
<line x1="899.43" y1="1407.59" x2="899.43" y2="1276.59" stroke="#e3e3e3" stroke-width="0.9" />
<line x1="807.78" y1="1466.58" x2="922.48" y2="1422.88" stroke="#e3e3e3" stroke-width="0.9" />
<line x1="832.03" y1="1375.5" x2="919.63" y2="1433.6" stroke="#e3e3e3" stroke-width="0.9" />
<line x1="832.03" y1="1375.5" x2="832.03" y2="1244.5" stroke="#e3e3e3" stroke-width="0.9" />
<line x1="922.48" y1="1422.88" x2="922.48" y2="1291.88" stroke="#e3e3e3" stroke-width="0.9" />
<line x1="844.1" y1="1370.9" x2="844.1" y2="1239.9" stroke="#e3e3e3" stroke-width="0.9" />
<line x1="729.4" y1="1283.6" x2="844.1" y2="1239.9" stroke="#e3e3e3" stroke-width="0.9" />
<line x1="844.1" y1="1239.9" x2="931.7" y2="1298" stroke="#e3e3e3" stroke-width="0.9" />
<line x1="729.4" y1="1316.35" x2="844.1" y2="1272.65" stroke="#e3e3e3" stroke-width="0.9" />
<line x1="844.1" y1="1272.65" x2="931.7" y2="1330.75" stroke="#e3e3e3" stroke-width="0.9" />
<line x1="729.4" y1="1349.1" x2="844.1" y2="1305.4" stroke="#e3e3e3" stroke-width="0.9" />
<line x1="844.1" y1="1305.4" x2="931.7" y2="1363.5" stroke="#e3e3e3" stroke-width="0.9" />
<line x1="729.4" y1="1381.85" x2="844.1" y2="1338.15" stroke="#e3e3e3" stroke-width="0.9" />
<line x1="844.1" y1="1338.15" x2="931.7" y2="1396.25" stroke="#e3e3e3" stroke-width="0.9" />
<line x1="729.4" y1="1414.6" x2="844.1" y2="1370.9" stroke="#e3e3e3" stroke-width="0.9" />
<line x1="844.1" y1="1370.9" x2="931.7" y2="1429" stroke="#e3e3e3" stroke-width="0.9" />
<line x1="729.4" y1="1414.6" x2="729.4" y2="1283.6" stroke="#2b2b2b" stroke-width="1.1" />
<line x1="729.4" y1="1414.6" x2="817" y2="1472.7" stroke="#2b2b2b" stroke-width="1.1" />
<line x1="817" y1="1472.7" x2="931.7" y2="1429" stroke="#2b2b2b" stroke-width="1.1" />
<line x1="738.62" y1="1420.72" x2="735.9" y2="1421.75" stroke="#2b2b2b" stroke-width="1" />
<line x1="829.07" y1="1468.1" x2="831.38" y2="1469.63" stroke="#2b2b2b" stroke-width="1" />
<line x1="761.67" y1="1436.01" x2="758.96" y2="1437.04" stroke="#2b2b2b" stroke-width="1" />
<line x1="859.26" y1="1456.6" x2="861.56" y2="1458.13" stroke="#2b2b2b" stroke-width="1" />
<line x1="784.73" y1="1451.29" x2="782.01" y2="1452.33" stroke="#2b2b2b" stroke-width="1" />
<line x1="889.44" y1="1445.1" x2="891.75" y2="1446.63" stroke="#2b2b2b" stroke-width="1" />
<line x1="807.78" y1="1466.58" x2="805.06" y2="1467.62" stroke="#2b2b2b" stroke-width="1" />
<line x1="919.63" y1="1433.6" x2="921.93" y2="1435.13" stroke="#2b2b2b" stroke-width="1" />
<line x1="729.4" y1="1283.6" x2="727.09" y2="1282.07" stroke="#2b2b2b" stroke-width="1" />
<text x="722.2" y="1285.7" font-family="Liberation Sans, sans-serif" font-size="15" font-weight="bold" text-anchor="end" fill="#000" textLength="22.94" lengthAdjust="spacingAndGlyphs" >0.5</text>
<line x1="729.4" y1="1316.35" x2="727.09" y2="1314.82" stroke="#2b2b2b" stroke-width="1" />
<text x="722.2" y="1318.45" font-family="Liberation Sans, sans-serif" font-size="15" font-weight="bold" text-anchor="end" fill="#000" textLength="32.11" lengthAdjust="spacingAndGlyphs" >0.25</text>
<line x1="729.4" y1="1349.1" x2="727.09" y2="1347.57" stroke="#2b2b2b" stroke-width="1" />
<text x="722.2" y="1351.2" font-family="Liberation Sans, sans-serif" font-size="15" font-weight="bold" text-anchor="end" fill="#000" textLength="9.17" lengthAdjust="spacingAndGlyphs" >0</text>
<line x1="729.4" y1="1381.85" x2="727.09" y2="1380.32" stroke="#2b2b2b" stroke-width="1" />
<text x="722.2" y="1383.95" font-family="Liberation Sans, sans-serif" font-size="15" font-weight="bold" text-anchor="end" fill="#000" textLength="37.61" lengthAdjust="spacingAndGlyphs" >-0.25</text>
<line x1="729.4" y1="1414.6" x2="727.09" y2="1413.07" stroke="#2b2b2b" stroke-width="1" />
<text x="722.2" y="1416.7" font-family="Liberation Sans, sans-serif" font-size="15" font-weight="bold" text-anchor="end" fill="#000" textLength="28.44" lengthAdjust="spacingAndGlyphs" >-0.5</text>
<polygon points="819.95,1313.94 838.39,1326.18 838.39,1326.83 819.95,1314.6" fill="#76c15c" stroke="#33401f" stroke-width="0.9" stroke-linejoin="round"/>
<polygon points="838.39,1326.18 862.54,1316.98 862.54,1317.63 838.39,1326.83" fill="#76c15c" stroke="#33401f" stroke-width="0.9" stroke-linejoin="round"/>
<polygon points="819.95,1313.94 838.39,1326.18 862.54,1316.98 844.1,1304.74" fill="#76c15c" stroke="#33401f" stroke-width="0.9" stroke-linejoin="round"/>
<polygon points="789.77,1324.79 808.21,1337.02 808.21,1338.33 789.77,1326.1" fill="#79c25c" stroke="#33401f" stroke-width="0.9" stroke-linejoin="round"/>
<polygon points="808.21,1337.02 832.36,1327.82 832.36,1329.13 808.21,1338.33" fill="#79c25c" stroke="#33401f" stroke-width="0.9" stroke-linejoin="round"/>
<polygon points="789.77,1324.79 808.21,1337.02 832.36,1327.82 813.92,1315.59" fill="#79c25c" stroke="#33401f" stroke-width="0.9" stroke-linejoin="round"/>
<polygon points="843.01,1328.58 861.45,1340.81 861.45,1342.12 843.01,1329.89" fill="#79c25c" stroke="#33401f" stroke-width="0.9" stroke-linejoin="round"/>
<polygon points="861.45,1340.81 885.59,1331.61 885.59,1332.92 861.45,1342.12" fill="#79c25c" stroke="#33401f" stroke-width="0.9" stroke-linejoin="round"/>
<polygon points="843.01,1328.58 861.45,1340.81 885.59,1331.61 867.15,1319.38" fill="#79c25c" stroke="#33401f" stroke-width="0.9" stroke-linejoin="round"/>
<polygon points="759.58,1336.94 778.03,1349.18 778.03,1349.83 759.58,1337.6" fill="#76c15c" stroke="#33401f" stroke-width="0.9" stroke-linejoin="round"/>
<polygon points="778.03,1349.18 802.17,1339.98 802.17,1340.63 778.03,1349.83" fill="#76c15c" stroke="#33401f" stroke-width="0.9" stroke-linejoin="round"/>
<polygon points="759.58,1336.94 778.03,1349.18 802.17,1339.98 783.73,1327.74" fill="#76c15c" stroke="#33401f" stroke-width="0.9" stroke-linejoin="round"/>
<polygon points="812.82,1340.73 831.26,1352.97 831.26,1353.62 812.82,1341.39" fill="#76c15c" stroke="#33401f" stroke-width="0.9" stroke-linejoin="round"/>
<polygon points="831.26,1352.97 855.41,1343.77 855.41,1344.42 831.26,1353.62" fill="#76c15c" stroke="#33401f" stroke-width="0.9" stroke-linejoin="round"/>
<polygon points="812.82,1340.73 831.26,1352.97 855.41,1343.77 836.97,1331.53" fill="#76c15c" stroke="#33401f" stroke-width="0.9" stroke-linejoin="round"/>
<polygon points="866.06,1342.56 884.5,1354.79 884.5,1357.41 866.06,1345.18" fill="#7dc45c" stroke="#33401f" stroke-width="0.9" stroke-linejoin="round"/>
<polygon points="884.5,1354.79 908.65,1345.59 908.65,1348.21 884.5,1357.41" fill="#7dc45c" stroke="#33401f" stroke-width="0.9" stroke-linejoin="round"/>
<polygon points="866.06,1342.56 884.5,1354.79 908.65,1345.59 890.21,1333.36" fill="#7dc45c" stroke="#33401f" stroke-width="0.9" stroke-linejoin="round"/>
<polygon points="729.4,1348.58 747.84,1360.81 747.84,1361.33 729.4,1349.1" fill="#76c15c" stroke="#33401f" stroke-width="0.9" stroke-linejoin="round"/>
<polygon points="747.84,1360.81 771.99,1351.61 771.99,1352.13 747.84,1361.33" fill="#76c15c" stroke="#33401f" stroke-width="0.9" stroke-linejoin="round"/>
<polygon points="729.4,1348.58 747.84,1360.81 771.99,1351.61 753.55,1339.38" fill="#76c15c" stroke="#33401f" stroke-width="0.9" stroke-linejoin="round"/>
<polygon points="782.64,1352.37 801.08,1364.6 801.08,1365.12 782.64,1352.89" fill="#76c15c" stroke="#33401f" stroke-width="0.9" stroke-linejoin="round"/>
<polygon points="801.08,1364.6 825.23,1355.4 825.23,1355.92 801.08,1365.12" fill="#76c15c" stroke="#33401f" stroke-width="0.9" stroke-linejoin="round"/>
<polygon points="782.64,1352.37 801.08,1364.6 825.23,1355.4 806.78,1343.17" fill="#76c15c" stroke="#33401f" stroke-width="0.9" stroke-linejoin="round"/>
<polygon points="835.87,1356.15 854.32,1368.39 854.32,1368.91 835.87,1356.68" fill="#76c15c" stroke="#33401f" stroke-width="0.9" stroke-linejoin="round"/>
<polygon points="854.32,1368.39 878.46,1359.19 878.46,1359.71 854.32,1368.91" fill="#76c15c" stroke="#33401f" stroke-width="0.9" stroke-linejoin="round"/>
<polygon points="835.87,1356.15 854.32,1368.39 878.46,1359.19 860.02,1346.95" fill="#76c15c" stroke="#33401f" stroke-width="0.9" stroke-linejoin="round"/>
<polygon points="889.11,1359.94 907.55,1372.18 907.55,1372.7 889.11,1360.47" fill="#76c15c" stroke="#33401f" stroke-width="0.9" stroke-linejoin="round"/>
<polygon points="907.55,1372.18 931.7,1362.98 931.7,1363.5 907.55,1372.7" fill="#76c15c" stroke="#33401f" stroke-width="0.9" stroke-linejoin="round"/>
<polygon points="889.11,1359.94 907.55,1372.18 931.7,1362.98 913.26,1350.74" fill="#76c15c" stroke="#33401f" stroke-width="0.9" stroke-linejoin="round"/>
<polygon points="752.45,1363.87 770.89,1376.1 770.89,1376.62 752.45,1364.39" fill="#76c15c" stroke="#33401f" stroke-width="0.9" stroke-linejoin="round"/>
<polygon points="770.89,1376.1 795.04,1366.9 795.04,1367.42 770.89,1376.62" fill="#76c15c" stroke="#33401f" stroke-width="0.9" stroke-linejoin="round"/>
<polygon points="752.45,1363.87 770.89,1376.1 795.04,1366.9 776.6,1354.67" fill="#76c15c" stroke="#33401f" stroke-width="0.9" stroke-linejoin="round"/>
<polygon points="805.69,1367.65 824.13,1379.89 824.13,1380.41 805.69,1368.18" fill="#76c15c" stroke="#33401f" stroke-width="0.9" stroke-linejoin="round"/>
<polygon points="824.13,1379.89 848.28,1370.69 848.28,1371.21 824.13,1380.41" fill="#76c15c" stroke="#33401f" stroke-width="0.9" stroke-linejoin="round"/>
<polygon points="805.69,1367.65 824.13,1379.89 848.28,1370.69 829.84,1358.45" fill="#76c15c" stroke="#33401f" stroke-width="0.9" stroke-linejoin="round"/>
<polygon points="858.93,1371.97 877.37,1384.2 877.37,1386.82 858.93,1374.59" fill="#74c05c" stroke="#33401f" stroke-width="0.9" stroke-linejoin="round"/>
<polygon points="877.37,1384.2 901.52,1375 901.52,1377.62 877.37,1386.82" fill="#74c05c" stroke="#33401f" stroke-width="0.9" stroke-linejoin="round"/>
<polygon points="858.93,1371.97 877.37,1384.2 901.52,1375 883.07,1362.77" fill="#74c05c" stroke="#33401f" stroke-width="0.9" stroke-linejoin="round"/>
<polygon points="775.51,1379.15 793.95,1391.39 793.95,1391.91 775.51,1379.68" fill="#76c15c" stroke="#33401f" stroke-width="0.9" stroke-linejoin="round"/>
<polygon points="793.95,1391.39 818.09,1382.19 818.09,1382.71 793.95,1391.91" fill="#76c15c" stroke="#33401f" stroke-width="0.9" stroke-linejoin="round"/>
<polygon points="775.51,1379.15 793.95,1391.39 818.09,1382.19 799.65,1369.95" fill="#76c15c" stroke="#33401f" stroke-width="0.9" stroke-linejoin="round"/>
<polygon points="828.74,1382.94 847.18,1395.18 847.18,1395.7 828.74,1383.47" fill="#76c15c" stroke="#33401f" stroke-width="0.9" stroke-linejoin="round"/>
<polygon points="847.18,1395.18 871.33,1385.98 871.33,1386.5 847.18,1395.7" fill="#76c15c" stroke="#33401f" stroke-width="0.9" stroke-linejoin="round"/>
<polygon points="828.74,1382.94 847.18,1395.18 871.33,1385.98 852.89,1373.74" fill="#76c15c" stroke="#33401f" stroke-width="0.9" stroke-linejoin="round"/>
<polygon points="798.56,1394.44 817,1406.68 817,1407.2 798.56,1394.97" fill="#76c15c" stroke="#33401f" stroke-width="0.9" stroke-linejoin="round"/>
<polygon points="817,1406.68 841.15,1397.48 841.15,1398 817,1407.2" fill="#76c15c" stroke="#33401f" stroke-width="0.9" stroke-linejoin="round"/>
<polygon points="798.56,1394.44 817,1406.68 841.15,1397.48 822.71,1385.24" fill="#76c15c" stroke="#33401f" stroke-width="0.9" stroke-linejoin="round"/>
<text transform="matrix(0.866,-0.5,0.479,0.878,729.62,1431.72)" x="0" y="0" font-family="Liberation Sans, sans-serif" font-size="16.5" font-weight="bold" text-anchor="end">|HH&gt;</text>
<text transform="matrix(0.891,0.454,-0.5,0.866,833.57,1480.1)" x="0" y="0" font-family="Liberation Sans, sans-serif" font-size="16.5" font-weight="bold">|HH&gt;</text>
<text transform="matrix(0.866,-0.5,0.479,0.878,752.67,1447.01)" x="0" y="0" font-family="Liberation Sans, sans-serif" font-size="16.5" font-weight="bold" text-anchor="end">|HV&gt;</text>
<text transform="matrix(0.891,0.454,-0.5,0.866,863.76,1468.6)" x="0" y="0" font-family="Liberation Sans, sans-serif" font-size="16.5" font-weight="bold">|HV&gt;</text>
<text transform="matrix(0.866,-0.5,0.479,0.878,775.73,1462.29)" x="0" y="0" font-family="Liberation Sans, sans-serif" font-size="16.5" font-weight="bold" text-anchor="end">|VH&gt;</text>
<text transform="matrix(0.891,0.454,-0.5,0.866,893.94,1457.1)" x="0" y="0" font-family="Liberation Sans, sans-serif" font-size="16.5" font-weight="bold">|VH&gt;</text>
<text transform="matrix(0.866,-0.5,0.479,0.878,798.78,1477.58)" x="0" y="0" font-family="Liberation Sans, sans-serif" font-size="16.5" font-weight="bold" text-anchor="end">|VV&gt;</text>
<text transform="matrix(0.891,0.454,-0.5,0.866,924.13,1445.6)" x="0" y="0" font-family="Liberation Sans, sans-serif" font-size="16.5" font-weight="bold">|VV&gt;</text>
<text x="988.3" y="961.8" font-family="Liberation Sans, sans-serif" font-size="41.5" font-weight="bold" text-anchor="start" fill="#000" letter-spacing="1.7">(g)</text>
<text x="1086.4" y="984.2" font-family="Liberation Sans, sans-serif" font-size="31.5" font-weight="bold" text-anchor="start" fill="#000" textLength="46.3" lengthAdjust="spacingAndGlyphs" >CH</text>
<text x="1131.9" y="993" font-family="Liberation Sans, sans-serif" font-size="18.2" font-weight="bold" font-style="italic" text-anchor="start" fill="#000" >&#945;</text>
<text x="1143.4" y="997" font-family="Liberation Serif, sans-serif" font-size="13.2" font-weight="normal" text-anchor="start" fill="#000" >4</text>
<text x="1152" y="993.3" font-family="Liberation Sans, sans-serif" font-size="15" font-weight="bold" text-anchor="start" fill="#000" >,</text>
<text x="1158.9" y="992.6" font-family="Liberation Sans, sans-serif" font-size="18.2" font-weight="bold" font-style="italic" text-anchor="start" fill="#000" >&#946;</text>
<text x="1169.6" y="997.4" font-family="Liberation Serif, sans-serif" font-size="13.2" font-weight="normal" text-anchor="start" fill="#000" >3</text>
<text transform="rotate(-90 1010 1086.2)" x="1010" y="1086.2" font-family="Liberation Sans, sans-serif" font-size="25.3" font-weight="bold" text-anchor="middle">Re(<tspan font-family="Liberation Serif, serif" font-weight="normal">&#961;</tspan>)</text>
<text transform="rotate(-90 1010 1354.1)" x="1010" y="1354.1" font-family="Liberation Sans, sans-serif" font-size="25.3" font-weight="bold" text-anchor="middle">Im(<tspan font-family="Liberation Serif, serif" font-weight="normal">&#961;</tspan>)</text>
<line x1="1065.52" y1="1161.52" x2="1180.22" y2="1117.82" stroke="#e3e3e3" stroke-width="0.9" />
<line x1="1068.37" y1="1150.8" x2="1155.97" y2="1208.9" stroke="#e3e3e3" stroke-width="0.9" />
<line x1="1068.37" y1="1150.8" x2="1068.37" y2="1019.8" stroke="#e3e3e3" stroke-width="0.9" />
<line x1="1180.22" y1="1117.82" x2="1180.22" y2="986.82" stroke="#e3e3e3" stroke-width="0.9" />
<line x1="1088.57" y1="1176.81" x2="1203.27" y2="1133.11" stroke="#e3e3e3" stroke-width="0.9" />
<line x1="1098.56" y1="1139.3" x2="1186.16" y2="1197.4" stroke="#e3e3e3" stroke-width="0.9" />
<line x1="1098.56" y1="1139.3" x2="1098.56" y2="1008.3" stroke="#e3e3e3" stroke-width="0.9" />
<line x1="1203.27" y1="1133.11" x2="1203.27" y2="1002.11" stroke="#e3e3e3" stroke-width="0.9" />
<line x1="1111.63" y1="1192.09" x2="1226.33" y2="1148.39" stroke="#e3e3e3" stroke-width="0.9" />
<line x1="1128.74" y1="1127.8" x2="1216.34" y2="1185.9" stroke="#e3e3e3" stroke-width="0.9" />
<line x1="1128.74" y1="1127.8" x2="1128.74" y2="996.8" stroke="#e3e3e3" stroke-width="0.9" />
<line x1="1226.33" y1="1148.39" x2="1226.33" y2="1017.39" stroke="#e3e3e3" stroke-width="0.9" />
<line x1="1134.68" y1="1207.38" x2="1249.38" y2="1163.68" stroke="#e3e3e3" stroke-width="0.9" />
<line x1="1158.93" y1="1116.3" x2="1246.53" y2="1174.4" stroke="#e3e3e3" stroke-width="0.9" />
<line x1="1158.93" y1="1116.3" x2="1158.93" y2="985.3" stroke="#e3e3e3" stroke-width="0.9" />
<line x1="1249.38" y1="1163.68" x2="1249.38" y2="1032.68" stroke="#e3e3e3" stroke-width="0.9" />
<line x1="1171" y1="1111.7" x2="1171" y2="980.7" stroke="#e3e3e3" stroke-width="0.9" />
<line x1="1056.3" y1="1024.4" x2="1171" y2="980.7" stroke="#e3e3e3" stroke-width="0.9" />
<line x1="1171" y1="980.7" x2="1258.6" y2="1038.8" stroke="#e3e3e3" stroke-width="0.9" />
<line x1="1056.3" y1="1057.15" x2="1171" y2="1013.45" stroke="#e3e3e3" stroke-width="0.9" />
<line x1="1171" y1="1013.45" x2="1258.6" y2="1071.55" stroke="#e3e3e3" stroke-width="0.9" />
<line x1="1056.3" y1="1089.9" x2="1171" y2="1046.2" stroke="#e3e3e3" stroke-width="0.9" />
<line x1="1171" y1="1046.2" x2="1258.6" y2="1104.3" stroke="#e3e3e3" stroke-width="0.9" />
<line x1="1056.3" y1="1122.65" x2="1171" y2="1078.95" stroke="#e3e3e3" stroke-width="0.9" />
<line x1="1171" y1="1078.95" x2="1258.6" y2="1137.05" stroke="#e3e3e3" stroke-width="0.9" />
<line x1="1056.3" y1="1155.4" x2="1171" y2="1111.7" stroke="#e3e3e3" stroke-width="0.9" />
<line x1="1171" y1="1111.7" x2="1258.6" y2="1169.8" stroke="#e3e3e3" stroke-width="0.9" />
<line x1="1056.3" y1="1155.4" x2="1056.3" y2="1024.4" stroke="#2b2b2b" stroke-width="1.1" />
<line x1="1056.3" y1="1155.4" x2="1143.9" y2="1213.5" stroke="#2b2b2b" stroke-width="1.1" />
<line x1="1143.9" y1="1213.5" x2="1258.6" y2="1169.8" stroke="#2b2b2b" stroke-width="1.1" />
<line x1="1065.52" y1="1161.52" x2="1062.8" y2="1162.55" stroke="#2b2b2b" stroke-width="1" />
<line x1="1155.97" y1="1208.9" x2="1158.28" y2="1210.43" stroke="#2b2b2b" stroke-width="1" />
<line x1="1088.57" y1="1176.81" x2="1085.86" y2="1177.84" stroke="#2b2b2b" stroke-width="1" />
<line x1="1186.16" y1="1197.4" x2="1188.46" y2="1198.93" stroke="#2b2b2b" stroke-width="1" />
<line x1="1111.63" y1="1192.09" x2="1108.91" y2="1193.13" stroke="#2b2b2b" stroke-width="1" />
<line x1="1216.34" y1="1185.9" x2="1218.65" y2="1187.43" stroke="#2b2b2b" stroke-width="1" />
<line x1="1134.68" y1="1207.38" x2="1131.96" y2="1208.42" stroke="#2b2b2b" stroke-width="1" />
<line x1="1246.53" y1="1174.4" x2="1248.83" y2="1175.93" stroke="#2b2b2b" stroke-width="1" />
<line x1="1056.3" y1="1024.4" x2="1053.99" y2="1022.87" stroke="#2b2b2b" stroke-width="1" />
<text x="1049.1" y="1026.5" font-family="Liberation Sans, sans-serif" font-size="15" font-weight="bold" text-anchor="end" fill="#000" textLength="22.94" lengthAdjust="spacingAndGlyphs" >0.5</text>
<line x1="1056.3" y1="1057.15" x2="1053.99" y2="1055.62" stroke="#2b2b2b" stroke-width="1" />
<text x="1049.1" y="1059.25" font-family="Liberation Sans, sans-serif" font-size="15" font-weight="bold" text-anchor="end" fill="#000" textLength="32.11" lengthAdjust="spacingAndGlyphs" >0.25</text>
<line x1="1056.3" y1="1089.9" x2="1053.99" y2="1088.37" stroke="#2b2b2b" stroke-width="1" />
<text x="1049.1" y="1092" font-family="Liberation Sans, sans-serif" font-size="15" font-weight="bold" text-anchor="end" fill="#000" textLength="9.17" lengthAdjust="spacingAndGlyphs" >0</text>
<line x1="1056.3" y1="1122.65" x2="1053.99" y2="1121.12" stroke="#2b2b2b" stroke-width="1" />
<text x="1049.1" y="1124.75" font-family="Liberation Sans, sans-serif" font-size="15" font-weight="bold" text-anchor="end" fill="#000" textLength="37.61" lengthAdjust="spacingAndGlyphs" >-0.25</text>
<line x1="1056.3" y1="1155.4" x2="1053.99" y2="1153.87" stroke="#2b2b2b" stroke-width="1" />
<text x="1049.1" y="1157.5" font-family="Liberation Sans, sans-serif" font-size="15" font-weight="bold" text-anchor="end" fill="#000" textLength="28.44" lengthAdjust="spacingAndGlyphs" >-0.5</text>
<polygon points="1146.85,1026.58 1165.29,1038.81 1165.29,1067.63 1146.85,1055.4" fill="url(#g41)" stroke="#33401f" stroke-width="0.9" stroke-linejoin="round"/>
<polygon points="1165.29,1038.81 1189.44,1029.61 1189.44,1058.43 1165.29,1067.63" fill="url(#g41)" stroke="#33401f" stroke-width="0.9" stroke-linejoin="round"/>
<polygon points="1146.85,1026.58 1165.29,1038.81 1189.44,1029.61 1171,1017.38" fill="#ffff62" stroke="#33401f" stroke-width="0.9" stroke-linejoin="round"/>
<polygon points="1116.67,1066.9 1135.11,1079.13 1135.11,1081.75 1116.67,1069.52" fill="#74c05c" stroke="#33401f" stroke-width="0.9" stroke-linejoin="round"/>
<polygon points="1135.11,1079.13 1159.26,1069.93 1159.26,1072.55 1135.11,1081.75" fill="#74c05c" stroke="#33401f" stroke-width="0.9" stroke-linejoin="round"/>
<polygon points="1116.67,1066.9 1135.11,1079.13 1159.26,1069.93 1140.82,1057.7" fill="#74c05c" stroke="#33401f" stroke-width="0.9" stroke-linejoin="round"/>
<polygon points="1169.91,1068.07 1188.35,1080.3 1188.35,1082.92 1169.91,1070.69" fill="#82c65d" stroke="#33401f" stroke-width="0.9" stroke-linejoin="round"/>
<polygon points="1188.35,1080.3 1212.49,1071.1 1212.49,1073.72 1188.35,1082.92" fill="#82c65d" stroke="#33401f" stroke-width="0.9" stroke-linejoin="round"/>
<polygon points="1169.91,1068.07 1188.35,1080.3 1212.49,1071.1 1194.05,1058.87" fill="#82c65d" stroke="#33401f" stroke-width="0.9" stroke-linejoin="round"/>
<polygon points="1086.48,1078.4 1104.93,1090.63 1104.93,1094.56 1086.48,1082.33" fill="url(#g42)" stroke="#33401f" stroke-width="0.9" stroke-linejoin="round"/>
<polygon points="1104.93,1090.63 1129.07,1081.43 1129.07,1085.36 1104.93,1094.56" fill="url(#g42)" stroke="#33401f" stroke-width="0.9" stroke-linejoin="round"/>
<polygon points="1086.48,1078.4 1104.93,1090.63 1129.07,1081.43 1110.63,1069.2" fill="#74c05c" stroke="#33401f" stroke-width="0.9" stroke-linejoin="round"/>
<polygon points="1139.72,1050.75 1158.16,1062.98 1158.16,1094.42 1139.72,1082.19" fill="url(#g43)" stroke="#33401f" stroke-width="0.9" stroke-linejoin="round"/>
<polygon points="1158.16,1062.98 1182.31,1053.78 1182.31,1085.22 1158.16,1094.42" fill="url(#g43)" stroke="#33401f" stroke-width="0.9" stroke-linejoin="round"/>
<polygon points="1139.72,1050.75 1158.16,1062.98 1182.31,1053.78 1163.87,1041.55" fill="#ffff62" stroke="#33401f" stroke-width="0.9" stroke-linejoin="round"/>
<polygon points="1192.96,1085.98 1211.4,1098.21 1211.4,1103.45 1192.96,1091.22" fill="url(#g44)" stroke="#33401f" stroke-width="0.9" stroke-linejoin="round"/>
<polygon points="1211.4,1098.21 1235.55,1089.01 1235.55,1094.25 1211.4,1103.45" fill="url(#g44)" stroke="#33401f" stroke-width="0.9" stroke-linejoin="round"/>
<polygon points="1192.96,1085.98 1211.4,1098.21 1235.55,1089.01 1217.11,1076.78" fill="#74c05c" stroke="#33401f" stroke-width="0.9" stroke-linejoin="round"/>
<polygon points="1056.3,1066.32 1074.74,1078.55 1074.74,1102.13 1056.3,1089.9" fill="url(#g45)" stroke="#33401f" stroke-width="0.9" stroke-linejoin="round"/>
<polygon points="1074.74,1078.55 1098.89,1069.35 1098.89,1092.93 1074.74,1102.13" fill="url(#g45)" stroke="#33401f" stroke-width="0.9" stroke-linejoin="round"/>
<polygon points="1056.3,1066.32 1074.74,1078.55 1098.89,1069.35 1080.45,1057.12" fill="#f1f961" stroke="#33401f" stroke-width="0.9" stroke-linejoin="round"/>
<polygon points="1109.54,1053.08 1127.98,1065.31 1127.98,1105.92 1109.54,1093.69" fill="url(#g46)" stroke="#33401f" stroke-width="0.9" stroke-linejoin="round"/>
<polygon points="1127.98,1065.31 1152.13,1056.11 1152.13,1096.72 1127.98,1105.92" fill="url(#g46)" stroke="#33401f" stroke-width="0.9" stroke-linejoin="round"/>
<polygon points="1109.54,1053.08 1127.98,1065.31 1152.13,1056.11 1133.68,1043.88" fill="#ffff62" stroke="#33401f" stroke-width="0.9" stroke-linejoin="round"/>
<polygon points="1162.77,1071.28 1181.22,1083.51 1181.22,1109.71 1162.77,1097.48" fill="url(#g47)" stroke="#33401f" stroke-width="0.9" stroke-linejoin="round"/>
<polygon points="1181.22,1083.51 1205.36,1074.31 1205.36,1100.51 1181.22,1109.71" fill="url(#g47)" stroke="#33401f" stroke-width="0.9" stroke-linejoin="round"/>
<polygon points="1162.77,1071.28 1181.22,1083.51 1205.36,1074.31 1186.92,1062.08" fill="#ffff62" stroke="#33401f" stroke-width="0.9" stroke-linejoin="round"/>
<polygon points="1216.01,1060.66 1234.45,1072.89 1234.45,1113.5 1216.01,1101.27" fill="url(#g48)" stroke="#33401f" stroke-width="0.9" stroke-linejoin="round"/>
<polygon points="1234.45,1072.89 1258.6,1063.69 1258.6,1104.3 1234.45,1113.5" fill="url(#g48)" stroke="#33401f" stroke-width="0.9" stroke-linejoin="round"/>
<polygon points="1216.01,1060.66 1234.45,1072.89 1258.6,1063.69 1240.16,1051.46" fill="#ffff62" stroke="#33401f" stroke-width="0.9" stroke-linejoin="round"/>
<polygon points="1079.35,1105.19 1097.79,1117.42 1097.79,1123.97 1079.35,1111.74" fill="url(#g49)" stroke="#33401f" stroke-width="0.9" stroke-linejoin="round"/>
<polygon points="1097.79,1117.42 1121.94,1108.22 1121.94,1114.77 1097.79,1123.97" fill="url(#g49)" stroke="#33401f" stroke-width="0.9" stroke-linejoin="round"/>
<polygon points="1079.35,1105.19 1097.79,1117.42 1121.94,1108.22 1103.5,1095.99" fill="#74c05c" stroke="#33401f" stroke-width="0.9" stroke-linejoin="round"/>
<polygon points="1132.59,1078.85 1151.03,1091.08 1151.03,1121.21 1132.59,1108.98" fill="url(#g50)" stroke="#33401f" stroke-width="0.9" stroke-linejoin="round"/>
<polygon points="1151.03,1091.08 1175.18,1081.88 1175.18,1112.01 1151.03,1121.21" fill="url(#g50)" stroke="#33401f" stroke-width="0.9" stroke-linejoin="round"/>
<polygon points="1132.59,1078.85 1151.03,1091.08 1175.18,1081.88 1156.74,1069.65" fill="#ffff62" stroke="#33401f" stroke-width="0.9" stroke-linejoin="round"/>
<polygon points="1185.83,1112.77 1204.27,1125 1204.27,1131.55 1185.83,1119.32" fill="url(#g51)" stroke="#33401f" stroke-width="0.9" stroke-linejoin="round"/>
<polygon points="1204.27,1125 1228.42,1115.8 1228.42,1122.35 1204.27,1131.55" fill="url(#g51)" stroke="#33401f" stroke-width="0.9" stroke-linejoin="round"/>
<polygon points="1185.83,1112.77 1204.27,1125 1228.42,1115.8 1209.97,1103.57" fill="#74c05c" stroke="#33401f" stroke-width="0.9" stroke-linejoin="round"/>
<polygon points="1102.41,1120.48 1120.85,1132.71 1120.85,1135.33 1102.41,1123.1" fill="#74c05c" stroke="#33401f" stroke-width="0.9" stroke-linejoin="round"/>
<polygon points="1120.85,1132.71 1144.99,1123.51 1144.99,1126.13 1120.85,1135.33" fill="#74c05c" stroke="#33401f" stroke-width="0.9" stroke-linejoin="round"/>
<polygon points="1102.41,1120.48 1120.85,1132.71 1144.99,1123.51 1126.55,1111.28" fill="#74c05c" stroke="#33401f" stroke-width="0.9" stroke-linejoin="round"/>
<polygon points="1155.64,1121.65 1174.08,1133.88 1174.08,1136.5 1155.64,1124.27" fill="#82c65d" stroke="#33401f" stroke-width="0.9" stroke-linejoin="round"/>
<polygon points="1174.08,1133.88 1198.23,1124.68 1198.23,1127.3 1174.08,1136.5" fill="#82c65d" stroke="#33401f" stroke-width="0.9" stroke-linejoin="round"/>
<polygon points="1155.64,1121.65 1174.08,1133.88 1198.23,1124.68 1179.79,1112.45" fill="#82c65d" stroke="#33401f" stroke-width="0.9" stroke-linejoin="round"/>
<polygon points="1125.46,1108.26 1143.9,1120.49 1143.9,1148 1125.46,1135.77" fill="url(#g52)" stroke="#33401f" stroke-width="0.9" stroke-linejoin="round"/>
<polygon points="1143.9,1120.49 1168.05,1111.29 1168.05,1138.8 1143.9,1148" fill="url(#g52)" stroke="#33401f" stroke-width="0.9" stroke-linejoin="round"/>
<polygon points="1125.46,1108.26 1143.9,1120.49 1168.05,1111.29 1149.61,1099.06" fill="#ffff62" stroke="#33401f" stroke-width="0.9" stroke-linejoin="round"/>
<text transform="matrix(0.866,-0.5,0.479,0.878,1056.52,1172.52)" x="0" y="0" font-family="Liberation Sans, sans-serif" font-size="16.5" font-weight="bold" text-anchor="end">|HH&gt;</text>
<text transform="matrix(0.891,0.454,-0.5,0.866,1160.47,1220.9)" x="0" y="0" font-family="Liberation Sans, sans-serif" font-size="16.5" font-weight="bold">|HH&gt;</text>
<text transform="matrix(0.866,-0.5,0.479,0.878,1079.57,1187.81)" x="0" y="0" font-family="Liberation Sans, sans-serif" font-size="16.5" font-weight="bold" text-anchor="end">|HV&gt;</text>
<text transform="matrix(0.891,0.454,-0.5,0.866,1190.66,1209.4)" x="0" y="0" font-family="Liberation Sans, sans-serif" font-size="16.5" font-weight="bold">|HV&gt;</text>
<text transform="matrix(0.866,-0.5,0.479,0.878,1102.63,1203.09)" x="0" y="0" font-family="Liberation Sans, sans-serif" font-size="16.5" font-weight="bold" text-anchor="end">|VH&gt;</text>
<text transform="matrix(0.891,0.454,-0.5,0.866,1220.84,1197.9)" x="0" y="0" font-family="Liberation Sans, sans-serif" font-size="16.5" font-weight="bold">|VH&gt;</text>
<text transform="matrix(0.866,-0.5,0.479,0.878,1125.68,1218.38)" x="0" y="0" font-family="Liberation Sans, sans-serif" font-size="16.5" font-weight="bold" text-anchor="end">|VV&gt;</text>
<text transform="matrix(0.891,0.454,-0.5,0.866,1251.03,1186.4)" x="0" y="0" font-family="Liberation Sans, sans-serif" font-size="16.5" font-weight="bold">|VV&gt;</text>
<line x1="1065.52" y1="1420.72" x2="1180.22" y2="1377.02" stroke="#e3e3e3" stroke-width="0.9" />
<line x1="1068.37" y1="1410" x2="1155.97" y2="1468.1" stroke="#e3e3e3" stroke-width="0.9" />
<line x1="1068.37" y1="1410" x2="1068.37" y2="1279" stroke="#e3e3e3" stroke-width="0.9" />
<line x1="1180.22" y1="1377.02" x2="1180.22" y2="1246.02" stroke="#e3e3e3" stroke-width="0.9" />
<line x1="1088.57" y1="1436.01" x2="1203.27" y2="1392.31" stroke="#e3e3e3" stroke-width="0.9" />
<line x1="1098.56" y1="1398.5" x2="1186.16" y2="1456.6" stroke="#e3e3e3" stroke-width="0.9" />
<line x1="1098.56" y1="1398.5" x2="1098.56" y2="1267.5" stroke="#e3e3e3" stroke-width="0.9" />
<line x1="1203.27" y1="1392.31" x2="1203.27" y2="1261.31" stroke="#e3e3e3" stroke-width="0.9" />
<line x1="1111.63" y1="1451.29" x2="1226.33" y2="1407.59" stroke="#e3e3e3" stroke-width="0.9" />
<line x1="1128.74" y1="1387" x2="1216.34" y2="1445.1" stroke="#e3e3e3" stroke-width="0.9" />
<line x1="1128.74" y1="1387" x2="1128.74" y2="1256" stroke="#e3e3e3" stroke-width="0.9" />
<line x1="1226.33" y1="1407.59" x2="1226.33" y2="1276.59" stroke="#e3e3e3" stroke-width="0.9" />
<line x1="1134.68" y1="1466.58" x2="1249.38" y2="1422.88" stroke="#e3e3e3" stroke-width="0.9" />
<line x1="1158.93" y1="1375.5" x2="1246.53" y2="1433.6" stroke="#e3e3e3" stroke-width="0.9" />
<line x1="1158.93" y1="1375.5" x2="1158.93" y2="1244.5" stroke="#e3e3e3" stroke-width="0.9" />
<line x1="1249.38" y1="1422.88" x2="1249.38" y2="1291.88" stroke="#e3e3e3" stroke-width="0.9" />
<line x1="1171" y1="1370.9" x2="1171" y2="1239.9" stroke="#e3e3e3" stroke-width="0.9" />
<line x1="1056.3" y1="1283.6" x2="1171" y2="1239.9" stroke="#e3e3e3" stroke-width="0.9" />
<line x1="1171" y1="1239.9" x2="1258.6" y2="1298" stroke="#e3e3e3" stroke-width="0.9" />
<line x1="1056.3" y1="1316.35" x2="1171" y2="1272.65" stroke="#e3e3e3" stroke-width="0.9" />
<line x1="1171" y1="1272.65" x2="1258.6" y2="1330.75" stroke="#e3e3e3" stroke-width="0.9" />
<line x1="1056.3" y1="1349.1" x2="1171" y2="1305.4" stroke="#e3e3e3" stroke-width="0.9" />
<line x1="1171" y1="1305.4" x2="1258.6" y2="1363.5" stroke="#e3e3e3" stroke-width="0.9" />
<line x1="1056.3" y1="1381.85" x2="1171" y2="1338.15" stroke="#e3e3e3" stroke-width="0.9" />
<line x1="1171" y1="1338.15" x2="1258.6" y2="1396.25" stroke="#e3e3e3" stroke-width="0.9" />
<line x1="1056.3" y1="1414.6" x2="1171" y2="1370.9" stroke="#e3e3e3" stroke-width="0.9" />
<line x1="1171" y1="1370.9" x2="1258.6" y2="1429" stroke="#e3e3e3" stroke-width="0.9" />
<line x1="1056.3" y1="1414.6" x2="1056.3" y2="1283.6" stroke="#2b2b2b" stroke-width="1.1" />
<line x1="1056.3" y1="1414.6" x2="1143.9" y2="1472.7" stroke="#2b2b2b" stroke-width="1.1" />
<line x1="1143.9" y1="1472.7" x2="1258.6" y2="1429" stroke="#2b2b2b" stroke-width="1.1" />
<line x1="1065.52" y1="1420.72" x2="1062.8" y2="1421.75" stroke="#2b2b2b" stroke-width="1" />
<line x1="1155.97" y1="1468.1" x2="1158.28" y2="1469.63" stroke="#2b2b2b" stroke-width="1" />
<line x1="1088.57" y1="1436.01" x2="1085.86" y2="1437.04" stroke="#2b2b2b" stroke-width="1" />
<line x1="1186.16" y1="1456.6" x2="1188.46" y2="1458.13" stroke="#2b2b2b" stroke-width="1" />
<line x1="1111.63" y1="1451.29" x2="1108.91" y2="1452.33" stroke="#2b2b2b" stroke-width="1" />
<line x1="1216.34" y1="1445.1" x2="1218.65" y2="1446.63" stroke="#2b2b2b" stroke-width="1" />
<line x1="1134.68" y1="1466.58" x2="1131.96" y2="1467.62" stroke="#2b2b2b" stroke-width="1" />
<line x1="1246.53" y1="1433.6" x2="1248.83" y2="1435.13" stroke="#2b2b2b" stroke-width="1" />
<line x1="1056.3" y1="1283.6" x2="1053.99" y2="1282.07" stroke="#2b2b2b" stroke-width="1" />
<text x="1049.1" y="1285.7" font-family="Liberation Sans, sans-serif" font-size="15" font-weight="bold" text-anchor="end" fill="#000" textLength="22.94" lengthAdjust="spacingAndGlyphs" >0.5</text>
<line x1="1056.3" y1="1316.35" x2="1053.99" y2="1314.82" stroke="#2b2b2b" stroke-width="1" />
<text x="1049.1" y="1318.45" font-family="Liberation Sans, sans-serif" font-size="15" font-weight="bold" text-anchor="end" fill="#000" textLength="32.11" lengthAdjust="spacingAndGlyphs" >0.25</text>
<line x1="1056.3" y1="1349.1" x2="1053.99" y2="1347.57" stroke="#2b2b2b" stroke-width="1" />
<text x="1049.1" y="1351.2" font-family="Liberation Sans, sans-serif" font-size="15" font-weight="bold" text-anchor="end" fill="#000" textLength="9.17" lengthAdjust="spacingAndGlyphs" >0</text>
<line x1="1056.3" y1="1381.85" x2="1053.99" y2="1380.32" stroke="#2b2b2b" stroke-width="1" />
<text x="1049.1" y="1383.95" font-family="Liberation Sans, sans-serif" font-size="15" font-weight="bold" text-anchor="end" fill="#000" textLength="37.61" lengthAdjust="spacingAndGlyphs" >-0.25</text>
<line x1="1056.3" y1="1414.6" x2="1053.99" y2="1413.07" stroke="#2b2b2b" stroke-width="1" />
<text x="1049.1" y="1416.7" font-family="Liberation Sans, sans-serif" font-size="15" font-weight="bold" text-anchor="end" fill="#000" textLength="28.44" lengthAdjust="spacingAndGlyphs" >-0.5</text>
<polygon points="1146.85,1309.36 1165.29,1321.59 1165.29,1326.83 1146.85,1314.6" fill="url(#g53)" stroke="#33401f" stroke-width="0.9" stroke-linejoin="round"/>
<polygon points="1165.29,1321.59 1189.44,1312.39 1189.44,1317.63 1165.29,1326.83" fill="url(#g53)" stroke="#33401f" stroke-width="0.9" stroke-linejoin="round"/>
<polygon points="1146.85,1309.36 1165.29,1321.59 1189.44,1312.39 1171,1300.16" fill="#8dcb5d" stroke="#33401f" stroke-width="0.9" stroke-linejoin="round"/>
<polygon points="1116.67,1299.9 1135.11,1312.13 1135.11,1338.33 1116.67,1326.1" fill="url(#g54)" stroke="#33401f" stroke-width="0.9" stroke-linejoin="round"/>
<polygon points="1135.11,1312.13 1159.26,1302.93 1159.26,1329.13 1135.11,1338.33" fill="url(#g54)" stroke="#33401f" stroke-width="0.9" stroke-linejoin="round"/>
<polygon points="1116.67,1299.9 1135.11,1312.13 1159.26,1302.93 1140.82,1290.7" fill="#f2f961" stroke="#33401f" stroke-width="0.9" stroke-linejoin="round"/>
<polygon points="1169.91,1329.89 1188.35,1342.12 1188.35,1376.18 1169.91,1363.95" fill="url(#g55)" stroke="#33401f" stroke-width="0.9" stroke-linejoin="round"/>
<polygon points="1188.35,1342.12 1212.49,1332.92 1212.49,1366.98 1188.35,1376.18" fill="url(#g55)" stroke="#33401f" stroke-width="0.9" stroke-linejoin="round"/>
<polygon points="1169.91,1329.89 1188.35,1342.12 1212.49,1332.92 1194.05,1320.69" fill="#74c05c" stroke="#33401f" stroke-width="0.9" stroke-linejoin="round"/>
<polygon points="1086.48,1308.78 1104.93,1321.01 1104.93,1349.83 1086.48,1337.6" fill="url(#g56)" stroke="#33401f" stroke-width="0.9" stroke-linejoin="round"/>
<polygon points="1104.93,1321.01 1129.07,1311.81 1129.07,1340.63 1104.93,1349.83" fill="url(#g56)" stroke="#33401f" stroke-width="0.9" stroke-linejoin="round"/>
<polygon points="1086.48,1308.78 1104.93,1321.01 1129.07,1311.81 1110.63,1299.58" fill="#ffff62" stroke="#33401f" stroke-width="0.9" stroke-linejoin="round"/>
<polygon points="1139.72,1340.08 1158.16,1352.31 1158.16,1353.62 1139.72,1341.39" fill="#7ac35c" stroke="#33401f" stroke-width="0.9" stroke-linejoin="round"/>
<polygon points="1158.16,1352.31 1182.31,1343.11 1182.31,1344.42 1158.16,1353.62" fill="#7ac35c" stroke="#33401f" stroke-width="0.9" stroke-linejoin="round"/>
<polygon points="1139.72,1340.08 1158.16,1352.31 1182.31,1343.11 1163.87,1330.88" fill="#7ac35c" stroke="#33401f" stroke-width="0.9" stroke-linejoin="round"/>
<polygon points="1192.96,1345.18 1211.4,1357.41 1211.4,1386.23 1192.96,1374" fill="url(#g57)" stroke="#33401f" stroke-width="0.9" stroke-linejoin="round"/>
<polygon points="1211.4,1357.41 1235.55,1348.21 1235.55,1377.03 1211.4,1386.23" fill="url(#g57)" stroke="#33401f" stroke-width="0.9" stroke-linejoin="round"/>
<polygon points="1192.96,1345.18 1211.4,1357.41 1235.55,1348.21 1217.11,1335.98" fill="#74c05c" stroke="#33401f" stroke-width="0.9" stroke-linejoin="round"/>
<polygon points="1056.3,1348.58 1074.74,1360.81 1074.74,1361.33 1056.3,1349.1" fill="#77c15c" stroke="#33401f" stroke-width="0.9" stroke-linejoin="round"/>
<polygon points="1074.74,1360.81 1098.89,1351.61 1098.89,1352.13 1074.74,1361.33" fill="#77c15c" stroke="#33401f" stroke-width="0.9" stroke-linejoin="round"/>
<polygon points="1056.3,1348.58 1074.74,1360.81 1098.89,1351.61 1080.45,1339.38" fill="#77c15c" stroke="#33401f" stroke-width="0.9" stroke-linejoin="round"/>
<polygon points="1109.54,1352.37 1127.98,1364.6 1127.98,1365.12 1109.54,1352.89" fill="#77c15c" stroke="#33401f" stroke-width="0.9" stroke-linejoin="round"/>
<polygon points="1127.98,1364.6 1152.13,1355.4 1152.13,1355.92 1127.98,1365.12" fill="#77c15c" stroke="#33401f" stroke-width="0.9" stroke-linejoin="round"/>
<polygon points="1109.54,1352.37 1127.98,1364.6 1152.13,1355.4 1133.68,1343.17" fill="#77c15c" stroke="#33401f" stroke-width="0.9" stroke-linejoin="round"/>
<polygon points="1162.77,1356.15 1181.22,1368.39 1181.22,1368.91 1162.77,1356.68" fill="#77c15c" stroke="#33401f" stroke-width="0.9" stroke-linejoin="round"/>
<polygon points="1181.22,1368.39 1205.36,1359.19 1205.36,1359.71 1181.22,1368.91" fill="#77c15c" stroke="#33401f" stroke-width="0.9" stroke-linejoin="round"/>
<polygon points="1162.77,1356.15 1181.22,1368.39 1205.36,1359.19 1186.92,1346.95" fill="#77c15c" stroke="#33401f" stroke-width="0.9" stroke-linejoin="round"/>
<polygon points="1216.01,1359.94 1234.45,1372.18 1234.45,1372.7 1216.01,1360.47" fill="#77c15c" stroke="#33401f" stroke-width="0.9" stroke-linejoin="round"/>
<polygon points="1234.45,1372.18 1258.6,1362.98 1258.6,1363.5 1234.45,1372.7" fill="#77c15c" stroke="#33401f" stroke-width="0.9" stroke-linejoin="round"/>
<polygon points="1216.01,1359.94 1234.45,1372.18 1258.6,1362.98 1240.16,1350.74" fill="#77c15c" stroke="#33401f" stroke-width="0.9" stroke-linejoin="round"/>
<polygon points="1079.35,1364.39 1097.79,1376.62 1097.79,1408.72 1079.35,1396.48" fill="url(#g58)" stroke="#33401f" stroke-width="0.9" stroke-linejoin="round"/>
<polygon points="1097.79,1376.62 1121.94,1367.42 1121.94,1399.52 1097.79,1408.72" fill="url(#g58)" stroke="#33401f" stroke-width="0.9" stroke-linejoin="round"/>
<polygon points="1079.35,1364.39 1097.79,1376.62 1121.94,1367.42 1103.5,1355.19" fill="#74c05c" stroke="#33401f" stroke-width="0.9" stroke-linejoin="round"/>
<polygon points="1132.59,1368.18 1151.03,1380.41 1151.03,1381.72 1132.59,1369.49" fill="#74c05c" stroke="#33401f" stroke-width="0.9" stroke-linejoin="round"/>
<polygon points="1151.03,1380.41 1175.18,1371.21 1175.18,1372.52 1151.03,1381.72" fill="#74c05c" stroke="#33401f" stroke-width="0.9" stroke-linejoin="round"/>
<polygon points="1132.59,1368.18 1151.03,1380.41 1175.18,1371.21 1156.74,1358.98" fill="#74c05c" stroke="#33401f" stroke-width="0.9" stroke-linejoin="round"/>
<polygon points="1185.83,1343.15 1204.27,1355.38 1204.27,1384.2 1185.83,1371.97" fill="url(#g59)" stroke="#33401f" stroke-width="0.9" stroke-linejoin="round"/>
<polygon points="1204.27,1355.38 1228.42,1346.18 1228.42,1375 1204.27,1384.2" fill="url(#g59)" stroke="#33401f" stroke-width="0.9" stroke-linejoin="round"/>
<polygon points="1185.83,1343.15 1204.27,1355.38 1228.42,1346.18 1209.97,1333.95" fill="#ffff62" stroke="#33401f" stroke-width="0.9" stroke-linejoin="round"/>
<polygon points="1102.41,1379.68 1120.85,1391.91 1120.85,1420.73 1102.41,1408.5" fill="url(#g60)" stroke="#33401f" stroke-width="0.9" stroke-linejoin="round"/>
<polygon points="1120.85,1391.91 1144.99,1382.71 1144.99,1411.53 1120.85,1420.73" fill="url(#g60)" stroke="#33401f" stroke-width="0.9" stroke-linejoin="round"/>
<polygon points="1102.41,1379.68 1120.85,1391.91 1144.99,1382.71 1126.55,1370.48" fill="#74c05c" stroke="#33401f" stroke-width="0.9" stroke-linejoin="round"/>
<polygon points="1155.64,1349.41 1174.08,1361.64 1174.08,1395.7 1155.64,1383.47" fill="url(#g61)" stroke="#33401f" stroke-width="0.9" stroke-linejoin="round"/>
<polygon points="1174.08,1361.64 1198.23,1352.44 1198.23,1386.5 1174.08,1395.7" fill="url(#g61)" stroke="#33401f" stroke-width="0.9" stroke-linejoin="round"/>
<polygon points="1155.64,1349.41 1174.08,1361.64 1198.23,1352.44 1179.79,1340.21" fill="#ffff62" stroke="#33401f" stroke-width="0.9" stroke-linejoin="round"/>
<polygon points="1125.46,1394.97 1143.9,1407.2 1143.9,1413.75 1125.46,1401.52" fill="url(#g62)" stroke="#33401f" stroke-width="0.9" stroke-linejoin="round"/>
<polygon points="1143.9,1407.2 1168.05,1398 1168.05,1404.55 1143.9,1413.75" fill="url(#g62)" stroke="#33401f" stroke-width="0.9" stroke-linejoin="round"/>
<polygon points="1125.46,1394.97 1143.9,1407.2 1168.05,1398 1149.61,1385.77" fill="#74c05c" stroke="#33401f" stroke-width="0.9" stroke-linejoin="round"/>
<text transform="matrix(0.866,-0.5,0.479,0.878,1056.52,1431.72)" x="0" y="0" font-family="Liberation Sans, sans-serif" font-size="16.5" font-weight="bold" text-anchor="end">|HH&gt;</text>
<text transform="matrix(0.891,0.454,-0.5,0.866,1160.47,1480.1)" x="0" y="0" font-family="Liberation Sans, sans-serif" font-size="16.5" font-weight="bold">|HH&gt;</text>
<text transform="matrix(0.866,-0.5,0.479,0.878,1079.57,1447.01)" x="0" y="0" font-family="Liberation Sans, sans-serif" font-size="16.5" font-weight="bold" text-anchor="end">|HV&gt;</text>
<text transform="matrix(0.891,0.454,-0.5,0.866,1190.66,1468.6)" x="0" y="0" font-family="Liberation Sans, sans-serif" font-size="16.5" font-weight="bold">|HV&gt;</text>
<text transform="matrix(0.866,-0.5,0.479,0.878,1102.63,1462.29)" x="0" y="0" font-family="Liberation Sans, sans-serif" font-size="16.5" font-weight="bold" text-anchor="end">|VH&gt;</text>
<text transform="matrix(0.891,0.454,-0.5,0.866,1220.84,1457.1)" x="0" y="0" font-family="Liberation Sans, sans-serif" font-size="16.5" font-weight="bold">|VH&gt;</text>
<text transform="matrix(0.866,-0.5,0.479,0.878,1125.68,1477.58)" x="0" y="0" font-family="Liberation Sans, sans-serif" font-size="16.5" font-weight="bold" text-anchor="end">|VV&gt;</text>
<text transform="matrix(0.891,0.454,-0.5,0.866,1251.03,1445.6)" x="0" y="0" font-family="Liberation Sans, sans-serif" font-size="16.5" font-weight="bold">|VV&gt;</text>
</svg>
</body></html>
